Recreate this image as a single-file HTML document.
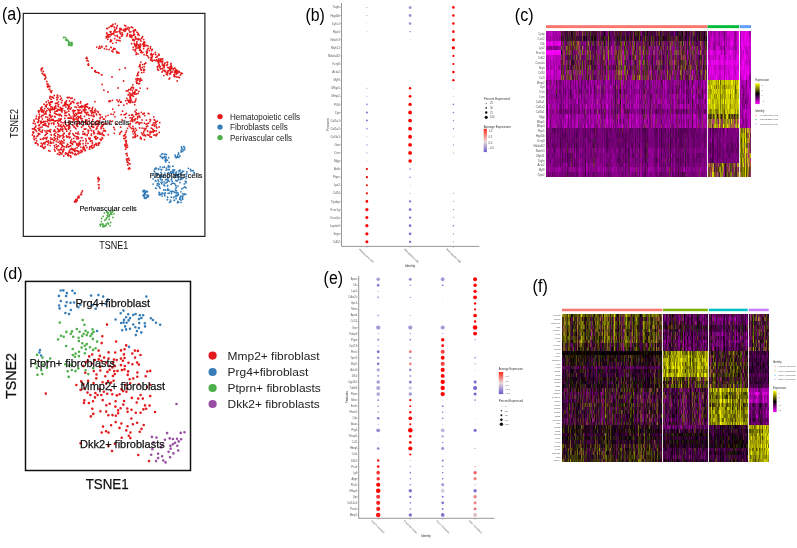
<!DOCTYPE html>
<html><head><meta charset="utf-8"><style>
html,body{margin:0;padding:0;background:#fff;}
svg{display:block;font-family:"Liberation Sans", sans-serif;will-change:transform;}
</style></head><body>
<svg width="797" height="548" viewBox="0 0 797 548">
<rect width="797" height="548" fill="#fff"/>
<text x="2" y="19.9" font-size="18" fill="#000" textLength="19.6" lengthAdjust="spacingAndGlyphs">(a)</text>
<path fill="none" stroke="#e41a1c" stroke-width="1.8" stroke-linecap="round" d="M55.5 103.5h0M71.2 117.1h0M35.9 126.1h0M34.4 121.4h0M63 146.3h0M40.7 108.1h0M78 153.9h0M74.2 119.1h0M95 112.3h0M54.4 145.6h0M45 130.8h0M78.8 117.5h0M72.1 98h0M81.9 121h0M54.8 131h0M65.1 112.9h0M90.3 138.2h0M49.6 130.3h0M70.4 149.3h0M85.5 112.2h0M62.5 141.9h0M42.8 124.9h0M34.5 136.2h0M88.1 130.2h0M96.3 113.8h0M83 131.6h0M74.5 122.8h0M66.6 136h0M36.1 138.3h0M92.3 112h0M60.1 136.3h0M33.3 123.2h0M36 142.6h0M41.2 109.6h0M60.5 149.1h0M37.6 122.4h0M72.2 149.8h0M52.2 120.2h0M58.1 149.9h0M44.6 108.7h0M48.8 124.6h0M75.1 110.6h0M58.9 129.8h0M102 137.6h0M69.7 133h0M98.1 143.3h0M96.2 144.4h0M60.6 119.2h0M39.3 134.1h0M47 104.3h0M56.7 97.3h0M39.1 117h0M77 103.4h0M50.2 116h0M58.5 101.8h0M66 124.6h0M56.9 110.7h0M70.6 103.3h0M70.6 155.8h0M95.4 138h0M50.9 117.2h0M43.9 142.8h0M71 143.2h0M56 108.1h0M94.6 144.9h0M92.1 140.8h0M48.4 126.7h0M57.9 95.8h0M50.8 137.8h0M102.3 122.3h0M102.2 117h0M47.9 108.3h0M46.1 106.9h0M77.7 150.9h0M93.7 124.3h0M79.9 144.5h0M37.9 135.7h0M98.8 143.4h0M87 124.2h0M44.8 143.9h0M56.2 144.6h0M103.4 119h0M61.3 153.8h0M85.2 104.7h0M98.5 145h0M42.4 146.2h0M104 135.5h0M57.5 128.7h0M103.3 135.1h0M70.5 153h0M63.7 149.1h0M92.7 107.3h0M50.2 112.5h0M49.4 131.1h0M50.8 120.5h0M57.7 123h0M74.7 151.2h0M62.7 152h0M68.7 127.6h0M64.1 105.6h0M44.3 123.9h0M85.2 129.2h0M55.7 126.8h0M72.6 143.6h0M39.4 129.4h0M50 111.5h0M88.7 126.1h0M73.1 142h0M99 122h0M76.9 126h0M69.4 137.8h0M65 127.7h0M66.9 153.5h0M83.3 149.4h0M72.9 153.6h0M40.6 121.9h0M37 136.3h0M43 139.3h0M80.4 103h0M61 124.8h0M43.5 121.3h0M69.7 115.4h0M46.1 114.1h0M72.5 121.8h0M77.7 126.4h0M39.3 110.8h0M51.6 102.2h0M62.8 151.6h0M92.1 110.3h0M73.8 138.3h0M82.5 120.9h0M78.5 144.7h0M65.1 115.4h0M72.5 152.6h0M51.4 102.2h0M70.5 109.1h0M54.7 113.3h0M87.7 112.3h0M68.6 105.2h0M57.2 95.1h0M85.8 128.8h0M45.6 124h0M92.1 121.3h0M68.2 146.7h0M60.6 126h0M56.9 146.6h0M83.8 134.2h0M61.5 116h0M36.8 140.8h0M50.5 104.3h0M95.9 136.4h0M52.4 109.3h0M53.3 123h0M43.2 122.2h0M103.5 128.6h0M54.5 116.5h0M66.7 125.8h0M46.5 125.9h0M38.2 119.2h0M54.1 108.7h0M74.9 127.4h0M87.1 135.6h0M84.5 149.6h0M60.4 114.6h0M85.1 134.7h0M97.5 133.6h0M85.8 145.3h0M41.9 127.1h0M68.9 146.8h0M91.1 146.2h0M74.8 150.4h0M82.1 137.8h0M41.4 116.8h0M72.9 133.7h0M77.9 137h0M90.5 141.3h0M68.8 127.8h0M86 109.9h0M85.5 107h0M68.1 118.2h0M67 137.2h0M88.3 133h0M42.5 110h0M86.5 113.2h0M81.3 137.7h0M81.5 112.4h0M69.8 123.4h0M66.1 101.5h0M64.8 111h0M47.2 130.7h0M42.1 127.1h0M92.2 126.2h0M97.1 138.5h0M48.7 150.7h0M64.9 113.1h0M42 115.7h0M55 147.1h0M100.1 139.1h0M98.2 112.3h0M59.1 118.8h0M105.4 131.2h0M58.3 121.1h0M51.9 97.1h0M50 110.8h0M69.4 106h0M59.2 154.4h0M96.9 145.3h0M78.2 151.7h0M101.1 128.7h0M85.7 122.5h0M87.2 134.7h0M52.8 97.1h0M66.5 115.7h0M53.6 140.7h0M80.1 113h0M72.8 118.9h0M44 104.2h0M68.3 107.9h0M64.9 102.8h0M56.9 99.8h0M49.3 110.3h0M73.7 150.1h0M87 120.1h0M62.2 127.1h0M59.5 115.4h0M68.8 133.8h0M51.6 109.7h0M61.1 122.2h0M34 138.8h0M97.8 123.9h0M60.5 152.6h0M92.6 148.1h0M70.2 137.1h0M101.2 139.6h0M79.4 142.3h0M65.4 128.9h0M79.3 113.2h0M41.1 109.9h0M78.6 138.2h0M70.4 130.8h0M60.3 108.1h0M53.9 123.1h0M102.5 134.7h0M96.9 124h0M48.9 109.6h0M102.6 138.5h0M54.3 95.4h0M68.4 136.6h0M62.6 110.3h0M80.9 152.5h0M56.6 120.6h0M82 106.5h0M90.5 140.7h0M68.9 107h0M92.2 108.6h0M48 142.1h0M68.2 105.8h0M48.1 120.4h0M42.4 118.9h0M36 118.9h0M100.4 114.8h0M80.7 117.9h0M59.2 115h0M52.3 116.2h0M58 145.9h0M92.3 121.3h0M35.2 123.9h0M59.1 152.1h0M45.9 117h0M62 145.3h0M56.7 111.2h0M102.4 133h0M51 139.3h0M55 111.4h0M99.3 134.1h0M48.9 124h0M60.2 109.9h0M63.4 125.2h0M90.9 140.7h0M92.4 142.8h0M76.5 114.7h0M55.2 116.9h0M46.2 141.6h0M49.9 98.1h0M34.1 128.9h0M51.2 99.3h0M38.7 125.5h0M84.1 122.2h0M48.9 120.3h0M77.4 136.6h0M86.9 147.5h0M80.7 101.7h0M93.7 112.6h0M73.5 117.6h0M86.1 106.6h0M49.9 109.5h0M74.3 114.6h0M69.1 108.6h0M91.3 135.3h0M66.7 145.8h0M103.5 130.9h0M100.3 117.5h0M95.6 122.4h0M50.8 143.2h0M75.7 133.2h0M47.7 117.3h0M42 106.9h0M50.4 131.9h0M79.8 106.9h0M81.7 105.7h0M54.7 106.9h0M90.4 128.6h0M60.8 128.8h0M43.7 137.9h0M61.9 111.9h0M54.7 129.8h0M58 120.3h0M58.5 106.5h0M85.4 106.9h0M62.9 145.8h0M61.6 149.8h0M65.7 104.3h0M32.7 128.9h0M78.9 151.5h0M38.2 133.3h0M59 125.9h0M42.4 111.9h0M70.1 152.5h0M39.6 125h0M46.2 102h0M67.3 97.4h0M100 118.5h0M98.4 133.2h0M89.7 108h0M61.5 147.5h0M47.7 119.3h0M69.9 118.2h0M40.7 109.6h0M85.2 150.7h0M34.6 129.5h0M75.9 128.8h0M77.9 113.4h0M62.6 130.8h0M63.1 135.6h0M64.6 121.7h0M33.3 133.1h0M67.8 108.9h0M88 143.3h0M65.5 105.3h0M66.6 100.8h0M41.1 121.2h0M38.4 121.9h0M85.8 143.1h0M69.4 97.4h0M68.8 117.9h0M85.7 145.5h0M67.9 154.5h0M36.4 116.2h0M87.5 104h0M97.9 111.4h0M68.7 152.1h0M47 110.6h0M69 114.2h0M81.8 150.6h0M44.1 143.6h0M40.1 127.5h0M78.6 116.7h0M96.1 129.1h0M74.5 149.8h0M78.1 118.9h0M90.5 110.7h0M104.8 130.5h0M58.2 142.3h0M64.3 105.2h0M92.2 110h0M74.9 135.9h0M77.1 121.3h0M69.5 150.6h0M41.4 108.4h0M39.5 116.6h0M48.2 130.9h0M75.1 106.9h0M77.7 124h0M49.6 103.4h0M38.7 134.3h0M96 143.4h0M61.3 110.7h0M32.4 134.8h0M73.2 116.1h0M79.3 122h0M100.9 140.4h0M50 151.1h0M34.9 127.6h0M61.6 109h0M35.9 143.2h0M32.5 128.8h0M46.3 132.4h0M69.1 134.5h0M54.5 113h0M89.5 139.2h0M86.7 123.4h0M86.4 122.6h0M48.3 100.7h0M56.4 141.4h0M83 147.4h0M84.2 110.8h0M72.5 121.6h0M89.9 127.1h0M51.2 134.6h0M50.8 108.9h0M86.7 114.7h0M96.6 114.8h0M78.2 137.8h0M66.3 147.1h0M83.2 148.2h0M63.9 139.8h0M73.7 113.4h0M47.3 133.3h0M57.1 103h0M82.8 134.1h0M83.1 140.6h0M36.5 131.3h0M58.5 145.7h0M94.2 145.3h0M78.5 146.1h0M78.3 112.2h0M87.6 107h0M55.2 120.8h0M52.5 139.2h0M58.8 114.3h0M102.8 125.8h0M94.5 133.1h0M33.9 120.1h0M63.9 142.9h0M57.2 138.5h0M71.3 107.7h0M67.9 144.4h0M45.2 125.3h0M57.3 146.6h0M52.6 107.6h0M83.3 125.5h0M39.7 134.2h0M37.6 143.8h0M83.1 143.7h0M78 116.5h0M61.3 118.9h0M46.8 110.6h0M98.2 125.7h0M59.6 149.9h0M48.9 123.1h0M70.9 141.7h0M87.2 134.8h0M57.4 114.6h0M43.1 147.3h0M80.5 140.9h0M44.1 121.7h0M88.8 130.6h0M40.9 123.2h0M45.8 113.1h0M83.6 147.3h0M49.9 114.6h0M70.2 104.2h0M55.8 106h0M39.1 118.3h0M85.8 121.5h0M46.1 134.3h0M60.3 96.1h0M61.1 144h0M82.8 125.6h0M78.3 123.3h0M42.1 132.2h0M61.5 140.8h0M98.7 121.2h0M74 141.3h0M62.7 108.4h0M85 149.6h0M88.8 138.2h0M94.6 137h0M79 122.7h0M54.7 133.7h0M38.8 120.5h0M89.4 139.1h0M78.1 109.8h0M62.9 122.8h0M77.5 119.9h0M45.1 135.4h0M89.1 118.6h0M67.8 155.6h0M34.4 128.3h0M43.5 143.4h0M101.1 126.8h0M39.1 130.3h0M71.6 139.3h0M69.5 134.4h0M92.9 127h0M61.9 153.9h0M47.1 137.3h0M60.6 142.2h0M57.9 97.6h0M51.9 119.3h0M62.7 138.1h0M57.6 110.8h0M48.2 140.9h0M101.1 127.3h0M47.8 144.7h0M60.6 107.4h0M41.2 143.1h0M91.4 134.1h0M66.3 129.5h0M57.7 134.4h0M92.1 145.6h0M66.2 112.6h0M72.1 101.9h0M93.2 116.4h0M94.5 110.9h0M59.4 110h0M63.1 105.7h0M52.4 109.5h0M53.9 124.3h0M63.3 134.3h0M80.3 116.9h0M98.5 143.6h0M42 146.5h0M80.1 109.8h0M48.9 143.1h0M57.2 103.6h0M98.4 144h0M76.6 143.4h0M81 150.5h0M89.8 147h0M46.2 137.8h0M70.8 140.9h0M64 149.8h0M72.6 110.7h0M48.9 102.8h0M68 97.7h0M66.1 103.1h0M67.9 125.5h0M71.5 148.5h0M66.2 129.6h0M80.8 147.1h0M59.3 120.5h0M78.7 134.2h0M33.7 132.5h0M69.3 124.6h0M84.7 133.5h0M56.6 148.5h0M58.7 124h0M70.4 142.7h0M47.2 121.5h0M62.8 129h0M92.7 112.5h0M92.8 119.5h0M68.8 111.2h0M69 155.6h0M80 144.1h0M56.1 114h0M53.7 131.1h0M78.5 143.6h0M34.6 139.7h0M97 128.5h0M99.7 132.5h0M80.2 143.9h0M98.8 132.7h0M77.2 133.6h0M83.1 131.7h0M81.9 107.4h0M80.9 122.9h0M80.1 117.3h0M92.4 143.7h0M73.1 110.3h0M53.9 120.7h0M55.1 121.2h0M79 153h0M35.6 129.9h0M91.5 130.4h0M99.5 122.2h0M75.3 153.3h0M104.1 124h0M62.1 100.4h0M79.2 107.4h0M84.8 109.3h0M85.8 105.8h0M35.3 142.9h0M84.3 148.1h0M78.1 138.8h0M65.6 152.9h0M32.7 135.1h0M54.6 140.1h0M43.9 148.4h0M67.5 97.8h0M58.8 130.3h0M64 136.8h0M42.3 144.4h0M58.4 134.8h0M78.1 120.4h0M60.1 143.7h0M73.5 112.5h0M83.6 146.3h0M56.1 132.3h0M76 113.5h0M63.3 150.1h0M59.4 137.3h0M76.1 150.6h0M91.3 111.9h0M62.8 131.1h0M73.9 111.3h0M94.5 145h0M82.2 151.7h0M57.2 99.4h0M72.5 144.4h0M46.4 141.4h0M76.4 136.8h0M66 107.1h0M50.4 141.5h0M90.1 123.1h0M38.1 145h0M88.7 108.7h0M74.4 150.7h0M97 127h0M66.8 131.2h0M45.6 106.2h0M45 138.3h0M58.4 129.7h0M61.3 126.7h0M39.4 134h0M75.7 115.8h0M95.6 124.7h0M73.5 110.5h0M89.2 120.9h0M50.4 96.4h0M46.5 105.4h0M72.8 149h0M65.5 153.9h0M75.8 119.1h0M50.6 129.7h0M81.1 118.8h0M64.7 104.1h0M50.5 116.2h0M89.7 138.8h0M81.6 112.9h0M75.3 141.9h0M39.4 114.5h0M50.6 101.8h0M67.2 104.7h0M49.2 103h0M84.6 106.3h0M41.9 122.3h0M93.8 133.7h0M65 115.5h0M92.4 124.2h0M78 103h0M84.3 129h0M51.3 120h0M43.1 111.1h0M93.6 115.1h0M44 125h0M55.1 151.1h0M81 107.3h0M66.9 112.1h0M50.7 106.7h0M38.8 112.3h0M85.3 112.6h0M91.2 115.5h0M93.1 127.3h0M45.3 121.5h0M73.8 102.7h0M44.9 142.7h0M84.2 106.4h0M76.6 125.3h0M51.8 107h0M76.9 138.7h0M91.6 130.8h0M85.7 119.8h0M91.5 115.2h0M98.9 124.1h0M96 110.8h0M45.3 146.6h0M58.7 104.3h0M59 131.6h0M64.5 126.6h0M40.5 139.2h0M55.3 138.9h0M59.8 141.5h0M102.1 125.3h0M69.5 127.5h0M50.1 145.6h0M83.3 106.3h0M32.9 131.9h0M74.2 127h0M95.9 139.3h0M68.1 125.6h0M52.3 101.7h0M61.6 102.7h0M75.3 148.4h0M42.5 130.2h0M86.8 104.4h0M60.3 120.6h0M93.7 127.2h0M60.8 153.5h0M89 115.4h0M49.4 115.2h0M63.8 156h0M91.8 147.6h0M35.6 126.7h0M50 120.7h0M78.4 117h0M70.8 98.4h0M63.6 125.9h0M100.8 134h0M79 110.8h0M81.7 111.3h0M71.7 152.4h0M77.5 109.8h0M70.1 121.4h0M54.2 134.9h0M40.5 131.6h0M102.3 126.5h0M51.4 123.5h0M71.1 103.4h0M53.3 119.7h0M52.9 109.4h0M38.1 128.5h0M93.7 132.5h0M73.7 135.1h0M46.5 138.9h0M65.7 128.6h0M76.9 123.6h0M54.5 109.3h0M48 126.4h0M59.9 131h0M95.3 109.1h0M72.7 125.1h0M53.4 142.8h0M96 121.8h0M36.2 118.5h0M64.1 140.5h0M43 115.3h0M57.6 136.7h0M77.1 147.7h0M92.3 126.7h0M86.2 141h0M87.7 124h0M89.6 138.8h0M88.2 131h0M68.4 154.8h0M73.9 120.4h0M89.5 149.2h0M76.5 118h0M65 122.9h0M85 112.5h0M60.5 129.1h0M60 114.4h0M89.8 147.7h0M68.5 122.1h0M45.2 113.2h0M42.3 130.4h0M74.6 99.6h0M99.6 114.5h0M93.9 147h0M63.1 151.5h0M73.3 125.4h0M99.6 142.9h0M69.8 126.7h0M82.2 118.6h0M58 131.6h0M57.5 153.9h0M81.6 127.2h0M38.9 117.7h0M61.2 129.5h0M74 149.6h0M102.9 124.8h0M64.1 133.5h0M70.8 145.6h0M44.2 114.1h0M69.5 101h0M97.7 137.6h0M97.2 120.6h0M43.2 112.3h0M69.4 125.9h0M45.5 105.5h0M78.2 132.1h0M62 143.8h0M54.3 137.7h0M93.8 131h0M81 106.4h0M68.4 129h0M51.3 134.9h0M70.9 157h0M74.1 120h0M70.2 146h0M76.9 145h0M88.5 114.4h0M84.5 116.4h0M44.1 110.8h0M74.6 116.1h0M64.8 118.4h0M74.7 154.6h0M64.1 133.2h0M50 96.8h0M54.9 150.8h0M91.9 113.2h0M76.1 154.7h0M68.2 154h0M49.6 118.6h0M84.7 108h0M54.4 149.3h0M67.4 144.1h0M49.6 105h0M58.1 105.8h0M73.1 101.3h0M71 118.4h0M61.4 98.1h0M40.7 146.2h0M57.6 109.5h0M45.7 111.9h0M80.7 115.6h0M43.1 138.6h0M38.4 111h0M64.4 146.9h0M57.7 139.7h0M59.5 154.6h0M68.9 108.4h0M65.1 102.3h0M83.8 110.5h0M98.1 131.1h0M58.8 109.6h0M76.5 107.4h0M69.5 128.3h0M51.6 142.8h0M60 135.6h0M73.6 113.6h0M60.4 99.4h0M44.7 147.8h0M55.3 135.9h0M39.7 129.5h0M58.3 125.6h0M53.5 98.2h0M54.6 108.3h0M40.9 139.3h0M52.5 119.5h0M98.8 143h0M41.4 111.5h0M33.8 137h0M80.6 116.2h0M62.1 135.7h0M83.3 109.7h0M94.2 116.3h0M78.1 105.5h0M85.8 139h0M42.5 68.2h0M43.3 71.5h0M44.2 75.3h0M41.8 68.4h0M47.9 83.9h0M49.7 89.2h0M48.7 85.8h0M44.8 79h0M45.5 76.2h0M49.1 89.3h0M44.8 74.6h0M49.8 89.6h0M42.1 68.5h0M41.4 70.7h0M42.1 73.3h0M49.5 86.4h0M48.1 85.5h0M47.8 87.3h0M44.7 74.5h0M51.4 91.6h0M50.6 91.5h0M47.7 87.1h0M47.2 83.9h0M41.1 69.1h0M45.1 78.7h0M51.8 90.8h0M49.8 86.7h0M47.3 86.2h0M43.4 74.4h0M51.3 92.4h0M46.8 81.5h0M41.9 68.9h0M45.7 78h0M44.9 75.3h0M117.6 36.7h0M109.1 27.3h0M114.1 31.8h0M121.8 29.7h0M110.2 41.5h0M107.3 34.4h0M110.8 39.9h0M114.7 38.7h0M107.8 36.7h0M115.7 32.1h0M118.7 40.3h0M106.8 28.4h0M111.3 26.5h0M108.3 37.4h0M112.9 24.5h0M110.6 32.3h0M111.3 25.7h0M106.2 37.8h0M122.6 34.4h0M106.7 32.8h0M112.6 26.2h0M121.5 36.2h0M116.2 42.6h0M116.6 27.5h0M120.1 28.5h0M108.1 36h0M107.8 39.3h0M119.9 38.3h0M110.7 26.1h0M119.8 29h0M111.4 34.1h0M111.5 40.3h0M115.1 35.8h0M119.7 37.5h0M113.7 33h0M107.6 28.6h0M115.3 23.8h0M117.3 25.6h0M112.8 43.3h0M112.7 26.2h0M120.1 40.8h0M119.1 31.4h0M109.9 36.6h0M114.1 31.3h0M110.9 31.7h0M116.9 40.2h0M110.1 31.7h0M115 29.7h0M110.6 32.1h0M122.3 35.6h0M117.1 35.4h0M110.1 34.6h0M122.1 32.6h0M116.5 28.6h0M111 41.5h0M117.1 31.8h0M106.3 36.5h0M111.5 34.8h0M112.3 33.7h0M115 30.7h0M121 34.1h0M114.4 27.5h0M113.7 34.2h0M108.8 34.6h0M106.8 33.3h0M110.9 47.3h0M106.4 46.1h0M106.8 49.3h0M109.2 49.4h0M114.6 48.9h0M119 53.1h0M98.8 48.3h0M106 46.4h0M118.5 52.3h0M115 49.1h0M115.1 48.8h0M102.2 46.8h0M96.8 47.1h0M101.6 46.5h0M113.1 49.6h0M116.8 51.9h0M116.6 51.5h0M117.1 53.1h0M100.4 48.1h0M104.5 48.7h0M111.9 50.9h0M99.5 46.5h0M113 51.8h0M113.9 48.3h0M111.2 47.5h0M151 57.4h0M127 35.7h0M160.6 60.2h0M134.6 34.7h0M169 70.4h0M131.2 27.2h0M127.4 34.5h0M133.4 35.2h0M137 41.6h0M144.5 43.9h0M171.4 72.1h0M158.5 65.8h0M179.1 71.4h0M143.8 43.3h0M147.6 55.8h0M170.9 64.2h0M131.6 37.3h0M160.1 61.6h0M150.4 48.5h0M170.8 69.4h0M170.8 72.5h0M127.2 28.8h0M133.2 39.5h0M158.9 54.2h0M133.7 32.9h0M147.3 51.7h0M143.7 46h0M121.1 28.8h0M144.8 42.2h0M144.1 54.7h0M125.8 26h0M160.8 60.8h0M138.3 39.7h0M137.3 39.1h0M148.7 57.7h0M181.8 73.6h0M151.9 57.7h0M169.5 73.7h0M156 60.7h0M142.5 44.2h0M164.5 70.2h0M174.4 76.6h0M136.7 42.9h0M163.5 65.2h0M158.5 59h0M153.6 54.1h0M126 28.4h0M135 45.2h0M149.4 50.6h0M139.1 35.3h0M144.1 43.8h0M119.8 31.5h0M147.2 49.9h0M155.7 54.6h0M135.5 30.4h0M141 41h0M162.4 65h0M176.4 73.7h0M173.9 75h0M128.1 27.5h0M150.6 59.6h0M138.1 46.9h0M142.9 52.3h0M125.9 30h0M174.7 71.5h0M142.5 36.7h0M133.9 31.8h0M162.7 61.1h0M145.4 45.3h0M152.7 60.3h0M160.4 58.9h0M160.6 69h0M159.1 55.2h0M165.3 71h0M143.9 43.2h0M133.7 35.2h0M170.7 72.9h0M176.2 71.9h0M137.5 44.6h0M158.7 60.2h0M160.4 61.1h0M125.5 29h0M123.6 30.6h0M140.2 44.1h0M157.5 56.1h0M150.5 46.7h0M174.2 75h0M181.3 73.5h0M154.4 60.1h0M143.9 42.2h0M134.2 30.4h0M167.6 62.5h0M168.8 67.9h0M151.7 55.1h0M152.3 56.5h0M157.1 56.8h0M165 63h0M160.2 66.3h0M167 64.9h0M163.1 70.7h0M148.2 48.5h0M148.5 57.4h0M132.6 27.7h0M147.3 52.7h0M166.6 65.3h0M180.4 75.1h0M166.9 62.1h0M124.7 25.3h0M125.2 29.9h0M155.3 52.5h0M176.4 74h0M133.5 30.4h0M161.1 68.8h0M135.3 29.7h0M167.5 64.4h0M178.3 77.1h0M158.6 59.1h0M167.8 67.4h0M135.9 44.9h0M127.5 33.7h0M125 31.4h0M141.3 51h0M124.9 30.5h0M141.4 51.8h0M175.1 76.5h0M137.8 34.5h0M138.7 38.6h0M138.5 34.5h0M164.1 67.2h0M134.3 43.4h0M135.3 36.8h0M129.7 36.5h0M173.1 69.8h0M162.6 68.5h0M140.2 39.7h0M146.4 55.2h0M131.1 35.2h0M155.9 57.3h0M151.4 58.9h0M132.9 39.2h0M139.2 48.3h0M173.4 68.8h0M167.4 74.9h0M143.7 39.6h0M126.7 36.1h0M119.8 32h0M130.1 35.1h0M129.4 28.1h0M162 59.1h0M136.2 46.1h0M159.9 67.5h0M181 73h0M135 39.6h0M162.7 58.9h0M151.8 50.5h0M147.9 46h0M120.1 33.1h0M135.9 44.3h0M129.6 31.9h0M130.9 31.8h0M132.2 36h0M129.9 35h0M152.2 49.3h0M140.7 45.5h0M175.1 72.9h0M132.7 40.1h0M170.4 74h0M141.5 38.4h0M142.3 37.4h0M124 29.4h0M143.6 48.7h0M144.2 42h0M159.2 64.3h0M152.2 55h0M157.6 67.4h0M170 73.4h0M144.6 46.3h0M141.7 52.7h0M143.4 46.3h0M146.4 45.3h0M182.3 73.6h0M152.4 61h0M136.7 38.7h0M143.7 44.6h0M137 32.2h0M167.8 72.2h0M176.9 70.3h0M161.4 61.6h0M157.4 61h0M135 44.6h0M119.9 30.2h0M170.4 70.7h0M151.1 60.4h0M136 38.2h0M164.4 64.1h0M162.3 63h0M150.7 54.7h0M160.3 60.9h0M156.6 59.9h0M135.4 37.5h0M134.1 40.7h0M146.7 53.2h0M151.3 53.4h0M138.3 33.5h0M174.6 74.8h0M151.1 53.9h0M170.2 66.5h0M130.9 36.9h0M146.4 51.9h0M166.1 72.1h0M174.7 68h0M140.2 49.7h0M171.3 65.8h0M133.3 31.2h0M128.9 30h0M139.8 48.8h0M138.6 47.7h0M136.3 53h0M138.5 46.5h0M136.7 44.6h0M135.1 46.1h0M133.2 49.6h0M131.6 43.7h0M138.9 45.1h0M134.6 44.6h0M138 53.9h0M133.2 47.3h0M139.7 50.3h0M135.9 46.5h0M138.8 45.4h0M135.5 50.7h0M139.9 46.3h0M135.2 49.7h0M135.1 51h0M139.3 46.7h0M136.8 48.4h0M140.9 52.4h0M136.1 47.9h0M140.2 47.2h0M136.2 54.4h0M167.9 70.8h0M169.8 78.1h0M174.1 76.3h0M174.4 72.2h0M176.8 76.9h0M159.2 64.9h0M158.7 61.9h0M176.3 72.4h0M175.2 70.6h0M167.3 72.8h0M165 71.4h0M163.4 65.8h0M164.5 65.6h0M179.2 72.2h0M169.8 69.2h0M157.4 66.7h0M179.4 77.6h0M161.5 61.1h0M170.5 68.2h0M168.5 70.8h0M171.8 68h0M157.4 66.9h0M170.4 69h0M171.3 67.1h0M163.9 75.6h0M177.7 73h0M157.6 69.5h0M177.6 71h0M174.2 74.8h0M164 64.6h0M158.7 62.1h0M177.2 80.9h0M167.2 74.5h0M163.9 65.1h0M171.7 67h0M171.1 63.4h0M166.3 74.1h0M162 72h0M158.5 70.2h0M175.7 69.5h0M163.9 67.7h0M176.3 70.9h0M169.1 79h0M172.1 71.9h0M158.4 63.1h0M135 92.3h0M140.4 68.1h0M140.1 64.5h0M141.8 80.2h0M136.6 89.8h0M137 75.6h0M133.5 88.7h0M133.7 92.8h0M132.7 95.6h0M130.7 89h0M136 79h0M139.9 81.4h0M138.9 78.8h0M128.4 100.4h0M130.4 98.4h0M130.6 96.8h0M133.5 87.7h0M137.8 75.5h0M133.4 96.4h0M135.8 89.8h0M142.3 67.4h0M128.1 94.8h0M140.1 66.6h0M137.3 82.8h0M129.7 97.1h0M130.9 95.5h0M136.5 81.9h0M130.8 93.8h0M129.3 92.8h0M134.3 93.5h0M139.5 83.6h0M130.6 102.4h0M138.6 83.8h0M139.7 80.4h0M133.4 93.5h0M129.1 95.1h0M127.6 100.2h0M136.3 81.2h0M140 66h0M137.2 78.7h0M140.7 79.8h0M137.8 73.4h0M132.8 92.5h0M140.9 62.1h0M140.6 78.3h0M140.7 69.6h0M141.4 70h0M140 64.6h0M142.7 64.6h0M132.9 84.8h0M133.6 92.9h0M137.9 74.9h0M132 87.3h0M129.7 93.3h0M136.6 90.2h0M145.8 63h0M136.8 83.3h0M143.9 72.1h0M141.8 72.7h0M132.1 94.4h0M143.9 69.1h0M130.7 98.7h0M132.2 87.2h0M144.6 64h0M138.6 72.1h0M144.6 70.1h0M144.3 66.7h0M143.8 69.7h0M138.6 78.9h0M143.6 70h0M138.9 91.4h0M140.1 88.1h0M129 101.1h0M128.7 89.6h0M132.3 90.3h0M132.9 102.3h0M136 98.8h0M131.3 100.1h0M131.5 87.6h0M135.4 101.1h0M130.4 96.7h0M138 93.5h0M134.7 94.2h0M130.4 89.8h0M130.7 101.2h0M134.9 91.3h0M126.4 90.9h0M136.2 94h0M135.6 100.5h0M126.9 98.3h0M125.7 100.8h0M127.9 90.9h0M128.6 102h0M134.8 102.1h0M131.3 95h0M88.2 65.1h0M88.7 65.3h0M88.5 63.9h0M88.2 61.1h0M86.2 58.2h0M86.9 60.7h0M87.2 58.7h0M86.7 57.4h0M88 64.3h0M95 71.3h0M101.5 74.9h0M92.2 67.9h0M95.6 72h0M95.2 70.7h0M98.6 72.6h0M96.9 72.3h0M101.9 74.7h0M94.8 71.2h0M91.7 68h0M99 73.3h0M119.5 69.6h0M125.2 68h0M123.6 81h0M102.2 84.4h0M103.9 90.2h0M94.9 101.7h0M117 100h0M147.4 88.5h0M139.2 66.4h0M137.5 80.3h0M112 77h0M108 92h0M118 88h0M143.7 133h0M159.2 132.4h0M139.4 115.8h0M133.1 128.5h0M148.2 113.3h0M141.7 132.9h0M150.5 119.9h0M154.7 120.2h0M147.1 123.8h0M156.2 130.9h0M141.3 139h0M152.8 131.3h0M137.7 116.5h0M148.1 135.1h0M155.8 121.7h0M132.9 126.4h0M153.8 116.8h0M138.9 113.5h0M138.4 122.7h0M134.6 120.7h0M139.2 124.3h0M131.8 119.3h0M141.8 122.8h0M135.1 137.4h0M143.8 135.4h0M150.3 133.8h0M139 116.3h0M154.5 125.2h0M147.6 130.8h0M154.3 119.7h0M140.7 137.7h0M146.5 120.1h0M150.1 119.3h0M156.9 127.9h0M140.4 138.3h0M137.3 118.8h0M130.4 127.4h0M154.4 131h0M142.4 134.6h0M131.9 120.6h0M150.2 131.4h0M155.1 123h0M140 123h0M156.2 121.8h0M134.5 136.4h0M146.6 126.6h0M151.4 137.2h0M132.7 121.5h0M130.3 123.6h0M145.6 135.9h0M151.4 128.2h0M142.1 128.1h0M137.6 135.7h0M155.6 135.5h0M133.3 130.8h0M154.4 126h0M154 135h0M150.7 136.6h0M132.6 131.7h0M152.6 129.1h0M137.6 113.9h0M149.1 135.1h0M137.6 118h0M135.8 114.6h0M156.1 122.1h0M157.4 121.1h0M132.9 119.7h0M130.1 124.5h0M147.4 134.6h0M131.9 118.3h0M150 121.5h0M139.6 127.9h0M135.6 134.2h0M135.3 135.5h0M156.3 127h0M129 126.1h0M142.8 113.8h0M150.1 132.3h0M148.5 123.2h0M145.9 128.5h0M135.9 136.3h0M144.7 115.7h0M143.9 131.1h0M152.8 124.7h0M140 117.3h0M142.1 119.9h0M134.8 132.6h0M146.1 124.3h0M134.9 131.7h0M134.9 119.4h0M147.6 131.6h0M153.3 132.1h0M130.2 117.8h0M153.3 129.6h0M137.2 122h0M133.7 129.7h0M140.4 137.2h0M156.2 124.7h0M131.6 115h0M133.4 133.8h0M144.5 139.7h0M144.7 135h0M132.5 115h0M147.7 126.2h0M135.3 119.1h0M153.6 122.8h0M156.4 135.6h0M135.5 128.4h0M141.3 112.3h0M157.1 134h0M144.2 113.2h0M159.1 127h0M130.5 121.1h0M149.9 136.8h0M145 129.9h0M135.2 118.8h0M159.7 122.7h0M131.6 128.6h0M132.4 117.6h0M144 128.4h0M150.3 131.8h0M143.4 113.9h0M144.5 123.2h0M151.6 132h0M136.4 130.2h0M152.2 125.2h0M133 137.5h0M149 113.8h0M136 123h0M155.6 135.1h0M126.4 113.3h0M109.1 101.7h0M136.3 114.4h0M109.1 100.9h0M115 116.8h0M114.4 112.1h0M135 111.5h0M134.7 104.7h0M112.4 100.3h0M130 101.9h0M136.2 112.8h0M113.4 114.5h0M112.7 109.2h0M111.1 114.2h0M133.8 116.5h0M108.1 115.3h0M124.1 114.8h0M122.6 111.2h0M125.2 114.4h0M110.3 101h0M123.8 105.2h0M119.5 100.1h0M129.6 100.4h0M132.1 114.6h0M121.3 102.2h0M126.9 103.7h0M120.4 102h0M136.3 109.8h0M118.2 101.7h0M129.2 115.3h0M132.6 101.8h0M118.7 105.4h0M130.1 102.7h0M125.6 117.6h0M130.3 100.1h0M105.8 116.5h0M120.6 127.2h0M116.5 124h0M113.8 127.4h0M119.6 134.2h0M121.6 131.5h0M125.9 132.4h0M121.2 114.7h0M120.3 132.7h0M114.3 133.3h0M108.3 134.7h0M114.6 129.5h0M110.1 120.6h0M112.4 121.1h0M106.3 123.7h0M127.5 128.4h0M126.4 130.8h0M124.1 135.9h0M122.1 120h0M110 123.1h0M104.5 119.1h0M125.3 134.3h0M125.5 146.4h0M127.2 162.1h0M128.4 162.7h0M123.8 138.6h0M125.8 145.8h0M126.4 147.6h0M129.9 168.7h0M126.9 153.4h0M126.1 153.8h0M125.6 149.2h0M126.6 159.1h0M125.5 137.7h0M124.8 145h0M124.8 135h0M126.7 160.1h0M125.4 140.8h0M127.5 158.9h0M127.5 161.1h0M126.4 143.3h0M123.6 135.8h0M126.1 141.9h0M128.5 168.8h0M127.2 155.5h0M127.1 155.8h0M127.4 145.1h0M125.9 136.8h0M127.5 147.2h0M124.8 138.6h0M128.4 169h0M125.1 144.4h0M126.4 140.7h0M126.4 145.3h0M128.2 158.9h0M129.4 160.2h0M129.3 167.6h0M130 163.9h0M129.4 163.8h0M127.7 164.9h0M128.6 158.2h0M125 134.9h0M99.1 187.5h0M98.5 184.7h0M99.1 184.8h0M99.2 178.9h0M98.8 188.4h0M98.5 184.7h0M99.3 179.8h0M98.1 177.5h0M97.9 178.8h0M98.3 181.4h0M76 202h0M76.5 199.9h0M78.9 195.8h0M77.2 200.5h0M76.9 199.4h0M81.6 192.5h0M75.7 200.5h0M77.9 198h0M80.7 194.5h0M82.4 190.8h0M81.5 194.6h0M75.8 199.7h0M78 197h0M79.2 197.4h0M74.5 201.8h0M78.6 196.5h0M76.4 200.3h0M74.6 201.4h0"/>
<path fill="none" stroke="#377eb8" stroke-width="1.8" stroke-linecap="round" d="M181.2 150.4h0M176.3 157.1h0M184.6 147.6h0M177.8 154.8h0M175.1 155.2h0M178.8 157.4h0M176.3 157.3h0M183.5 149.8h0M178.3 157.2h0M184.3 147.6h0M176.8 157.2h0M179.9 156h0M181.1 151.9h0M181.7 148h0M182.7 151.4h0M176.2 157.9h0M184.6 149.5h0M178.7 153.8h0M183.9 146.4h0M177.9 154.8h0M182.1 148.8h0M178.5 152.8h0M181.6 146.9h0M175.4 156.7h0M177.7 156.7h0M168.2 166.9h0M164.3 157.1h0M168.8 167h0M166.5 154.6h0M168.7 157.7h0M163.2 157.3h0M165.1 160.6h0M166 159.5h0M160.2 156.1h0M164.9 156.7h0M165.4 159.4h0M165.7 161.9h0M169.2 162.3h0M168.4 165.7h0M166.3 168.1h0M162.7 158.6h0M166.2 157.4h0M165.3 158.8h0M162.8 153.7h0M162.5 157.3h0M161.5 154.5h0M165.2 156.9h0M166.5 160.6h0M164.7 154.5h0M161.5 157.4h0M165.3 154.2h0M167.5 160.1h0M169 166.8h0M161.1 172.4h0M173.5 183.2h0M167.3 199.8h0M176.1 198.7h0M186.5 176.2h0M186 181.5h0M163.1 177h0M167.6 186.1h0M182.7 196.7h0M175.8 185.5h0M157 175.3h0M176 188.3h0M181 200.2h0M186.7 173.3h0M172.9 172.9h0M177.2 175.7h0M161.2 179.9h0M171.3 191.7h0M174.8 183.9h0M176.5 196.4h0M153.2 184.1h0M176.7 192.9h0M175.6 172.8h0M161.1 182.4h0M186.5 173.9h0M184.5 174.8h0M178.7 179.7h0M176.2 195.1h0M157.4 174.5h0M160.4 176.1h0M154.2 171.2h0M167.2 182h0M155.6 188.1h0M186 187.9h0M165.4 192.8h0M168.2 172.7h0M169.8 166.7h0M176.6 172.1h0M179.8 197.8h0M175.4 190.1h0M177.6 202.7h0M159.8 195.1h0M163.5 175.7h0M181.7 188.8h0M182.7 199.3h0M173.6 173.5h0M178.4 176.4h0M159 192.4h0M153 174.7h0M162.2 193h0M186.9 171.6h0M164.7 185.8h0M164.1 181.9h0M169.7 175.8h0M154.8 169.2h0M158.6 169.5h0M174.8 192.5h0M162.1 196.1h0M178.5 179h0M170.2 173.2h0M185.5 187.3h0M154.7 171.8h0M177.2 180.6h0M178.1 174.7h0M180.9 196.5h0M156.2 188.3h0M159.6 192.9h0M181.1 196.1h0M161 169.5h0M176.2 187.5h0M157.8 173.3h0M173.3 170.1h0M175.2 175.2h0M162 182.1h0M171.6 193.5h0M160.7 177.1h0M175.4 192.3h0M174.5 200.3h0M160.1 177.8h0M176.2 175.9h0M158.4 174.6h0M180 197.4h0M178 202.4h0M180.8 177.8h0M164 193.4h0M156 167.9h0M170.9 171.7h0M169.1 173.5h0M157.1 185.3h0M171.2 179.8h0M178 186.1h0M180.1 170h0M155.4 180.7h0M169.9 175.6h0M176.4 174.4h0M164.1 184.1h0M177.9 195.3h0M165.9 183h0M174.6 170h0M168.9 190.2h0M162.7 167.4h0M157.4 183.7h0M174.6 177.4h0M180 182.6h0M155.9 181h0M154.7 176.9h0M179.9 171.1h0M156.6 168.7h0M158.7 186.2h0M182.1 172.4h0M167.8 178.8h0M157.2 175.2h0M162 194.1h0M169.5 202.3h0M174.1 177h0M169.2 193.2h0M178.7 170.9h0M164.8 175.4h0M161.9 183.8h0M182.9 178.2h0M159 194.3h0M164.9 173.1h0M167.6 197.2h0M183.2 187.8h0M174.2 200.2h0M186.3 178.4h0M182.7 197.1h0M162.2 179.9h0M166.1 179.4h0M166.2 170.2h0M167.3 190.2h0M184 194.7h0M178.5 194.7h0M181.4 175.6h0M175.9 180.5h0M182.4 171.1h0M171.8 178.8h0M181.7 179.1h0M182.5 198.2h0M183.7 171.3h0M185.8 194.3h0M176.7 190.8h0M172.1 183.3h0M164.8 195.8h0M180.4 199.1h0M160.4 178.9h0M161.7 169.8h0M164.4 167h0M180.9 174.6h0M155.4 168.6h0M178.9 173.5h0M169.1 181.3h0M181.1 202.3h0M163.8 190h0M184.3 183.9h0M184.5 193.9h0M173 170h0M173.5 197.5h0M171.1 184.4h0M167.5 199.5h0M176.3 173.9h0M165.6 179.8h0M168.1 193.3h0M168 169.5h0M171.3 197.2h0M180.6 179.6h0M160.7 194.3h0M181 174.3h0M168.1 180.5h0M177.8 201.3h0M160 177.5h0M164.4 193.8h0M159.5 186.8h0M170.5 191.4h0M180.8 173h0M184.8 187h0M179.6 199h0M160.2 166.9h0M170.5 200.1h0M170.8 201.4h0M172.6 171.5h0M175.1 196.5h0M167.8 188.9h0M162 176.5h0M167.7 185.5h0M169.3 169.5h0M153.1 178.9h0M178.1 194.4h0M161.2 175.7h0M171 172.7h0M174.1 200.4h0M160 188.2h0M178.2 194.5h0M177.9 193h0M186 182.8h0M155.9 168.6h0M180.9 191.8h0M157.9 183.5h0M164.7 195.1h0M161.5 173.6h0M158.6 181.6h0M174.6 177.5h0M158.6 174.3h0M155.9 173.3h0M164 185.2h0M159.3 184.2h0M170 201.9h0M169.4 173.5h0M173.7 171.5h0M158.8 168.8h0M177.5 202.7h0M167.1 179.5h0M167.8 179.4h0M177.1 180.9h0M173 166.2h0M182.7 193.7h0M165.3 189.9h0M185.2 181.3h0M168.1 177.3h0M172.4 191.2h0M178.7 202.1h0M158 179.9h0M182.8 196.1h0M173.6 191.7h0M172.2 181.3h0M143.3 190.5h0M148.3 196.7h0M145.4 194h0M144.5 197.6h0M144.4 194.3h0M148.5 195.3h0M145.3 192.5h0M144.7 195h0M147.5 191.8h0M144.6 193h0M144.5 197.7h0M145.8 192h0M144.3 196.9h0M143.1 195.7h0M143 191.6h0M147.1 196h0M145.9 197.8h0M145 191.2h0M147.2 197.2h0M144.7 190.3h0M148.1 196.3h0M146.2 198.3h0M147 195.2h0M143.3 195h0M144.5 198.3h0M145 193h0M143.8 191.6h0M146.9 191.1h0M143.3 190.9h0M144.5 196.1h0M188.4 168.3h0M193.3 170.6h0M190.7 170.7h0M192.1 170.8h0M194.1 172.6h0M190.5 169.5h0M194.2 173.3h0M194.3 172.7h0"/>
<path fill="none" stroke="#4daf4a" stroke-width="1.8" stroke-linecap="round" d="M65.3 37.4h0M66 39.6h0M63.6 37.5h0M68.7 41.7h0M63.6 37.5h0M66.2 39.7h0M67.1 40.7h0M65.8 40.1h0M69.1 43.3h0M68 40.4h0M66.6 38.9h0M69 42.8h0M71.9 45.3h0M69.6 45h0M69.3 44.4h0M68.8 45.4h0M70.4 43.1h0M68.7 45h0M70.9 45.6h0M70.9 43.7h0M71.9 42.4h0M69.4 42.5h0M72.4 43.8h0M71.6 43h0M71.7 44.6h0M68.5 44h0M110.8 213.6h0M109.7 214.7h0M104.9 225.6h0M105.8 219.7h0M106.3 224.7h0M105.4 226.2h0M106.6 212h0M111.3 212.5h0M110.1 210.9h0M111.1 212.2h0M109.4 216.4h0M102.8 223.9h0M100.1 224.5h0M113.7 210.6h0M106.5 218h0M110.7 222.4h0M104.4 225.9h0M112.4 212h0M101.7 218.5h0M104.3 212.8h0M111.9 214.3h0M114 213.8h0M109.3 219.1h0M113 217.5h0M100.3 225.5h0M111.2 213.9h0M106.4 224h0M101.3 221.6h0M108 216.9h0M106.5 218.4h0M103.1 216.3h0M108 223h0M108.6 212.8h0M107.9 215.3h0M109.2 219.6h0M104.7 226.1h0M109.3 219.2h0M104.7 220.3h0M103.7 226.5h0M102.7 226.5h0M107.9 213.5h0M107.2 212h0M110.2 225.8h0M105.6 225.3h0M108.6 224h0M101.6 224.1h0M100.3 225.8h0M103.1 225h0M107.3 215.5h0M110.4 211.1h0"/>
<rect x="23.3" y="13.4" width="181.6" height="223" fill="none" stroke="#222" stroke-width="1.2"/>
<text x="64.4" y="124.6" font-size="7.5" fill="#111" textLength="65" lengthAdjust="spacingAndGlyphs" stroke="#111" stroke-width="0.15">Hematopoietic cells</text>
<text x="149.8" y="177.8" font-size="7.5" fill="#111" textLength="52.7" lengthAdjust="spacingAndGlyphs" stroke="#111" stroke-width="0.15">Fibroblasts cells</text>
<text x="79.4" y="210.7" font-size="7.5" fill="#111" textLength="57.4" lengthAdjust="spacingAndGlyphs" stroke="#111" stroke-width="0.15">Perivascular cells</text>
<text transform="translate(18.2 123.6) rotate(-90)" font-size="10.5" fill="#111" text-anchor="middle" textLength="29" lengthAdjust="spacingAndGlyphs">TSNE2</text>
<text x="113.8" y="248.6" font-size="10.3" fill="#111" text-anchor="middle" textLength="29" lengthAdjust="spacingAndGlyphs">TSNE1</text>
<circle cx="220" cy="116.6" r="2.7" fill="#e41a1c"/>
<text x="230" y="119.6" font-size="8.8" fill="#222" textLength="70" lengthAdjust="spacingAndGlyphs">Hematopoietic cells</text>
<circle cx="220" cy="127.1" r="2.7" fill="#377eb8"/>
<text x="230" y="130.1" font-size="8.8" fill="#222" textLength="57.7" lengthAdjust="spacingAndGlyphs">Fibroblasts cells</text>
<circle cx="220" cy="137.6" r="2.7" fill="#4daf4a"/>
<text x="230" y="140.6" font-size="8.8" fill="#222" textLength="62" lengthAdjust="spacingAndGlyphs">Perivascular cells</text>
<text x="3" y="279.2" font-size="17.2" fill="#000" textLength="19.6" lengthAdjust="spacingAndGlyphs">(d)</text>
<path fill="none" stroke="#e41a1c" stroke-width="2.6" stroke-linecap="round" d="M124.8 366h0M116.8 395.4h0M106.3 383.6h0M90.4 395h0M122.9 360.7h0M115.6 401.3h0M92.3 408.7h0M132.3 353.5h0M99.9 355.9h0M112.4 367.5h0M102.6 382.3h0M106.3 405.2h0M124.6 358h0M98.6 350.6h0M104.1 357.6h0M123.3 404.6h0M138.8 364.6h0M88.9 403h0M108.4 415.2h0M107.4 371.9h0M90.8 416.4h0M113.6 380.8h0M109.7 403.8h0M130.2 383.3h0M96.3 378.4h0M133.3 378.5h0M121.4 389.2h0M111 390.2h0M99.7 389h0M106.2 411.6h0M137.9 350.9h0M119.6 394.2h0M93.8 371h0M124.1 401h0M97.6 395h0M88.1 380.9h0M103.9 391.8h0M121.9 370.1h0M128.1 371.4h0M115.4 406.6h0M93 401.2h0M106.2 362.6h0M108.6 358.6h0M114.2 371h0M137.3 376.8h0M109.6 366h0M137.4 372.5h0M120.6 408.3h0M132.4 364.2h0M101.4 360.7h0M135.8 412.8h0M108.6 352.4h0M123.9 354.4h0M135.1 357.6h0M102.7 400.1h0M93.6 383.1h0M87.8 360.6h0M91.7 363.6h0M113.9 359.6h0M129.7 379.2h0M100.1 366.9h0M118.1 410.4h0M92.2 354.5h0M123.1 391.1h0M124.5 369.4h0M112.8 363.1h0M109.7 369.7h0M117.5 370.9h0M101.3 395h0M115.2 352.5h0M84.3 388.6h0M115.8 415.8h0M105.3 376.2h0M124.6 349.3h0M140.6 395h0M89.2 356.4h0M112.5 415.1h0M83.5 384.4h0M127.6 411.7h0M131.4 418.5h0M127.7 374.9h0M138.8 384.3h0M100.3 370.5h0M139.7 431.7h0M143.4 409.4h0M121 350.4h0M102.3 336.2h0M101.7 432.5h0M107 324.6h0M94.9 360h0M140.6 412.7h0M119.5 427.9h0M87.5 392.6h0M96.5 374.5h0M121.4 423.5h0M120.9 365.1h0M150.2 370.9h0M83.3 366h0M127.3 408.5h0M111.1 382.6h0M83.9 402.9h0M140.5 355h0M130.4 438.1h0M114.9 366.1h0M111.1 425.3h0M126.2 345.4h0M81.2 381.4h0M76.4 385h0M108.4 446.1h0M108.5 432.6h0M138.2 398.6h0M114.8 374h0M127.3 388.2h0M142.8 398.6h0M84.4 400.3h0M146.2 408.8h0M95 397.4h0M136.7 402.5h0M150.2 396.1h0M112.3 394.2h0M125.5 384.7h0M126.4 391.8h0M127.5 426.2h0M93.3 413.9h0M103 426.6h0M114.9 443.8h0M107.2 393.7h0M101.7 343.1h0M85.8 362.2h0M131.8 397.9h0M116.1 341.5h0M141.5 428.9h0M137.1 422.7h0M126.3 430.4h0M100.4 411.2h0M130.4 432.5h0M120.9 358.6h0M95.4 393h0M131.5 409.8h0M137.1 362.5h0M128.8 435.7h0M108.1 381h0M132.9 424.2h0M118.1 413.2h0M85.3 372.7h0M98.7 359.4h0M134.9 350.6h0M145 405.4h0M115.7 422.1h0M106 431.3h0M147.3 371.5h0M128.5 362.7h0M116.7 360.1h0M150 384.7h0M149.6 405.6h0M145.7 376.3h0M112.9 376h0M121.7 437.8h0M80.6 389.9h0M45.8 393.6h0M155 412h0M143.7 425h0M138.3 455h0M149 461h0M147 387h0M80.5 443.3h0M112 451h0"/>
<path fill="none" stroke="#377eb8" stroke-width="2.6" stroke-linecap="round" d="M59.6 308.4h0M63.4 290.4h0M65.6 305.9h0M80.3 304.7h0M72.4 290.8h0M74.1 302.5h0M65.4 313h0M60.7 290.5h0M70.8 310h0M60.8 301.1h0M70.5 302.8h0M66.7 302.3h0M66.9 293.1h0M74.8 293.3h0M66.1 296.1h0M58.9 295.9h0M59.1 305.5h0M69 314.1h0M78.4 307.2h0M96.9 304.7h0M95.7 308.7h0M98.4 295.1h0M92.6 305.2h0M105.7 303.9h0M103.2 296.6h0M91.1 295.6h0M107.9 299.5h0M145 326.4h0M121.1 323h0M130 318.1h0M126.6 322.8h0M133.2 315h0M123.6 322.6h0M135.6 314h0M138.9 328h0M139.2 323h0M124 319.9h0M137 331.1h0M130 328.7h0M126.1 317.3h0M126.1 329.4h0M122.2 330.2h0M135.3 327.3h0M123.5 310.6h0M144.8 323.2h0M135.8 335.1h0M139.9 315.2h0M141.3 332.4h0M128.6 320.4h0M120.7 313.3h0M141.4 318h0M128.2 314.2h0M139 319.1h0M115.6 319.5h0M143.2 315.3h0M133.2 324.5h0M125.1 326.4h0M156 322.7h0M150.9 318.2h0M153 320h0M160.2 324.8h0M41.1 355.5h0M39.4 352.5h0M40 350h0M146.3 296.6h0M129 346.9h0M97 331h0"/>
<path fill="none" stroke="#4daf4a" stroke-width="2.6" stroke-linecap="round" d="M78.9 341.1h0M82.2 336.1h0M86.8 344.1h0M93.6 331.9h0M82.3 343.3h0M78.9 356.1h0M75 356.7h0M78.6 337.7h0M84.8 345.7h0M76.8 329h0M92.9 338.9h0M72.7 349h0M79.6 331.7h0M85.9 349.3h0M75.6 353.6h0M79 351.7h0M70.7 333.7h0M93.1 349.9h0M86.7 335.1h0M85.5 330.8h0M81.6 347.6h0M73.2 336.8h0M84.8 353.3h0M83.7 333.8h0M84.4 324.8h0M82.7 320.1h0M92.5 329.3h0M75.5 371.1h0M58.1 339.5h0M59.8 322.6h0M63.7 336.7h0M68.7 376.9h0M90.4 336h0M87.8 332.6h0M90 347.2h0M68.8 365.7h0M91.9 333.9h0M66.4 331.9h0M97.1 341.6h0M88.3 374.1h0M72 331.4h0M71.6 364.9h0M95.6 348.2h0M78.3 368.4h0M65.3 364.2h0M71.8 370h0M61 335.7h0M72.8 355h0M66.1 346h0M67.7 371.2h0M93.2 368.3h0M85.5 370.2h0M41.3 370.2h0M50.2 358.5h0M35.4 363.9h0M42.5 357.6h0M37.5 374.8h0M36.9 367.9h0M43 364.6h0M42.4 374.1h0M37.1 354.9h0M47 367.7h0M47.2 361.4h0"/>
<path fill="none" stroke="#984ea3" stroke-width="2.6" stroke-linecap="round" d="M170.4 445.9h0M162.3 445h0M156 461.1h0M170.7 448.8h0M164.9 439.8h0M161 447.3h0M165.6 462.4h0M169.7 438.4h0M151.9 436.9h0M162.1 456.3h0M181.1 439.3h0M177.3 445.7h0M173.4 453.4h0M163.3 460.5h0M178.7 441.4h0M152.3 449.2h0M172.9 439h0M151.2 454.8h0M156.5 437.6h0M175 442.8h0M178.2 450.5h0M172.9 444.2h0M168.6 451.8h0M153.5 442.4h0M158.1 458.1h0M158.1 453.8h0M170.1 457.3h0M184.5 432.3h0M180.7 432.9h0M167.1 433.1h0M177 438.8h0M176.5 404h0"/>
<rect x="25.5" y="281.4" width="165" height="189.1" fill="none" stroke="#111" stroke-width="1.5"/>
<text x="75.5" y="307.3" font-size="11" fill="#111" textLength="74.5" lengthAdjust="spacingAndGlyphs" stroke="#111" stroke-width="0.25">Prg4+fibroblast</text>
<text x="29.6" y="366.8" font-size="11" fill="#111" textLength="85.5" lengthAdjust="spacingAndGlyphs" stroke="#111" stroke-width="0.25">Ptprn+ fibroblasts</text>
<text x="80.5" y="390.2" font-size="11" fill="#111" textLength="84.5" lengthAdjust="spacingAndGlyphs" stroke="#111" stroke-width="0.25">Mmp2+ fibroblast</text>
<text x="80.1" y="447.6" font-size="11" fill="#111" textLength="84.6" lengthAdjust="spacingAndGlyphs" stroke="#111" stroke-width="0.25">Dkk2+ fibroblasts</text>
<text transform="translate(16.1 376) rotate(-90)" font-size="14.5" fill="#111" text-anchor="middle" textLength="46" lengthAdjust="spacingAndGlyphs" stroke="#111" stroke-width="0.25">TSNE2</text>
<text x="107.2" y="488.7" font-size="14.5" fill="#111" text-anchor="middle" textLength="43" lengthAdjust="spacingAndGlyphs" stroke="#111" stroke-width="0.25">TSNE1</text>
<circle cx="212.6" cy="355.6" r="4.1" fill="#e41a1c"/>
<text x="227.6" y="359.7" font-size="11.5" fill="#222" textLength="92" lengthAdjust="spacingAndGlyphs">Mmp2+ fibroblast</text>
<circle cx="212.6" cy="372" r="4.1" fill="#377eb8"/>
<text x="227.6" y="376.1" font-size="11.5" fill="#222" textLength="80.6" lengthAdjust="spacingAndGlyphs">Prg4+fibroblast</text>
<circle cx="212.6" cy="388" r="4.1" fill="#4daf4a"/>
<text x="227.6" y="392.1" font-size="11.5" fill="#222" textLength="93.2" lengthAdjust="spacingAndGlyphs">Ptprn+ fibroblasts</text>
<circle cx="212.6" cy="404" r="4.1" fill="#984ea3"/>
<text x="227.6" y="408.1" font-size="11.5" fill="#222" textLength="92.2" lengthAdjust="spacingAndGlyphs">Dkk2+ fibroblasts</text>
<text x="305.4" y="20.6" font-size="18" fill="#000" textLength="19.4" lengthAdjust="spacingAndGlyphs">(b)</text>
<path d="M341.5 3V246.4H479.4" fill="none" stroke="#8c8c8c" stroke-width="0.9"/>
<path d="M341.5 7.4h-1.3M341.5 15.49h-1.3M341.5 23.57h-1.3M341.5 31.66h-1.3M341.5 39.74h-1.3M341.5 47.83h-1.3M341.5 55.91h-1.3M341.5 64h-1.3M341.5 72.08h-1.3M341.5 80.17h-1.3M341.5 88.25h-1.3M341.5 96.34h-1.3M341.5 104.42h-1.3M341.5 112.51h-1.3M341.5 120.59h-1.3M341.5 128.68h-1.3M341.5 136.76h-1.3M341.5 144.85h-1.3M341.5 152.93h-1.3M341.5 161.02h-1.3M341.5 169.1h-1.3M341.5 177.19h-1.3M341.5 185.27h-1.3M341.5 193.36h-1.3M341.5 201.44h-1.3M341.5 209.53h-1.3M341.5 217.61h-1.3M341.5 225.7h-1.3M341.5 233.78h-1.3M341.5 241.87h-1.3M366.9 246.4v1.3M410.1 246.4v1.3M453.4 246.4v1.3" stroke="#8c8c8c" stroke-width="0.6"/>
<text x="339.9" y="8.48" font-size="3" fill="#5a5a5a" text-anchor="end">Tagln</text>
<text x="339.9" y="16.57" font-size="3" fill="#5a5a5a" text-anchor="end">Higd1b</text>
<text x="339.9" y="24.65" font-size="3" fill="#5a5a5a" text-anchor="end">Ly6c1</text>
<text x="339.9" y="32.73" font-size="3" fill="#5a5a5a" text-anchor="end">Rgs5</text>
<text x="339.9" y="40.82" font-size="3" fill="#5a5a5a" text-anchor="end">Notch3</text>
<text x="339.9" y="48.91" font-size="3" fill="#5a5a5a" text-anchor="end">Myh11</text>
<text x="339.9" y="56.99" font-size="3" fill="#5a5a5a" text-anchor="end">Ndufa4l2</text>
<text x="339.9" y="65.08" font-size="3" fill="#5a5a5a" text-anchor="end">Kcnj8</text>
<text x="339.9" y="73.16" font-size="3" fill="#5a5a5a" text-anchor="end">Acta2</text>
<text x="339.9" y="81.25" font-size="3" fill="#5a5a5a" text-anchor="end">Myl9</text>
<text x="339.9" y="89.33" font-size="3" fill="#5a5a5a" text-anchor="end">Mfap5</text>
<text x="339.9" y="97.42" font-size="3" fill="#5a5a5a" text-anchor="end">Mmp2</text>
<text x="339.9" y="105.5" font-size="3" fill="#5a5a5a" text-anchor="end">Pi16</text>
<text x="339.9" y="113.59" font-size="3" fill="#5a5a5a" text-anchor="end">Dpt</text>
<text x="339.9" y="121.67" font-size="3" fill="#5a5a5a" text-anchor="end">Col1a1</text>
<text x="339.9" y="129.76" font-size="3" fill="#5a5a5a" text-anchor="end">Col1a2</text>
<text x="339.9" y="137.84" font-size="3" fill="#5a5a5a" text-anchor="end">Col3a1</text>
<text x="339.9" y="145.93" font-size="3" fill="#5a5a5a" text-anchor="end">Gsn</text>
<text x="339.9" y="154.01" font-size="3" fill="#5a5a5a" text-anchor="end">Dcn</text>
<text x="339.9" y="162.1" font-size="3" fill="#5a5a5a" text-anchor="end">Mgp</text>
<text x="339.9" y="170.18" font-size="3" fill="#5a5a5a" text-anchor="end">Actb</text>
<text x="339.9" y="178.27" font-size="3" fill="#5a5a5a" text-anchor="end">Ptprc</text>
<text x="339.9" y="186.35" font-size="3" fill="#5a5a5a" text-anchor="end">Lyz2</text>
<text x="339.9" y="194.44" font-size="3" fill="#5a5a5a" text-anchor="end">Cd74</text>
<text x="339.9" y="202.52" font-size="3" fill="#5a5a5a" text-anchor="end">Tyrobp</text>
<text x="339.9" y="210.61" font-size="3" fill="#5a5a5a" text-anchor="end">Fcer1g</text>
<text x="339.9" y="218.69" font-size="3" fill="#5a5a5a" text-anchor="end">Coro1a</text>
<text x="339.9" y="226.78" font-size="3" fill="#5a5a5a" text-anchor="end">Laptm5</text>
<text x="339.9" y="234.86" font-size="3" fill="#5a5a5a" text-anchor="end">Srgn</text>
<text x="339.9" y="242.95" font-size="3" fill="#5a5a5a" text-anchor="end">Cd52</text>
<circle cx="366.9" cy="7.4" r="0.5" fill="#8d81d3"/>
<circle cx="410.1" cy="7.4" r="1.5" fill="#a49bd6"/>
<circle cx="453.4" cy="7.4" r="1.3" fill="#ff0000"/>
<circle cx="366.9" cy="15.49" r="0.5" fill="#8d81d3"/>
<circle cx="410.1" cy="15.49" r="1.4" fill="#988ed5"/>
<circle cx="453.4" cy="15.49" r="1.3" fill="#ff0000"/>
<circle cx="366.9" cy="23.57" r="0.4" fill="#b0a8d8"/>
<circle cx="410.1" cy="23.57" r="1.4" fill="#a49bd6"/>
<circle cx="453.4" cy="23.57" r="1.3" fill="#ff0000"/>
<circle cx="366.9" cy="31.66" r="0.4" fill="#8d81d3"/>
<circle cx="410.1" cy="31.66" r="0.7" fill="#8174d1"/>
<circle cx="453.4" cy="31.66" r="1.3" fill="#ff0000"/>
<circle cx="366.9" cy="39.74" r="0.35" fill="#c7c2dc"/>
<circle cx="410.1" cy="39.74" r="0.4" fill="#bbb5da"/>
<circle cx="453.4" cy="39.74" r="1.5" fill="#ff0000"/>
<circle cx="366.9" cy="47.83" r="0.35" fill="#c7c2dc"/>
<circle cx="410.1" cy="47.83" r="0.4" fill="#c7c2dc"/>
<circle cx="453.4" cy="47.83" r="1.7" fill="#ff0000"/>
<circle cx="366.9" cy="55.91" r="0.35" fill="#d2cfde"/>
<circle cx="410.1" cy="55.91" r="0.35" fill="#d2cfde"/>
<circle cx="453.4" cy="55.91" r="1.1" fill="#ff0000"/>
<circle cx="366.9" cy="64" r="0.35" fill="#d2cfde"/>
<circle cx="410.1" cy="64" r="0.35" fill="#d2cfde"/>
<circle cx="453.4" cy="64" r="1.1" fill="#ff0000"/>
<circle cx="366.9" cy="72.08" r="0.35" fill="#d2cfde"/>
<circle cx="410.1" cy="72.08" r="0.35" fill="#d2cfde"/>
<circle cx="453.4" cy="72.08" r="1.3" fill="#ff0000"/>
<circle cx="366.9" cy="80.17" r="0.35" fill="#d2cfde"/>
<circle cx="410.1" cy="80.17" r="0.35" fill="#d2cfde"/>
<circle cx="453.4" cy="80.17" r="1.2" fill="#ff0000"/>
<circle cx="366.9" cy="88.25" r="0.5" fill="#8d81d3"/>
<circle cx="410.1" cy="88.25" r="1.2" fill="#ff0000"/>
<circle cx="453.4" cy="88.25" r="0.4" fill="#8d81d3"/>
<circle cx="366.9" cy="96.34" r="0.5" fill="#8d81d3"/>
<circle cx="410.1" cy="96.34" r="1.4" fill="#ff0000"/>
<circle cx="453.4" cy="96.34" r="0.4" fill="#8d81d3"/>
<circle cx="366.9" cy="104.42" r="0.8" fill="#8174d1"/>
<circle cx="410.1" cy="104.42" r="1.7" fill="#ff0000"/>
<circle cx="453.4" cy="104.42" r="0.8" fill="#8174d1"/>
<circle cx="366.9" cy="112.51" r="1.1" fill="#8174d1"/>
<circle cx="410.1" cy="112.51" r="1.9" fill="#ff0000"/>
<circle cx="453.4" cy="112.51" r="0.8" fill="#8174d1"/>
<circle cx="366.9" cy="120.59" r="1" fill="#8174d1"/>
<circle cx="410.1" cy="120.59" r="1.9" fill="#ff0000"/>
<circle cx="453.4" cy="120.59" r="0.7" fill="#8174d1"/>
<circle cx="366.9" cy="128.68" r="0.8" fill="#8174d1"/>
<circle cx="410.1" cy="128.68" r="1.9" fill="#ff0000"/>
<circle cx="453.4" cy="128.68" r="0.6" fill="#8174d1"/>
<circle cx="366.9" cy="136.76" r="0.5" fill="#a49bd6"/>
<circle cx="410.1" cy="136.76" r="1.9" fill="#ff0000"/>
<circle cx="453.4" cy="136.76" r="0.4" fill="#988ed5"/>
<circle cx="366.9" cy="144.85" r="0.7" fill="#8174d1"/>
<circle cx="410.1" cy="144.85" r="1.9" fill="#ff0000"/>
<circle cx="453.4" cy="144.85" r="0.6" fill="#8174d1"/>
<circle cx="366.9" cy="152.93" r="0.6" fill="#988ed5"/>
<circle cx="410.1" cy="152.93" r="1.9" fill="#ff0000"/>
<circle cx="453.4" cy="152.93" r="0.5" fill="#8d81d3"/>
<circle cx="366.9" cy="161.02" r="0.5" fill="#bbb5da"/>
<circle cx="410.1" cy="161.02" r="1.8" fill="#ff0000"/>
<circle cx="453.4" cy="161.02" r="0.35" fill="#b0a8d8"/>
<circle cx="366.9" cy="169.1" r="1.1" fill="#ff0000"/>
<circle cx="410.1" cy="169.1" r="0.8" fill="#8174d1"/>
<circle cx="453.4" cy="169.1" r="0.35" fill="#bbb5da"/>
<circle cx="366.9" cy="177.19" r="1.1" fill="#ff0000"/>
<circle cx="410.1" cy="177.19" r="0.7" fill="#8174d1"/>
<circle cx="453.4" cy="177.19" r="0.35" fill="#bbb5da"/>
<circle cx="366.9" cy="185.27" r="1" fill="#ff0000"/>
<circle cx="410.1" cy="185.27" r="0.5" fill="#b0a8d8"/>
<circle cx="453.4" cy="185.27" r="0.35" fill="#bbb5da"/>
<circle cx="366.9" cy="193.36" r="1.1" fill="#ff0000"/>
<circle cx="410.1" cy="193.36" r="0.5" fill="#988ed5"/>
<circle cx="453.4" cy="193.36" r="0.5" fill="#8174d1"/>
<circle cx="366.9" cy="201.44" r="1.4" fill="#ff0000"/>
<circle cx="410.1" cy="201.44" r="1.1" fill="#8174d1"/>
<circle cx="453.4" cy="201.44" r="0.5" fill="#8174d1"/>
<circle cx="366.9" cy="209.53" r="1.6" fill="#ff0000"/>
<circle cx="410.1" cy="209.53" r="1.4" fill="#8174d1"/>
<circle cx="453.4" cy="209.53" r="0.6" fill="#8174d1"/>
<circle cx="366.9" cy="217.61" r="1.5" fill="#ff0000"/>
<circle cx="410.1" cy="217.61" r="1.2" fill="#8174d1"/>
<circle cx="453.4" cy="217.61" r="0.5" fill="#8174d1"/>
<circle cx="366.9" cy="225.7" r="1.6" fill="#ff0000"/>
<circle cx="410.1" cy="225.7" r="1.4" fill="#8174d1"/>
<circle cx="453.4" cy="225.7" r="0.8" fill="#8174d1"/>
<circle cx="366.9" cy="233.78" r="1.6" fill="#ff0000"/>
<circle cx="410.1" cy="233.78" r="1.4" fill="#8174d1"/>
<circle cx="453.4" cy="233.78" r="0.6" fill="#8174d1"/>
<circle cx="366.9" cy="241.87" r="1.5" fill="#ff0000"/>
<circle cx="410.1" cy="241.87" r="1.2" fill="#8174d1"/>
<circle cx="453.4" cy="241.87" r="0.5" fill="#8174d1"/>
<text transform="translate(328.9 124.4) rotate(-90)" font-size="3.2" fill="#333" text-anchor="middle">Features</text>
<text transform="translate(358.7 249.7) rotate(43)" font-size="2.6" fill="#555" textLength="19.5" lengthAdjust="spacingAndGlyphs">Hematopoietic cells</text>
<text transform="translate(403.8 249.7) rotate(43)" font-size="2.6" fill="#555" textLength="19.5" lengthAdjust="spacingAndGlyphs">Fibroblasts cells</text>
<text transform="translate(446 249.7) rotate(43)" font-size="2.6" fill="#555" textLength="19.5" lengthAdjust="spacingAndGlyphs">Perivascular cells</text>
<text x="410" y="266.6" font-size="3.2" fill="#333" text-anchor="middle">Identity</text>
<text x="483.7" y="99.8" font-size="3.3" fill="#333" textLength="26" lengthAdjust="spacingAndGlyphs">Percent Expressed</text>
<circle cx="486.2" cy="103.2" r="0.5" fill="#111"/>
<text x="490" y="104.2" font-size="2.8" fill="#555">25</text>
<circle cx="486.2" cy="107.9" r="0.8" fill="#111"/>
<text x="490" y="108.9" font-size="2.8" fill="#555">50</text>
<circle cx="486.2" cy="112.5" r="1.2" fill="#111"/>
<text x="490" y="113.5" font-size="2.8" fill="#555">75</text>
<circle cx="486.2" cy="117.3" r="1.6" fill="#111"/>
<text x="490" y="118.3" font-size="2.8" fill="#555">100</text>
<text x="483.7" y="127.6" font-size="3.3" fill="#333" textLength="27" lengthAdjust="spacingAndGlyphs">Average Expression</text>
<defs><linearGradient id="gb" x1="0" y1="0" x2="0" y2="1"><stop offset="0" stop-color="#ff2a12"/><stop offset="0.55" stop-color="#e8d8da"/><stop offset="1" stop-color="#6a5acd"/></linearGradient></defs>
<rect x="483.7" y="128.8" width="3.2" height="23.3" fill="url(#gb)"/>
<text x="488.5" y="132.3" font-size="2.8" fill="#555">1.0</text>
<text x="488.5" y="138" font-size="2.8" fill="#555">0.5</text>
<text x="488.5" y="143.8" font-size="2.8" fill="#555">0.0</text>
<text x="488.5" y="149.4" font-size="2.8" fill="#555">−0.5</text>
<text x="323.6" y="284.3" font-size="18" fill="#000" textLength="19.4" lengthAdjust="spacingAndGlyphs">(e)</text>
<path d="M358.7 276V518.3H494.6" fill="none" stroke="#8c8c8c" stroke-width="0.9"/>
<path d="M358.7 279.2h-1.3M358.7 285.25h-1.3M358.7 291.29h-1.3M358.7 297.33h-1.3M358.7 303.38h-1.3M358.7 309.43h-1.3M358.7 315.47h-1.3M358.7 321.51h-1.3M358.7 327.56h-1.3M358.7 333.61h-1.3M358.7 339.65h-1.3M358.7 345.69h-1.3M358.7 351.74h-1.3M358.7 357.78h-1.3M358.7 363.83h-1.3M358.7 369.88h-1.3M358.7 375.92h-1.3M358.7 381.96h-1.3M358.7 388.01h-1.3M358.7 394.06h-1.3M358.7 400.1h-1.3M358.7 406.14h-1.3M358.7 412.19h-1.3M358.7 418.24h-1.3M358.7 424.28h-1.3M358.7 430.32h-1.3M358.7 436.37h-1.3M358.7 442.41h-1.3M358.7 448.46h-1.3M358.7 454.5h-1.3M358.7 460.55h-1.3M358.7 466.6h-1.3M358.7 472.64h-1.3M358.7 478.68h-1.3M358.7 484.73h-1.3M358.7 490.77h-1.3M358.7 496.82h-1.3M358.7 502.87h-1.3M358.7 508.91h-1.3M358.7 514.95h-1.3M378.2 518.3v1.3M410.3 518.3v1.3M442.7 518.3v1.3M475.1 518.3v1.3" stroke="#8c8c8c" stroke-width="0.6"/>
<text x="357.1" y="280.17" font-size="2.7" fill="#5a5a5a" text-anchor="end">Apoe</text>
<text x="357.1" y="286.22" font-size="2.7" fill="#5a5a5a" text-anchor="end">Clu</text>
<text x="357.1" y="292.26" font-size="2.7" fill="#5a5a5a" text-anchor="end">Lyz1</text>
<text x="357.1" y="298.31" font-size="2.7" fill="#5a5a5a" text-anchor="end">Cdkn2c</text>
<text x="357.1" y="304.35" font-size="2.7" fill="#5a5a5a" text-anchor="end">Gpc3</text>
<text x="357.1" y="310.4" font-size="2.7" fill="#5a5a5a" text-anchor="end">Mest</text>
<text x="357.1" y="316.44" font-size="2.7" fill="#5a5a5a" text-anchor="end">Apod</text>
<text x="357.1" y="322.49" font-size="2.7" fill="#5a5a5a" text-anchor="end">Ccl11</text>
<text x="357.1" y="328.53" font-size="2.7" fill="#5a5a5a" text-anchor="end">Gsn</text>
<text x="357.1" y="334.58" font-size="2.7" fill="#5a5a5a" text-anchor="end">Fabp4</text>
<text x="357.1" y="340.62" font-size="2.7" fill="#5a5a5a" text-anchor="end">Ptgis</text>
<text x="357.1" y="346.67" font-size="2.7" fill="#5a5a5a" text-anchor="end">Cxcl13</text>
<text x="357.1" y="352.71" font-size="2.7" fill="#5a5a5a" text-anchor="end">Fbn1</text>
<text x="357.1" y="358.76" font-size="2.7" fill="#5a5a5a" text-anchor="end">Tpm2</text>
<text x="357.1" y="364.8" font-size="2.7" fill="#5a5a5a" text-anchor="end">Sfrp2</text>
<text x="357.1" y="370.85" font-size="2.7" fill="#5a5a5a" text-anchor="end">Ackr3</text>
<text x="357.1" y="376.89" font-size="2.7" fill="#5a5a5a" text-anchor="end">Dlk1</text>
<text x="357.1" y="382.94" font-size="2.7" fill="#5a5a5a" text-anchor="end">Cyp1b1</text>
<text x="357.1" y="388.98" font-size="2.7" fill="#5a5a5a" text-anchor="end">Tubb3</text>
<text x="357.1" y="395.03" font-size="2.7" fill="#5a5a5a" text-anchor="end">Ptprn</text>
<text x="357.1" y="401.07" font-size="2.7" fill="#5a5a5a" text-anchor="end">Sbsn</text>
<text x="357.1" y="407.12" font-size="2.7" fill="#5a5a5a" text-anchor="end">Enah</text>
<text x="357.1" y="413.16" font-size="2.7" fill="#5a5a5a" text-anchor="end">Fbxo2</text>
<text x="357.1" y="419.21" font-size="2.7" fill="#5a5a5a" text-anchor="end">Cilp</text>
<text x="357.1" y="425.25" font-size="2.7" fill="#5a5a5a" text-anchor="end">Acan</text>
<text x="357.1" y="431.3" font-size="2.7" fill="#5a5a5a" text-anchor="end">Prg4</text>
<text x="357.1" y="437.34" font-size="2.7" fill="#5a5a5a" text-anchor="end">Tnfaip6</text>
<text x="357.1" y="443.39" font-size="2.7" fill="#5a5a5a" text-anchor="end">Ccl2</text>
<text x="357.1" y="449.43" font-size="2.7" fill="#5a5a5a" text-anchor="end">Hbegf</text>
<text x="357.1" y="455.48" font-size="2.7" fill="#5a5a5a" text-anchor="end">Ctsk</text>
<text x="357.1" y="461.52" font-size="2.7" fill="#5a5a5a" text-anchor="end">Dkk2</text>
<text x="357.1" y="467.57" font-size="2.7" fill="#5a5a5a" text-anchor="end">Pcsk</text>
<text x="357.1" y="473.61" font-size="2.7" fill="#5a5a5a" text-anchor="end">Igfl</text>
<text x="357.1" y="479.66" font-size="2.7" fill="#5a5a5a" text-anchor="end">Apgr</text>
<text x="357.1" y="485.7" font-size="2.7" fill="#5a5a5a" text-anchor="end">Pla2r</text>
<text x="357.1" y="491.75" font-size="2.7" fill="#5a5a5a" text-anchor="end">Mfap4</text>
<text x="357.1" y="497.79" font-size="2.7" fill="#5a5a5a" text-anchor="end">Dpt</text>
<text x="357.1" y="503.84" font-size="2.7" fill="#5a5a5a" text-anchor="end">Col14a1</text>
<text x="357.1" y="509.88" font-size="2.7" fill="#5a5a5a" text-anchor="end">Postn</text>
<text x="357.1" y="515.93" font-size="2.7" fill="#5a5a5a" text-anchor="end">Mmp2</text>
<circle cx="378.2" cy="279.2" r="1.73" fill="#a49bd6"/>
<circle cx="410.3" cy="279.2" r="1.51" fill="#988ed5"/>
<circle cx="442.7" cy="279.2" r="1.94" fill="#a49bd6"/>
<circle cx="475.1" cy="279.2" r="1.94" fill="#ff0000"/>
<circle cx="378.2" cy="285.25" r="1.4" fill="#8d81d3"/>
<circle cx="410.3" cy="285.25" r="0.65" fill="#8174d1"/>
<circle cx="442.7" cy="285.25" r="0.86" fill="#8174d1"/>
<circle cx="475.1" cy="285.25" r="1.73" fill="#ff0000"/>
<circle cx="378.2" cy="291.29" r="0.65" fill="#bbb5da"/>
<circle cx="410.3" cy="291.29" r="0.43" fill="#c7c2dc"/>
<circle cx="442.7" cy="291.29" r="0.43" fill="#c7c2dc"/>
<circle cx="475.1" cy="291.29" r="1.62" fill="#ff0000"/>
<circle cx="378.2" cy="297.33" r="0.97" fill="#b0a8d8"/>
<circle cx="410.3" cy="297.33" r="0.65" fill="#8174d1"/>
<circle cx="442.7" cy="297.33" r="0.43" fill="#c7c2dc"/>
<circle cx="475.1" cy="297.33" r="1.84" fill="#ff0000"/>
<circle cx="378.2" cy="303.38" r="0.43" fill="#d2cfde"/>
<circle cx="410.3" cy="303.38" r="0.35" fill="#d2cfde"/>
<circle cx="442.7" cy="303.38" r="0.35" fill="#d2cfde"/>
<circle cx="475.1" cy="303.38" r="1.19" fill="#ff0000"/>
<circle cx="378.2" cy="309.43" r="0.35" fill="#d2cfde"/>
<circle cx="410.3" cy="309.43" r="0.35" fill="#d2cfde"/>
<circle cx="442.7" cy="309.43" r="0.35" fill="#d2cfde"/>
<circle cx="475.1" cy="309.43" r="1.08" fill="#ff0000"/>
<circle cx="378.2" cy="315.47" r="0.76" fill="#8d81d3"/>
<circle cx="410.3" cy="315.47" r="0.54" fill="#988ed5"/>
<circle cx="442.7" cy="315.47" r="0.35" fill="#d2cfde"/>
<circle cx="475.1" cy="315.47" r="1.84" fill="#ff0000"/>
<circle cx="378.2" cy="321.51" r="0.35" fill="#d2cfde"/>
<circle cx="410.3" cy="321.51" r="0.35" fill="#d2cfde"/>
<circle cx="442.7" cy="321.51" r="0.35" fill="#d2cfde"/>
<circle cx="475.1" cy="321.51" r="1.19" fill="#ff0000"/>
<circle cx="378.2" cy="327.56" r="2.16" fill="#a49bd6"/>
<circle cx="410.3" cy="327.56" r="2.16" fill="#a49bd6"/>
<circle cx="442.7" cy="327.56" r="2.05" fill="#a49bd6"/>
<circle cx="475.1" cy="327.56" r="2.27" fill="#ff0000"/>
<circle cx="378.2" cy="333.61" r="0.54" fill="#a49bd6"/>
<circle cx="410.3" cy="333.61" r="0.65" fill="#8d81d3"/>
<circle cx="442.7" cy="333.61" r="0.54" fill="#988ed5"/>
<circle cx="475.1" cy="333.61" r="1.94" fill="#ff0000"/>
<circle cx="378.2" cy="339.65" r="1.08" fill="#a49bd6"/>
<circle cx="410.3" cy="339.65" r="0.86" fill="#8d81d3"/>
<circle cx="442.7" cy="339.65" r="1.73" fill="#ff0000"/>
<circle cx="475.1" cy="339.65" r="0.65" fill="#8d81d3"/>
<circle cx="378.2" cy="345.69" r="0.54" fill="#8174d1"/>
<circle cx="410.3" cy="345.69" r="0.43" fill="#eb8486"/>
<circle cx="442.7" cy="345.69" r="1.4" fill="#ff0000"/>
<circle cx="475.1" cy="345.69" r="0.35" fill="#d2cfde"/>
<circle cx="378.2" cy="351.74" r="1.4" fill="#8174d1"/>
<circle cx="410.3" cy="351.74" r="1.4" fill="#ed797b"/>
<circle cx="442.7" cy="351.74" r="2.05" fill="#f54243"/>
<circle cx="475.1" cy="351.74" r="0.35" fill="#d2cfde"/>
<circle cx="378.2" cy="357.78" r="1.4" fill="#a49bd6"/>
<circle cx="410.3" cy="357.78" r="1.08" fill="#988ed5"/>
<circle cx="442.7" cy="357.78" r="1.94" fill="#ff0000"/>
<circle cx="475.1" cy="357.78" r="0.76" fill="#8174d1"/>
<circle cx="378.2" cy="363.83" r="1.3" fill="#8174d1"/>
<circle cx="410.3" cy="363.83" r="1.4" fill="#eb8486"/>
<circle cx="442.7" cy="363.83" r="2.05" fill="#f54243"/>
<circle cx="475.1" cy="363.83" r="0.76" fill="#bbb5da"/>
<circle cx="378.2" cy="369.88" r="1.62" fill="#b0a8d8"/>
<circle cx="410.3" cy="369.88" r="1.3" fill="#988ed5"/>
<circle cx="442.7" cy="369.88" r="2.05" fill="#ff0000"/>
<circle cx="475.1" cy="369.88" r="0.54" fill="#d2cfde"/>
<circle cx="378.2" cy="375.92" r="0.86" fill="#8d81d3"/>
<circle cx="410.3" cy="375.92" r="0.97" fill="#a49bd6"/>
<circle cx="442.7" cy="375.92" r="1.94" fill="#ff0000"/>
<circle cx="475.1" cy="375.92" r="0.35" fill="#d2cfde"/>
<circle cx="378.2" cy="381.96" r="1.73" fill="#a49bd6"/>
<circle cx="410.3" cy="381.96" r="1.51" fill="#8d81d3"/>
<circle cx="442.7" cy="381.96" r="2.16" fill="#ff0000"/>
<circle cx="475.1" cy="381.96" r="1.62" fill="#8174d1"/>
<circle cx="378.2" cy="388.01" r="2.05" fill="#b0a8d8"/>
<circle cx="410.3" cy="388.01" r="1.84" fill="#d2cfde"/>
<circle cx="442.7" cy="388.01" r="2.16" fill="#ff0000"/>
<circle cx="475.1" cy="388.01" r="2.05" fill="#7667cf"/>
<circle cx="378.2" cy="394.06" r="1.84" fill="#b0a8d8"/>
<circle cx="410.3" cy="394.06" r="1.73" fill="#a49bd6"/>
<circle cx="442.7" cy="394.06" r="2.16" fill="#ff0000"/>
<circle cx="475.1" cy="394.06" r="1.51" fill="#7667cf"/>
<circle cx="378.2" cy="400.1" r="0.97" fill="#8174d1"/>
<circle cx="410.3" cy="400.1" r="1.19" fill="#ff0000"/>
<circle cx="442.7" cy="400.1" r="0.43" fill="#988ed5"/>
<circle cx="475.1" cy="400.1" r="0.86" fill="#8d81d3"/>
<circle cx="378.2" cy="406.14" r="0.86" fill="#b0a8d8"/>
<circle cx="410.3" cy="406.14" r="0.97" fill="#ff0000"/>
<circle cx="442.7" cy="406.14" r="0.86" fill="#8174d1"/>
<circle cx="475.1" cy="406.14" r="0.35" fill="#d2cfde"/>
<circle cx="378.2" cy="412.19" r="0.86" fill="#bbb5da"/>
<circle cx="410.3" cy="412.19" r="1.19" fill="#ff0000"/>
<circle cx="442.7" cy="412.19" r="0.76" fill="#8174d1"/>
<circle cx="475.1" cy="412.19" r="0.35" fill="#d2cfde"/>
<circle cx="378.2" cy="418.24" r="1.3" fill="#8d81d3"/>
<circle cx="410.3" cy="418.24" r="1.84" fill="#ff0000"/>
<circle cx="442.7" cy="418.24" r="0.86" fill="#8d81d3"/>
<circle cx="475.1" cy="418.24" r="0.43" fill="#bbb5da"/>
<circle cx="378.2" cy="424.28" r="0.54" fill="#988ed5"/>
<circle cx="410.3" cy="424.28" r="1.08" fill="#ff0000"/>
<circle cx="442.7" cy="424.28" r="0.43" fill="#988ed5"/>
<circle cx="475.1" cy="424.28" r="0.35" fill="#d2cfde"/>
<circle cx="378.2" cy="430.32" r="1.94" fill="#988ed5"/>
<circle cx="410.3" cy="430.32" r="2.27" fill="#ff0000"/>
<circle cx="442.7" cy="430.32" r="1.84" fill="#bbb5da"/>
<circle cx="475.1" cy="430.32" r="1.62" fill="#8174d1"/>
<circle cx="378.2" cy="436.37" r="0.43" fill="#b0a8d8"/>
<circle cx="410.3" cy="436.37" r="1.3" fill="#ff0000"/>
<circle cx="442.7" cy="436.37" r="1.19" fill="#b0a8d8"/>
<circle cx="475.1" cy="436.37" r="0.35" fill="#d2cfde"/>
<circle cx="378.2" cy="442.41" r="0.43" fill="#a49bd6"/>
<circle cx="410.3" cy="442.41" r="1.4" fill="#ff0000"/>
<circle cx="442.7" cy="442.41" r="0.65" fill="#8174d1"/>
<circle cx="475.1" cy="442.41" r="0.35" fill="#d2cfde"/>
<circle cx="378.2" cy="448.46" r="1.3" fill="#8d81d3"/>
<circle cx="410.3" cy="448.46" r="2.05" fill="#ff0000"/>
<circle cx="442.7" cy="448.46" r="1.62" fill="#a49bd6"/>
<circle cx="475.1" cy="448.46" r="0.54" fill="#8d81d3"/>
<circle cx="378.2" cy="454.5" r="0.35" fill="#d2cfde"/>
<circle cx="410.3" cy="454.5" r="1.08" fill="#ff0000"/>
<circle cx="442.7" cy="454.5" r="0.35" fill="#bbb5da"/>
<circle cx="475.1" cy="454.5" r="0.35" fill="#d2cfde"/>
<circle cx="378.2" cy="460.55" r="1.19" fill="#fc1616"/>
<circle cx="410.3" cy="460.55" r="0.54" fill="#e89a9d"/>
<circle cx="442.7" cy="460.55" r="1.08" fill="#8d81d3"/>
<circle cx="475.1" cy="460.55" r="0.35" fill="#d2cfde"/>
<circle cx="378.2" cy="466.6" r="1.3" fill="#fd0b0b"/>
<circle cx="410.3" cy="466.6" r="0.54" fill="#8174d1"/>
<circle cx="442.7" cy="466.6" r="0.76" fill="#8174d1"/>
<circle cx="475.1" cy="466.6" r="0.65" fill="#ee6e70"/>
<circle cx="378.2" cy="472.64" r="1.84" fill="#f73738"/>
<circle cx="410.3" cy="472.64" r="0.86" fill="#8d81d3"/>
<circle cx="442.7" cy="472.64" r="0.76" fill="#7667cf"/>
<circle cx="475.1" cy="472.64" r="1.73" fill="#f06365"/>
<circle cx="378.2" cy="478.68" r="1.73" fill="#f82c2d"/>
<circle cx="410.3" cy="478.68" r="0.76" fill="#8174d1"/>
<circle cx="442.7" cy="478.68" r="0.76" fill="#7667cf"/>
<circle cx="475.1" cy="478.68" r="1.62" fill="#eb8486"/>
<circle cx="378.2" cy="484.73" r="2.05" fill="#ff0000"/>
<circle cx="410.3" cy="484.73" r="0.76" fill="#8d81d3"/>
<circle cx="442.7" cy="484.73" r="1.4" fill="#988ed5"/>
<circle cx="475.1" cy="484.73" r="0.54" fill="#988ed5"/>
<circle cx="378.2" cy="490.77" r="2.27" fill="#ff0000"/>
<circle cx="410.3" cy="490.77" r="1.73" fill="#8174d1"/>
<circle cx="442.7" cy="490.77" r="1.94" fill="#d2cfde"/>
<circle cx="475.1" cy="490.77" r="1.73" fill="#8174d1"/>
<circle cx="378.2" cy="496.82" r="2.05" fill="#f73738"/>
<circle cx="410.3" cy="496.82" r="1.19" fill="#8174d1"/>
<circle cx="442.7" cy="496.82" r="0.97" fill="#8174d1"/>
<circle cx="475.1" cy="496.82" r="1.73" fill="#eb8486"/>
<circle cx="378.2" cy="502.87" r="2.05" fill="#fa2122"/>
<circle cx="410.3" cy="502.87" r="0.76" fill="#8174d1"/>
<circle cx="442.7" cy="502.87" r="1.4" fill="#8174d1"/>
<circle cx="475.1" cy="502.87" r="1.51" fill="#eb8486"/>
<circle cx="378.2" cy="508.91" r="2.05" fill="#fa2122"/>
<circle cx="410.3" cy="508.91" r="0.76" fill="#8174d1"/>
<circle cx="442.7" cy="508.91" r="0.86" fill="#7667cf"/>
<circle cx="475.1" cy="508.91" r="1.4" fill="#ee6e70"/>
<circle cx="378.2" cy="514.95" r="2.27" fill="#fc1616"/>
<circle cx="410.3" cy="514.95" r="1.73" fill="#8174d1"/>
<circle cx="442.7" cy="514.95" r="1.84" fill="#8174d1"/>
<circle cx="475.1" cy="514.95" r="1.84" fill="#e3bbbe"/>
<text transform="translate(347.5 397) rotate(-90)" font-size="3" fill="#333" text-anchor="middle">Features</text>
<text transform="translate(371 521) rotate(45)" font-size="2.4" fill="#555" textLength="18" lengthAdjust="spacingAndGlyphs">Mmp2+ fibroblast</text>
<text transform="translate(403.5 521) rotate(45)" font-size="2.4" fill="#555" textLength="18" lengthAdjust="spacingAndGlyphs">Prg4+fibroblast</text>
<text transform="translate(436 521) rotate(45)" font-size="2.4" fill="#555" textLength="18" lengthAdjust="spacingAndGlyphs">Ptprn+ fibroblasts</text>
<text transform="translate(468.5 521) rotate(45)" font-size="2.4" fill="#555" textLength="18" lengthAdjust="spacingAndGlyphs">Dkk2+ fibroblasts</text>
<text x="426" y="537" font-size="3" fill="#333" text-anchor="middle">Identity</text>
<text x="498.8" y="370.2" font-size="3" fill="#333" textLength="24" lengthAdjust="spacingAndGlyphs">Average Expression</text>
<defs><linearGradient id="ge" x1="0" y1="0" x2="0" y2="1"><stop offset="0" stop-color="#ff2a12"/><stop offset="0.5" stop-color="#e8d8da"/><stop offset="1" stop-color="#6a5acd"/></linearGradient></defs>
<rect x="498.8" y="372" width="4.4" height="22.1" fill="url(#ge)"/>
<text x="505.2" y="376.9" font-size="2.5" fill="#555">1.0</text>
<text x="505.2" y="381.5" font-size="2.5" fill="#555">0.5</text>
<text x="505.2" y="386" font-size="2.5" fill="#555">0.0</text>
<text x="505.2" y="389.9" font-size="2.5" fill="#555">−0.5</text>
<text x="505.2" y="394.3" font-size="2.5" fill="#555">−1.0</text>
<text x="498.8" y="402.4" font-size="3" fill="#333" textLength="24" lengthAdjust="spacingAndGlyphs">Percent Expressed</text>
<circle cx="501.4" cy="406.3" r="0.3" fill="#111"/>
<text x="505" y="407.2" font-size="2.5" fill="#555">0</text>
<circle cx="501.4" cy="410.7" r="0.7" fill="#111"/>
<text x="505" y="411.6" font-size="2.5" fill="#555">25</text>
<circle cx="501.4" cy="415.3" r="1.0" fill="#111"/>
<text x="505" y="416.2" font-size="2.5" fill="#555">50</text>
<circle cx="501.4" cy="419.8" r="1.3" fill="#111"/>
<text x="505" y="420.7" font-size="2.5" fill="#555">75</text>
<circle cx="501.4" cy="424.2" r="1.7" fill="#111"/>
<text x="505" y="425.1" font-size="2.5" fill="#555">100</text>
<text x="514.8" y="20.6" font-size="18" fill="#000" textLength="18.8" lengthAdjust="spacingAndGlyphs">(c)</text>
<rect x="546" y="25.2" width="161.5" height="2.9" fill="#f8766d"/>
<rect x="707.6" y="25.2" width="31.6" height="2.9" fill="#00ba38"/>
<rect x="739.8" y="25.2" width="11.2" height="2.9" fill="#619cff"/>
<g stroke-width="1" fill="none"><path stroke="#c000c0" d="M546.5 31v5M546.5 55v5M547.5 55v5M548.5 60v5M548.5 70v19M548.5 99v5M548.5 114v5M549.5 31v5M549.5 60v5M549.5 119v5M550.5 31v5M550.5 55v5M550.5 70v5M551.5 31v10M551.5 60v5M551.5 75v5M552.5 31v5M552.5 60v10M552.5 80v5M553.5 41v5M553.5 70v5M554.5 41v5M554.5 55v5M554.5 85v4M554.5 124v4M555.5 55v10M555.5 70v10M557.5 31v5M557.5 55v15M557.5 75v5M558.5 70v10M558.5 104v5M559.5 55v10M559.5 75v5M564.5 124v4M566.5 80v5M566.5 104v5M566.5 119v9M567.5 114v5M569.5 114v5M572.5 119v5M576.5 119v9M577.5 114v14M579.5 167v5M580.5 94v5M580.5 104v5M583.5 124v4M586.5 163v4M589.5 89v5M589.5 114v10M591.5 80v5M591.5 104v5M592.5 89v15M592.5 124v4M596.5 114v5M598.5 85v4M598.5 114v10M599.5 114v5M599.5 124v4M603.5 167v5M605.5 124v4M606.5 80v5M606.5 94v5M606.5 104v5M606.5 114v10M607.5 94v5M607.5 114v5M610.5 85v4M610.5 119v5M612.5 75v5M612.5 124v4M614.5 80v5M618.5 85v4M618.5 99v5M618.5 114v5M621.5 80v9M621.5 104v10M622.5 109v5M622.5 124v4M623.5 50v5M623.5 60v5M630.5 89v5M630.5 104v5M630.5 114v10M632.5 114v5M632.5 124v4M634.5 104v5M636.5 94v5M636.5 114v5M637.5 119v5M638.5 94v5M638.5 104v5M638.5 124v4M644.5 119v5M645.5 94v5M648.5 114v10M650.5 70v5M653.5 119v5M654.5 99v5M654.5 114v10M658.5 99v5M663.5 80v5M665.5 80v9M665.5 124v4M666.5 99v5M669.5 119v5M671.5 114v5M674.5 94v15M674.5 114v5M680.5 89v5M680.5 104v5M682.5 104v5M682.5 114v5M684.5 167v5M685.5 85v4M685.5 94v15M685.5 119v5M687.5 50v5M691.5 89v5M691.5 104v5M692.5 46v4M692.5 70v5M693.5 85v4M693.5 94v5M693.5 114v5M694.5 85v4M694.5 94v5M694.5 114v5M694.5 124v4M695.5 104v5M695.5 114v14M697.5 119v5M704.5 85v4M704.5 114v5M708.5 50v5M708.5 65v5M708.5 75v5M709.5 31v5M709.5 41v5M709.5 50v10M710.5 36v5M710.5 55v10M710.5 75v5M711.5 36v5M711.5 46v4M712.5 41v5M713.5 36v5M713.5 75v5M714.5 50v5M714.5 65v5M715.5 50v5M715.5 65v10M716.5 31v10M717.5 31v15M718.5 46v4M718.5 75v5M719.5 46v4M719.5 70v10M720.5 31v15M720.5 65v15M721.5 36v5M721.5 65v5M722.5 36v5M724.5 60v5M725.5 41v9M725.5 55v5M725.5 65v5M726.5 46v14M726.5 75v5M727.5 36v5M727.5 46v4M728.5 36v14M728.5 70v5M729.5 31v5M729.5 41v5M729.5 55v5M729.5 75v5M730.5 55v5M731.5 31v5M732.5 46v4M733.5 36v10M733.5 55v5M733.5 75v5M734.5 55v5M736.5 41v5M736.5 50v5M740.5 50v10M740.5 70v5M740.5 80v9M741.5 50v10M741.5 75v5M741.5 89v10M741.5 104v5M741.5 119v5M743.5 50v5M744.5 80v5M744.5 114v5M745.5 46v4M745.5 104v5M746.5 46v9M746.5 60v5M746.5 75v5M747.5 60v5M747.5 80v5M747.5 89v5M747.5 109v10M748.5 55v5M748.5 89v5M748.5 99v5M748.5 109v19M749.5 36v19M749.5 65v10M749.5 89v5M749.5 109v19M750.5 36v5M750.5 46v24"/><path stroke="#a800a8" d="M546.5 36v5M546.5 46v4M546.5 60v10M546.5 114v5M547.5 31v10M547.5 60v10M547.5 75v5M547.5 85v4M548.5 31v10M548.5 55v5M548.5 65v5M548.5 89v10M549.5 36v5M549.5 85v9M549.5 104v5M549.5 114v5M549.5 124v4M549.5 163v9M550.5 60v10M550.5 75v5M550.5 99v5M551.5 65v5M551.5 85v4M551.5 119v5M552.5 36v5M552.5 46v4M552.5 89v5M552.5 104v5M552.5 114v14M553.5 36v5M553.5 55v15M553.5 75v10M553.5 99v10M553.5 114v14M554.5 31v5M554.5 60v20M554.5 89v5M554.5 99v15M554.5 119v5M555.5 31v10M555.5 80v9M555.5 104v24M556.5 36v5M556.5 55v15M556.5 75v5M556.5 167v5M557.5 114v5M558.5 31v10M558.5 55v15M558.5 85v9M558.5 114v10M558.5 167v5M559.5 31v5M559.5 46v4M559.5 167v5M560.5 31v5M560.5 55v15M560.5 75v5M562.5 80v5M562.5 89v5M562.5 104v5M562.5 119v9M564.5 80v5M564.5 99v10M564.5 119v5M565.5 70v5M565.5 114v5M565.5 124v4M566.5 85v4M566.5 94v10M566.5 163v4M567.5 89v20M567.5 119v5M569.5 70v5M569.5 80v9M569.5 99v10M569.5 119v9M570.5 148v5M570.5 167v5M571.5 85v4M572.5 80v5M572.5 89v5M572.5 104v5M572.5 124v4M573.5 119v9M573.5 167v5M574.5 80v5M574.5 89v10M575.5 94v5M575.5 124v4M575.5 153v5M576.5 80v5M576.5 99v5M576.5 114v5M577.5 80v9M577.5 94v5M579.5 114v5M579.5 153v5M579.5 163v4M579.5 172v5M580.5 80v5M580.5 109v10M581.5 119v5M582.5 85v4M582.5 99v5M583.5 94v5M583.5 104v5M583.5 114v5M585.5 50v5M585.5 65v10M586.5 80v9M586.5 94v5M586.5 119v5M586.5 167v10M587.5 114v5M587.5 124v4M587.5 167v5M588.5 85v4M589.5 80v9M589.5 99v15M589.5 124v4M590.5 99v5M591.5 94v5M591.5 114v5M591.5 124v4M592.5 85v4M592.5 104v20M593.5 119v9M594.5 104v5M594.5 114v5M595.5 80v5M596.5 80v5M596.5 99v5M596.5 119v5M597.5 94v5M597.5 104v5M598.5 80v5M598.5 94v5M598.5 104v5M598.5 124v4M598.5 158v5M598.5 167v5M599.5 85v4M599.5 99v10M599.5 167v5M602.5 99v10M603.5 104v5M603.5 119v5M603.5 148v5M603.5 158v5M603.5 172v5M605.5 99v5M605.5 167v5M606.5 46v34M606.5 85v9M606.5 99v5M606.5 124v4M607.5 80v5M607.5 89v5M607.5 99v5M607.5 109v5M607.5 124v4M609.5 75v5M609.5 99v5M609.5 119v9M610.5 89v30M610.5 124v4M611.5 85v4M611.5 94v5M611.5 119v5M612.5 46v19M612.5 70v5M612.5 80v9M612.5 94v5M612.5 119v5M612.5 167v5M613.5 167v5M614.5 124v4M616.5 80v5M616.5 167v5M618.5 94v5M618.5 124v4M619.5 124v4M621.5 94v5M621.5 114v14M622.5 70v5M622.5 80v14M622.5 104v5M622.5 114v10M623.5 55v5M623.5 70v10M623.5 99v5M623.5 114v5M624.5 163v4M625.5 85v4M625.5 94v5M625.5 104v5M625.5 124v4M627.5 89v10M627.5 104v5M627.5 119v9M628.5 104v5M629.5 114v14M630.5 80v9M630.5 94v10M630.5 167v5M631.5 60v5M631.5 75v5M631.5 167v5M632.5 80v9M632.5 119v5M633.5 104v5M633.5 114v5M633.5 167v5M634.5 85v4M634.5 99v5M634.5 124v4M635.5 104v5M635.5 124v4M636.5 46v4M636.5 80v9M636.5 104v10M636.5 124v4M637.5 80v9M637.5 94v5M637.5 104v5M637.5 114v5M637.5 124v4M638.5 80v5M638.5 89v5M638.5 99v5M638.5 109v15M638.5 148v5M638.5 167v10M640.5 89v10M640.5 114v14M640.5 172v5M641.5 60v5M641.5 167v10M642.5 55v5M643.5 99v5M645.5 104v10M647.5 80v9M647.5 124v4M648.5 55v5M648.5 85v4M648.5 99v5M648.5 124v4M648.5 167v5M649.5 148v5M649.5 167v5M650.5 167v5M651.5 89v5M652.5 80v9M652.5 104v5M652.5 114v5M652.5 153v5M652.5 167v5M653.5 114v5M653.5 124v4M654.5 80v9M654.5 94v5M654.5 124v4M656.5 75v10M656.5 124v4M657.5 94v5M657.5 119v5M658.5 85v4M658.5 114v5M658.5 148v10M658.5 163v9M659.5 80v5M659.5 99v5M659.5 124v4M663.5 85v14M663.5 104v5M663.5 119v5M664.5 99v5M664.5 114v5M665.5 89v20M666.5 80v14M666.5 104v5M666.5 119v9M667.5 85v4M667.5 104v5M667.5 167v5M668.5 124v4M669.5 94v5M669.5 104v5M671.5 99v5M671.5 119v5M671.5 153v5M673.5 94v5M674.5 80v14M674.5 109v5M674.5 119v9M674.5 148v5M674.5 167v5M675.5 104v5M675.5 114v5M675.5 124v4M677.5 70v5M678.5 114v5M679.5 114v5M679.5 124v4M680.5 80v9M680.5 99v5M680.5 119v9M681.5 104v5M682.5 94v5M682.5 119v9M684.5 94v5M684.5 104v5M684.5 114v5M685.5 89v5M685.5 114v5M686.5 167v5M687.5 104v5M687.5 114v5M687.5 124v4M688.5 114v5M689.5 85v4M689.5 104v5M689.5 114v14M690.5 75v10M690.5 119v9M691.5 94v10M691.5 114v14M693.5 119v9M694.5 70v5M694.5 80v5M694.5 89v5M694.5 99v5M694.5 119v5M695.5 80v5M695.5 89v5M697.5 80v5M697.5 94v10M697.5 114v5M697.5 124v4M698.5 50v5M699.5 119v5M700.5 124v4M700.5 167v5M701.5 85v4M703.5 80v9M703.5 99v5M703.5 114v10M704.5 80v5M704.5 104v5M704.5 119v9M705.5 114v5M705.5 124v4M706.5 50v5M706.5 60v5M706.5 94v10M706.5 124v4M706.5 167v5M708.5 36v14M708.5 55v5M708.5 70v5M710.5 31v5M710.5 41v5M711.5 138v5M713.5 41v5M713.5 55v5M714.5 31v10M715.5 31v15M715.5 55v5M716.5 41v5M718.5 31v15M719.5 36v5M719.5 55v5M719.5 65v5M721.5 31v5M721.5 41v14M722.5 31v5M722.5 46v4M723.5 31v10M723.5 46v4M724.5 55v5M724.5 75v5M725.5 31v10M725.5 50v5M725.5 128v5M726.5 31v10M729.5 36v5M729.5 46v4M733.5 46v9M734.5 36v14M734.5 65v5M735.5 50v10M735.5 70v5M736.5 31v10M740.5 31v5M740.5 41v9M740.5 60v5M740.5 75v5M740.5 99v5M740.5 119v5M741.5 80v5M741.5 99v5M741.5 109v10M741.5 124v4M742.5 80v5M742.5 89v5M743.5 80v5M743.5 109v10M744.5 85v4M744.5 94v5M744.5 119v9M745.5 80v14M745.5 109v10M745.5 124v4M746.5 109v5M747.5 50v5M747.5 85v4M747.5 94v5M747.5 104v5M747.5 124v4M748.5 80v5M748.5 104v5M749.5 31v5M749.5 60v5M749.5 80v9M749.5 99v10M750.5 31v5M750.5 70v5M750.5 89v20M750.5 114v5"/><path stroke="#f000f0" d="M546.5 41v5M546.5 50v5M547.5 50v5M548.5 41v5M548.5 104v5M548.5 124v4M550.5 50v5M551.5 41v5M551.5 50v5M552.5 41v5M553.5 50v5M554.5 50v5M555.5 41v5M555.5 50v5M556.5 50v5M557.5 50v5M558.5 41v5M559.5 41v5M559.5 50v5M560.5 41v5M708.5 60v5M710.5 50v5M710.5 70v5M711.5 50v5M711.5 60v5M712.5 60v15M714.5 60v5M714.5 75v5M716.5 60v5M716.5 75v5M717.5 60v5M718.5 50v5M718.5 70v5M721.5 60v5M721.5 70v5M722.5 55v10M723.5 70v5M726.5 60v5M727.5 55v10M727.5 75v5M729.5 60v5M730.5 50v5M731.5 41v5M731.5 50v5M731.5 60v5M731.5 70v5M732.5 41v5M732.5 55v25M736.5 60v5M737.5 46v4M737.5 55v10M737.5 70v10M738.5 31v10M738.5 55v5M738.5 70v10M741.5 36v10M742.5 41v9M742.5 60v15M743.5 46v4M743.5 60v10M744.5 36v5M744.5 50v10M744.5 75v5M745.5 31v15M745.5 55v5M745.5 70v10M746.5 31v5M746.5 65v5M747.5 41v5M747.5 70v5M748.5 36v10M748.5 65v10"/><path stroke="#d800d8" d="M546.5 70v10M547.5 41v5M547.5 70v5M548.5 109v5M548.5 119v5M549.5 41v5M549.5 55v5M549.5 65v15M550.5 41v5M551.5 55v5M551.5 70v5M552.5 55v5M552.5 70v10M555.5 65v5M556.5 41v5M557.5 41v5M557.5 70v5M559.5 70v5M560.5 70v5M566.5 114v5M577.5 99v5M586.5 104v5M586.5 124v4M607.5 104v5M607.5 119v5M618.5 119v5M621.5 99v5M630.5 124v4M636.5 99v5M636.5 119v5M638.5 85v4M685.5 124v4M704.5 94v5M709.5 60v20M710.5 46v4M710.5 65v5M711.5 41v5M711.5 55v5M711.5 65v15M712.5 31v10M712.5 46v14M712.5 75v5M713.5 50v5M713.5 60v15M714.5 55v5M714.5 70v5M715.5 60v5M715.5 75v5M716.5 46v14M716.5 65v10M717.5 46v14M717.5 65v15M718.5 55v15M719.5 50v5M719.5 60v5M720.5 50v15M721.5 55v5M721.5 75v5M722.5 41v5M722.5 50v5M722.5 65v15M723.5 41v5M723.5 50v20M723.5 75v5M725.5 60v5M725.5 70v5M726.5 65v10M727.5 31v5M727.5 41v5M727.5 50v5M727.5 65v10M728.5 31v5M728.5 50v20M728.5 75v5M729.5 50v5M729.5 65v10M730.5 31v19M730.5 60v20M731.5 36v5M731.5 46v4M731.5 55v5M731.5 65v5M731.5 75v5M732.5 31v10M732.5 50v5M733.5 31v5M733.5 60v15M734.5 50v5M734.5 60v5M734.5 70v10M735.5 60v10M735.5 75v5M736.5 55v5M736.5 65v15M737.5 31v15M737.5 50v5M737.5 65v5M738.5 41v14M738.5 60v10M740.5 65v5M741.5 31v5M741.5 46v4M741.5 60v15M742.5 31v10M742.5 50v10M742.5 75v5M743.5 31v15M743.5 55v5M743.5 70v10M744.5 31v5M744.5 41v9M744.5 60v15M744.5 109v5M745.5 50v5M745.5 60v10M746.5 36v10M746.5 55v5M746.5 70v5M747.5 31v10M747.5 46v4M747.5 55v5M747.5 65v5M747.5 75v5M748.5 31v5M748.5 46v9M748.5 60v5M748.5 75v5M748.5 85v4M749.5 55v5M749.5 94v5M750.5 41v5"/><path stroke="#600060" d="M546.5 80v5M546.5 133v5M547.5 104v10M547.5 138v5M548.5 153v5M548.5 163v4M548.5 172v5M550.5 119v5M550.5 133v10M550.5 158v5M552.5 128v5M552.5 143v5M552.5 172v5M553.5 128v5M553.5 143v5M554.5 133v15M554.5 153v10M555.5 128v5M556.5 80v5M556.5 143v5M557.5 128v15M558.5 128v5M559.5 89v5M560.5 80v5M560.5 89v5M560.5 104v10M560.5 128v10M560.5 148v19M561.5 99v5M561.5 109v5M561.5 124v9M561.5 138v10M562.5 31v5M562.5 128v5M562.5 138v25M563.5 89v5M563.5 104v10M563.5 133v5M563.5 158v5M564.5 133v15M565.5 55v5M565.5 89v5M565.5 109v5M565.5 128v5M565.5 138v5M565.5 153v10M565.5 172v5M566.5 55v5M567.5 55v5M567.5 133v5M567.5 167v5M568.5 143v5M568.5 153v14M569.5 128v20M569.5 153v14M569.5 172v5M570.5 55v5M570.5 65v5M570.5 80v9M570.5 94v5M570.5 109v5M570.5 153v5M571.5 89v5M571.5 104v10M571.5 133v5M571.5 143v5M571.5 172v5M572.5 138v5M572.5 153v14M573.5 138v5M573.5 172v5M574.5 109v5M574.5 128v5M574.5 138v5M574.5 148v5M574.5 158v5M576.5 128v5M576.5 138v5M576.5 148v19M576.5 172v5M577.5 128v10M577.5 143v10M577.5 172v5M578.5 99v5M578.5 128v30M578.5 163v4M579.5 89v5M579.5 109v5M580.5 31v5M580.5 138v10M580.5 153v5M581.5 31v5M581.5 60v5M581.5 80v19M582.5 55v5M583.5 55v15M583.5 128v20M584.5 46v4M584.5 55v5M584.5 109v5M584.5 133v5M585.5 85v4M585.5 133v15M585.5 153v5M586.5 70v5M587.5 133v5M588.5 80v5M588.5 128v15M588.5 158v5M588.5 172v5M589.5 36v5M589.5 138v5M590.5 46v4M590.5 109v5M590.5 128v15M591.5 50v5M591.5 65v5M591.5 148v10M592.5 55v5M592.5 128v5M592.5 143v5M593.5 46v4M593.5 128v5M593.5 172v5M594.5 41v9M594.5 89v5M594.5 172v5M595.5 55v5M595.5 75v5M595.5 138v5M595.5 153v5M596.5 128v20M597.5 36v5M597.5 128v10M597.5 143v5M599.5 36v5M599.5 109v5M601.5 31v5M601.5 89v10M601.5 104v10M602.5 50v10M602.5 65v10M602.5 85v4M602.5 128v5M602.5 138v10M603.5 89v5M603.5 109v5M604.5 128v20M604.5 172v5M606.5 36v5M606.5 128v10M606.5 143v10M606.5 163v4M606.5 172v5M607.5 128v5M607.5 138v5M607.5 148v5M607.5 163v4M608.5 138v10M608.5 172v5M609.5 46v4M609.5 55v5M609.5 65v5M609.5 128v5M609.5 138v5M609.5 158v5M609.5 172v5M610.5 31v5M610.5 128v5M611.5 36v10M611.5 75v10M611.5 109v5M611.5 133v10M611.5 163v4M612.5 143v5M613.5 31v10M613.5 138v5M614.5 36v5M614.5 148v5M615.5 104v5M615.5 114v5M615.5 128v5M616.5 133v5M617.5 60v5M617.5 119v5M617.5 128v20M617.5 158v5M618.5 31v5M618.5 41v5M618.5 128v10M618.5 143v5M618.5 153v5M619.5 89v5M619.5 104v5M619.5 133v5M619.5 143v20M620.5 128v10M620.5 143v10M620.5 158v5M621.5 128v5M621.5 138v5M621.5 163v4M622.5 75v5M622.5 143v5M622.5 163v4M622.5 172v5M623.5 31v5M623.5 119v5M623.5 128v20M623.5 153v10M624.5 89v10M624.5 104v10M624.5 138v5M625.5 109v5M625.5 128v5M625.5 153v24M626.5 89v5M626.5 133v10M626.5 158v5M627.5 109v5M627.5 133v5M628.5 70v5M628.5 138v5M628.5 167v5M629.5 31v5M629.5 50v5M629.5 128v39M630.5 60v5M630.5 70v5M630.5 128v10M631.5 85v4M631.5 128v5M631.5 138v10M632.5 128v10M632.5 143v15M633.5 138v10M633.5 153v5M633.5 163v4M635.5 128v10M635.5 143v5M635.5 153v14M635.5 172v5M637.5 109v5M637.5 128v10M637.5 143v10M638.5 50v5M639.5 89v5M639.5 109v5M639.5 133v10M639.5 148v19M639.5 172v5M642.5 133v15M642.5 158v5M642.5 172v5M643.5 80v5M643.5 119v5M643.5 128v15M643.5 148v5M643.5 158v5M644.5 133v25M644.5 172v5M645.5 163v9M646.5 128v5M646.5 138v5M646.5 148v5M646.5 158v5M647.5 128v5M648.5 31v5M649.5 80v9M649.5 109v10M651.5 94v5M651.5 133v5M652.5 70v5M652.5 109v5M653.5 46v4M653.5 70v5M654.5 128v10M654.5 153v5M655.5 55v15M655.5 75v5M655.5 109v5M655.5 128v25M655.5 158v9M656.5 89v5M656.5 133v25M656.5 163v4M656.5 172v5M657.5 36v5M657.5 128v20M658.5 109v5M659.5 128v20M659.5 158v9M659.5 172v5M660.5 128v5M660.5 138v5M660.5 172v5M661.5 31v5M661.5 119v5M661.5 148v5M661.5 158v19M662.5 65v5M662.5 85v4M662.5 109v5M662.5 133v5M662.5 143v5M663.5 128v20M663.5 153v5M663.5 163v4M663.5 172v5M664.5 50v5M664.5 60v5M664.5 75v5M664.5 128v5M664.5 143v10M665.5 128v20M665.5 153v5M665.5 172v5M666.5 41v5M666.5 50v15M666.5 70v5M666.5 133v5M666.5 148v5M667.5 109v5M667.5 143v5M667.5 158v5M668.5 46v4M668.5 70v10M668.5 89v5M668.5 128v20M668.5 153v5M668.5 163v4M668.5 172v5M669.5 133v5M670.5 163v4M671.5 138v5M672.5 89v5M672.5 109v5M672.5 128v20M672.5 153v10M672.5 167v10M673.5 55v5M673.5 128v10M673.5 172v5M675.5 128v10M675.5 143v20M675.5 167v10M676.5 85v4M676.5 128v39M676.5 172v5M677.5 133v5M677.5 158v5M678.5 89v5M678.5 99v5M678.5 109v5M678.5 143v5M678.5 153v5M678.5 163v4M679.5 55v5M679.5 85v4M679.5 128v20M680.5 133v5M680.5 143v15M680.5 163v4M680.5 172v5M681.5 85v4M681.5 109v5M681.5 128v5M681.5 138v5M681.5 163v4M681.5 172v5M682.5 128v20M682.5 153v10M683.5 46v4M683.5 80v9M683.5 99v5M683.5 133v15M683.5 153v10M683.5 172v5M684.5 41v5M684.5 128v5M684.5 172v5M685.5 70v5M685.5 167v5M686.5 80v5M686.5 89v15M686.5 128v10M686.5 143v5M687.5 31v10M687.5 65v5M687.5 75v5M687.5 89v5M687.5 128v10M687.5 153v10M688.5 94v5M688.5 128v20M688.5 153v14M691.5 55v5M691.5 133v5M691.5 143v5M692.5 94v5M692.5 109v5M692.5 124v4M692.5 133v5M693.5 128v20M693.5 153v10M693.5 172v5M694.5 41v5M694.5 128v20M694.5 158v9M695.5 31v5M695.5 70v5M695.5 128v5M696.5 89v5M696.5 133v5M696.5 153v10M697.5 138v10M698.5 46v4M698.5 55v10M698.5 80v5M698.5 133v5M698.5 153v5M699.5 41v9M699.5 60v10M699.5 75v5M699.5 94v5M699.5 109v5M699.5 128v20M699.5 153v10M700.5 153v5M702.5 50v5M702.5 138v5M703.5 41v14M703.5 60v5M703.5 70v5M703.5 133v5M703.5 153v5M704.5 46v4M704.5 70v5M704.5 109v5M704.5 128v20M705.5 99v5M705.5 109v5M705.5 133v5M706.5 65v5M706.5 75v5M708.5 143v10M709.5 148v5M710.5 133v5M710.5 153v5M711.5 158v5M712.5 128v10M712.5 148v5M713.5 133v5M713.5 153v5M714.5 167v5M715.5 128v5M715.5 148v10M716.5 128v5M717.5 128v35M718.5 153v5M719.5 133v25M720.5 128v10M720.5 143v15M722.5 128v5M722.5 153v5M723.5 128v5M723.5 148v15M724.5 31v5M724.5 46v4M724.5 167v5M726.5 148v5M726.5 158v5M727.5 128v5M727.5 143v10M728.5 143v10M730.5 148v5M731.5 138v15M732.5 148v5M733.5 148v5M735.5 143v5M736.5 148v5M737.5 138v15M737.5 158v5M738.5 143v15M743.5 94v5M746.5 124v4"/><path stroke="#780078" d="M546.5 85v29M546.5 124v9M546.5 138v10M546.5 172v5M547.5 80v5M547.5 128v10M547.5 143v5M547.5 153v10M548.5 133v5M549.5 128v10M549.5 143v20M549.5 172v5M550.5 124v9M550.5 143v10M550.5 163v4M550.5 172v5M551.5 46v4M551.5 128v10M551.5 143v5M551.5 153v5M552.5 109v5M552.5 133v10M552.5 153v5M553.5 133v10M553.5 148v10M553.5 163v4M553.5 172v5M554.5 46v4M554.5 80v5M554.5 163v14M555.5 133v20M555.5 158v9M555.5 172v5M556.5 46v4M556.5 85v4M556.5 128v10M556.5 158v9M557.5 89v5M557.5 143v5M557.5 153v14M557.5 172v5M558.5 94v5M558.5 133v15M558.5 158v9M559.5 80v9M559.5 104v15M559.5 128v20M559.5 158v5M559.5 172v5M560.5 85v4M560.5 94v5M560.5 119v5M560.5 172v5M561.5 80v5M561.5 94v5M561.5 104v5M561.5 133v5M561.5 148v5M561.5 158v9M561.5 172v5M562.5 163v14M563.5 80v9M563.5 94v5M563.5 114v5M563.5 128v5M563.5 138v10M563.5 153v5M563.5 172v5M564.5 41v5M564.5 70v5M564.5 128v5M564.5 153v10M564.5 167v10M565.5 41v5M565.5 50v5M565.5 60v10M565.5 75v10M565.5 94v5M565.5 143v10M565.5 163v9M566.5 109v5M566.5 128v25M566.5 172v5M567.5 85v4M567.5 109v5M567.5 163v4M568.5 89v54M568.5 148v5M568.5 167v10M569.5 148v5M570.5 104v5M570.5 128v5M570.5 138v10M570.5 158v5M570.5 172v5M571.5 80v5M571.5 99v5M571.5 114v10M571.5 128v5M571.5 138v5M572.5 128v10M572.5 143v5M572.5 172v5M573.5 50v5M573.5 80v5M573.5 104v5M573.5 128v10M573.5 143v5M573.5 153v5M574.5 104v5M574.5 153v5M574.5 172v5M575.5 50v5M575.5 80v9M575.5 99v5M575.5 109v10M575.5 128v20M575.5 158v9M575.5 172v5M576.5 167v5M577.5 60v5M577.5 104v5M577.5 138v5M577.5 153v19M578.5 85v4M578.5 104v5M578.5 158v5M578.5 172v5M579.5 85v4M579.5 104v5M579.5 128v5M580.5 89v5M580.5 128v10M580.5 163v4M581.5 41v5M581.5 55v5M581.5 65v5M581.5 124v24M581.5 153v5M581.5 163v4M581.5 172v5M582.5 80v5M582.5 94v5M582.5 104v10M582.5 128v39M582.5 172v5M583.5 50v5M583.5 70v5M583.5 109v5M583.5 148v29M584.5 41v5M584.5 80v9M584.5 94v10M584.5 114v5M584.5 124v9M584.5 138v29M584.5 172v5M585.5 31v5M585.5 75v10M585.5 99v5M586.5 89v5M586.5 128v10M587.5 80v5M587.5 89v5M587.5 109v5M587.5 119v5M587.5 128v5M587.5 138v25M588.5 89v5M588.5 109v5M588.5 124v4M588.5 143v15M588.5 163v9M589.5 128v10M589.5 143v5M589.5 153v14M589.5 172v5M590.5 80v14M590.5 143v20M590.5 172v5M591.5 41v9M591.5 55v5M591.5 70v10M591.5 89v5M591.5 128v5M591.5 138v10M591.5 158v5M591.5 167v5M592.5 133v10M592.5 158v5M592.5 172v5M593.5 133v5M594.5 50v5M594.5 80v5M594.5 94v5M594.5 153v5M595.5 60v5M595.5 70v5M595.5 89v15M595.5 109v5M595.5 133v5M595.5 143v5M595.5 167v5M596.5 60v5M596.5 70v5M596.5 89v5M596.5 109v5M596.5 124v4M596.5 148v19M596.5 172v5M597.5 31v5M597.5 46v4M597.5 65v5M597.5 138v5M597.5 148v10M597.5 172v5M598.5 133v25M599.5 128v20M599.5 158v5M599.5 172v5M600.5 55v5M600.5 128v20M600.5 153v10M600.5 172v5M601.5 85v4M601.5 114v5M601.5 124v39M602.5 41v5M602.5 75v5M602.5 89v10M602.5 109v15M602.5 133v5M602.5 148v19M602.5 172v5M603.5 80v9M603.5 94v5M603.5 128v10M604.5 70v5M604.5 153v19M605.5 94v5M605.5 109v10M605.5 128v25M606.5 31v5M606.5 153v10M607.5 31v5M607.5 153v10M607.5 167v10M608.5 89v5M608.5 109v10M608.5 128v10M608.5 148v5M608.5 158v5M609.5 50v5M609.5 133v5M609.5 143v15M609.5 163v4M610.5 41v9M610.5 55v5M610.5 65v5M610.5 75v5M610.5 133v30M610.5 167v10M611.5 31v5M611.5 60v5M611.5 70v5M611.5 99v10M611.5 128v5M611.5 143v15M611.5 172v5M612.5 36v5M612.5 65v5M612.5 89v5M612.5 109v5M612.5 128v15M613.5 41v5M613.5 50v5M613.5 75v10M613.5 128v10M613.5 143v5M614.5 65v5M614.5 85v9M614.5 104v10M614.5 119v5M614.5 128v20M614.5 158v5M614.5 172v5M615.5 119v9M615.5 133v25M616.5 46v4M616.5 128v5M616.5 138v10M616.5 153v14M617.5 46v4M617.5 153v5M617.5 163v9M618.5 109v5M618.5 138v5M618.5 148v5M618.5 167v10M619.5 85v4M619.5 94v5M619.5 109v5M619.5 119v5M619.5 172v5M620.5 138v5M620.5 153v5M620.5 163v9M621.5 133v5M621.5 143v20M621.5 172v5M622.5 46v4M622.5 138v5M622.5 153v5M623.5 65v5M623.5 104v5M623.5 148v5M623.5 163v14M624.5 80v5M624.5 124v14M624.5 143v20M625.5 89v5M626.5 70v5M626.5 85v4M626.5 124v9M626.5 143v15M626.5 163v4M627.5 85v4M627.5 99v5M627.5 114v5M627.5 128v5M627.5 138v25M627.5 172v5M628.5 50v5M628.5 60v10M628.5 80v5M628.5 89v5M628.5 128v10M628.5 143v5M629.5 75v5M629.5 94v5M629.5 104v10M629.5 167v10M630.5 50v5M630.5 75v5M630.5 138v10M630.5 153v5M631.5 65v10M631.5 89v10M631.5 104v10M631.5 124v4M631.5 133v5M631.5 163v4M632.5 104v5M632.5 138v5M632.5 158v5M632.5 172v5M633.5 85v4M633.5 109v5M633.5 128v10M633.5 158v5M633.5 172v5M634.5 89v5M634.5 128v10M634.5 148v10M634.5 172v5M635.5 80v5M635.5 148v5M636.5 41v5M636.5 60v20M636.5 128v20M637.5 138v5M637.5 158v19M638.5 41v5M638.5 128v20M638.5 153v5M639.5 85v4M639.5 94v5M639.5 104v5M639.5 167v5M640.5 85v4M640.5 99v5M640.5 128v15M641.5 41v9M641.5 65v10M641.5 80v24M641.5 109v5M641.5 124v24M642.5 80v14M642.5 99v5M642.5 124v4M642.5 148v10M642.5 163v9M643.5 109v5M643.5 143v5M643.5 153v5M643.5 163v4M643.5 172v5M644.5 80v9M644.5 158v14M646.5 80v5M646.5 133v5M647.5 89v5M647.5 99v5M647.5 119v5M647.5 167v10M648.5 89v5M648.5 128v20M648.5 153v5M649.5 55v5M649.5 89v15M649.5 119v14M649.5 138v10M650.5 50v15M650.5 89v5M650.5 99v5M650.5 109v5M650.5 119v9M650.5 133v15M650.5 172v5M651.5 46v4M651.5 128v5M651.5 138v10M651.5 172v5M652.5 128v5M652.5 138v10M653.5 65v5M653.5 75v14M653.5 104v5M653.5 128v20M653.5 158v5M654.5 138v10M654.5 158v9M654.5 172v5M655.5 46v9M655.5 99v5M655.5 153v5M655.5 167v10M656.5 70v5M656.5 167v5M657.5 41v5M657.5 85v4M657.5 109v5M657.5 153v10M657.5 172v5M658.5 104v5M659.5 89v5M659.5 104v15M659.5 148v10M660.5 75v24M660.5 104v10M660.5 133v5M660.5 143v24M662.5 55v5M662.5 80v5M662.5 89v5M662.5 124v9M662.5 138v5M662.5 163v4M662.5 172v5M663.5 70v5M663.5 109v5M663.5 148v5M663.5 158v5M663.5 167v5M664.5 41v5M664.5 55v5M664.5 65v5M664.5 89v10M664.5 109v5M664.5 133v10M664.5 153v24M665.5 148v5M666.5 46v4M666.5 65v5M666.5 75v5M666.5 114v5M666.5 128v5M666.5 138v10M666.5 153v5M666.5 172v5M667.5 80v5M667.5 89v10M667.5 128v15M667.5 148v10M667.5 163v4M668.5 50v10M668.5 85v4M668.5 94v5M668.5 148v5M668.5 158v5M669.5 80v14M669.5 99v5M669.5 109v5M669.5 163v4M670.5 119v5M670.5 172v5M671.5 75v5M671.5 85v4M671.5 109v5M671.5 124v14M671.5 143v10M672.5 55v5M672.5 80v9M672.5 99v10M672.5 124v4M672.5 148v5M672.5 163v4M673.5 41v5M673.5 75v5M673.5 85v9M673.5 124v4M673.5 138v29M674.5 46v4M674.5 128v20M674.5 153v5M675.5 109v5M675.5 163v4M676.5 46v4M676.5 167v5M677.5 46v4M677.5 55v5M677.5 75v5M677.5 128v5M677.5 138v20M677.5 163v14M678.5 138v5M679.5 70v5M679.5 80v5M679.5 99v5M679.5 109v5M679.5 119v5M679.5 148v29M680.5 109v5M680.5 167v5M681.5 80v5M681.5 89v5M681.5 99v5M681.5 114v10M681.5 148v15M681.5 167v5M682.5 148v5M682.5 163v9M683.5 89v10M683.5 104v5M683.5 114v10M683.5 148v5M683.5 163v4M684.5 46v4M684.5 89v5M684.5 109v5M684.5 133v15M686.5 85v4M686.5 104v5M686.5 124v4M686.5 138v5M686.5 148v15M686.5 172v5M687.5 60v5M687.5 80v9M687.5 94v5M687.5 109v5M687.5 138v15M687.5 163v9M688.5 89v5M688.5 148v5M688.5 172v5M689.5 89v5M689.5 109v5M689.5 128v39M689.5 172v5M690.5 89v10M690.5 104v5M690.5 128v15M690.5 158v9M690.5 172v5M691.5 70v5M691.5 85v4M691.5 138v5M691.5 148v29M692.5 85v4M692.5 128v5M692.5 138v39M693.5 148v5M693.5 163v4M694.5 148v10M694.5 172v5M695.5 46v4M695.5 65v5M695.5 109v5M695.5 133v15M695.5 158v5M695.5 167v10M696.5 55v5M696.5 94v5M696.5 104v10M696.5 128v5M696.5 138v15M696.5 163v4M696.5 172v5M697.5 104v5M697.5 128v10M697.5 148v15M698.5 41v5M698.5 70v10M698.5 128v5M698.5 138v10M698.5 158v9M698.5 172v5M699.5 50v5M699.5 85v4M699.5 114v5M699.5 124v4M699.5 148v5M700.5 80v5M700.5 94v30M700.5 128v25M700.5 158v9M701.5 89v10M701.5 109v5M701.5 128v20M701.5 153v10M701.5 172v5M702.5 133v5M702.5 148v15M702.5 172v5M703.5 55v5M703.5 109v5M703.5 128v5M703.5 138v15M703.5 163v4M703.5 172v5M704.5 148v29M705.5 89v10M705.5 128v5M705.5 138v10M705.5 153v10M706.5 109v5M706.5 128v20M706.5 163v4M706.5 172v5M708.5 128v15M708.5 153v10M709.5 128v20M709.5 153v10M710.5 138v5M711.5 143v10M713.5 46v4M714.5 128v10M714.5 148v10M715.5 133v5M715.5 143v5M715.5 158v5M716.5 133v20M716.5 158v5M718.5 128v5M718.5 138v15M718.5 158v5M719.5 128v5M719.5 158v5M720.5 138v5M720.5 158v5M721.5 143v10M721.5 158v5M722.5 133v20M722.5 158v5M723.5 133v15M724.5 36v5M724.5 50v5M724.5 128v15M724.5 148v15M725.5 158v5M726.5 133v15M726.5 153v5M727.5 133v10M727.5 153v10M728.5 128v15M728.5 153v10M729.5 128v25M729.5 158v5M730.5 128v20M730.5 153v10M731.5 128v10M731.5 153v10M732.5 128v15M732.5 153v10M732.5 167v5M733.5 128v20M733.5 153v10M734.5 128v5M734.5 143v10M734.5 158v5M735.5 128v15M735.5 148v15M736.5 133v10M736.5 153v5M736.5 163v4M737.5 128v10M737.5 153v5M738.5 128v15M738.5 158v5M740.5 94v5M742.5 85v4M742.5 99v10M742.5 114v5M743.5 89v5M743.5 119v5M744.5 104v5M745.5 99v5M746.5 80v5M746.5 99v5M747.5 99v5"/><path stroke="#900090" d="M546.5 119v5M546.5 148v24M547.5 46v4M547.5 94v5M547.5 119v5M547.5 148v5M547.5 163v14M548.5 46v4M548.5 158v5M549.5 46v4M549.5 80v5M549.5 94v10M549.5 109v5M549.5 138v5M550.5 36v5M550.5 46v4M550.5 89v10M550.5 109v5M550.5 153v5M550.5 167v5M551.5 80v5M551.5 89v30M551.5 124v4M551.5 138v5M551.5 148v5M551.5 158v19M552.5 85v4M552.5 94v10M552.5 148v5M552.5 158v14M553.5 31v5M553.5 46v4M553.5 85v14M553.5 109v5M553.5 158v5M553.5 167v5M554.5 36v5M554.5 94v5M554.5 114v5M555.5 46v4M555.5 89v15M555.5 153v5M555.5 167v5M556.5 31v5M556.5 70v5M556.5 99v10M556.5 114v10M556.5 138v5M556.5 148v10M556.5 172v5M557.5 36v5M557.5 46v4M557.5 80v9M557.5 94v20M557.5 119v9M557.5 148v5M557.5 167v5M558.5 46v4M558.5 80v5M558.5 99v5M558.5 109v5M558.5 124v4M558.5 148v10M558.5 172v5M559.5 36v5M559.5 65v5M559.5 94v10M559.5 119v9M559.5 148v10M559.5 163v4M560.5 36v5M560.5 46v4M560.5 99v5M560.5 114v5M560.5 124v4M560.5 167v5M561.5 85v9M561.5 114v10M561.5 153v5M561.5 167v5M562.5 41v5M562.5 85v4M562.5 94v10M562.5 109v10M563.5 99v5M563.5 119v9M563.5 148v5M563.5 163v9M564.5 65v5M564.5 85v14M564.5 109v10M564.5 148v5M564.5 163v4M565.5 46v4M565.5 85v4M565.5 99v10M565.5 119v5M566.5 89v5M566.5 153v10M566.5 167v5M567.5 80v5M567.5 124v4M568.5 80v9M569.5 89v10M569.5 109v5M569.5 167v5M570.5 99v5M570.5 114v14M570.5 133v5M570.5 163v4M571.5 124v4M572.5 85v4M572.5 94v10M572.5 109v10M572.5 148v5M572.5 167v5M573.5 85v19M573.5 109v10M573.5 148v5M573.5 158v9M574.5 70v5M574.5 85v4M574.5 99v5M574.5 114v14M574.5 167v5M575.5 89v5M575.5 104v5M575.5 119v5M575.5 148v5M575.5 167v5M576.5 85v14M576.5 104v10M577.5 89v5M577.5 109v5M578.5 75v5M578.5 114v5M578.5 167v5M579.5 80v5M579.5 94v10M579.5 119v9M579.5 133v20M579.5 158v5M580.5 75v5M580.5 85v4M580.5 99v5M580.5 119v9M580.5 148v5M580.5 158v5M580.5 167v10M581.5 50v5M581.5 70v10M581.5 99v20M581.5 148v5M581.5 158v5M581.5 167v5M582.5 89v5M582.5 114v14M582.5 167v5M583.5 41v9M583.5 75v19M583.5 99v5M583.5 119v5M584.5 89v5M584.5 104v5M584.5 119v5M584.5 167v5M585.5 41v9M585.5 55v10M585.5 119v9M586.5 99v5M586.5 109v10M586.5 138v25M587.5 85v4M587.5 94v15M587.5 163v4M587.5 172v5M588.5 94v15M588.5 114v10M589.5 55v5M589.5 65v5M589.5 75v5M589.5 94v5M589.5 148v5M589.5 167v5M590.5 94v5M590.5 104v5M590.5 114v14M590.5 163v9M591.5 85v4M591.5 99v5M591.5 109v5M591.5 119v5M591.5 133v5M591.5 163v4M591.5 172v5M592.5 80v5M592.5 148v10M592.5 163v9M593.5 80v39M593.5 167v5M594.5 70v5M594.5 99v5M594.5 119v9M594.5 167v5M595.5 85v4M595.5 104v5M595.5 114v14M595.5 148v5M595.5 163v4M596.5 85v4M596.5 94v5M596.5 104v5M596.5 167v5M597.5 158v14M598.5 46v14M598.5 65v5M598.5 89v5M598.5 99v5M598.5 109v5M598.5 128v5M598.5 163v4M598.5 172v5M599.5 65v5M599.5 80v5M599.5 89v10M599.5 119v5M599.5 148v10M599.5 163v4M600.5 109v5M600.5 148v5M600.5 163v9M601.5 65v5M601.5 80v5M601.5 99v5M601.5 119v5M601.5 163v14M602.5 80v5M602.5 124v4M602.5 167v5M603.5 99v5M603.5 114v5M603.5 124v4M603.5 138v10M603.5 153v5M603.5 163v4M604.5 94v10M604.5 148v5M605.5 80v14M605.5 104v5M605.5 119v5M605.5 153v14M605.5 172v5M606.5 41v5M606.5 109v5M606.5 167v5M607.5 55v5M607.5 85v4M608.5 80v9M608.5 94v15M608.5 119v9M608.5 153v5M609.5 60v5M609.5 70v5M609.5 80v19M609.5 104v15M609.5 167v5M610.5 50v5M610.5 60v5M610.5 70v5M610.5 80v5M610.5 163v4M611.5 89v5M611.5 114v5M611.5 124v4M611.5 158v5M611.5 167v5M612.5 41v5M612.5 99v10M612.5 114v5M612.5 148v19M612.5 172v5M613.5 46v4M613.5 55v10M613.5 70v5M613.5 89v5M613.5 148v19M613.5 172v5M614.5 94v10M614.5 114v5M614.5 153v5M614.5 163v9M615.5 158v19M616.5 124v4M616.5 148v5M616.5 172v5M617.5 124v4M617.5 148v5M617.5 172v5M618.5 80v5M618.5 89v5M618.5 104v5M618.5 163v4M619.5 80v5M619.5 99v5M619.5 114v5M619.5 167v5M620.5 124v4M620.5 172v5M621.5 89v5M621.5 167v5M622.5 94v10M623.5 41v9M624.5 85v4M624.5 99v5M624.5 114v10M624.5 167v10M625.5 80v5M625.5 99v5M625.5 114v10M626.5 55v5M626.5 114v10M626.5 167v10M627.5 80v5M627.5 163v9M628.5 46v4M628.5 55v5M628.5 75v5M628.5 85v4M628.5 94v5M629.5 80v14M629.5 99v5M630.5 109v5M630.5 148v5M630.5 158v9M630.5 172v5M631.5 46v14M631.5 80v5M631.5 99v5M631.5 114v10M631.5 148v15M631.5 172v5M632.5 89v15M632.5 109v5M632.5 163v9M633.5 41v5M633.5 80v5M633.5 89v15M633.5 119v9M633.5 148v5M634.5 70v5M634.5 80v5M634.5 94v5M634.5 109v15M634.5 138v10M634.5 158v14M635.5 85v19M635.5 109v15M635.5 167v5M636.5 50v10M636.5 89v5M636.5 153v5M636.5 163v4M637.5 89v5M637.5 99v5M637.5 153v5M638.5 158v9M639.5 80v5M639.5 99v5M639.5 114v14M640.5 80v5M640.5 104v10M640.5 143v5M640.5 158v5M641.5 31v5M641.5 50v10M641.5 75v5M641.5 104v5M641.5 114v10M641.5 148v19M642.5 65v5M642.5 94v5M642.5 104v5M642.5 114v10M643.5 167v5M646.5 50v5M646.5 85v4M646.5 119v5M646.5 163v4M646.5 172v5M647.5 94v5M647.5 104v15M648.5 60v5M648.5 70v5M648.5 80v5M648.5 94v5M648.5 104v10M648.5 148v5M648.5 158v9M648.5 172v5M649.5 46v4M649.5 104v5M649.5 133v5M649.5 153v14M649.5 172v5M650.5 80v5M650.5 128v5M650.5 148v19M651.5 50v5M651.5 65v5M651.5 148v24M652.5 89v15M652.5 119v9M652.5 133v5M652.5 148v5M652.5 158v9M652.5 172v5M653.5 60v5M653.5 89v15M653.5 109v5M653.5 148v10M653.5 163v14M654.5 60v5M654.5 89v5M654.5 104v10M654.5 148v5M654.5 167v5M655.5 70v5M655.5 85v4M655.5 94v5M655.5 114v5M656.5 50v10M656.5 104v5M657.5 80v5M657.5 89v5M657.5 99v10M657.5 114v5M657.5 124v4M657.5 148v5M657.5 163v9M658.5 46v4M658.5 80v5M658.5 89v10M658.5 119v29M658.5 158v5M658.5 172v5M659.5 85v4M659.5 94v5M659.5 119v5M659.5 167v5M660.5 99v5M660.5 114v14M660.5 167v5M661.5 75v5M661.5 89v5M662.5 94v15M662.5 114v10M662.5 148v15M662.5 167v5M663.5 99v5M663.5 114v5M663.5 124v4M664.5 70v5M664.5 80v9M664.5 104v5M664.5 119v9M665.5 109v15M666.5 94v5M666.5 109v5M666.5 158v14M667.5 99v5M667.5 114v14M667.5 172v5M668.5 80v5M668.5 99v25M668.5 167v5M669.5 114v5M669.5 124v9M669.5 138v5M669.5 153v5M670.5 85v4M671.5 80v5M671.5 89v10M671.5 104v5M671.5 158v19M672.5 46v9M672.5 75v5M672.5 94v5M672.5 114v10M673.5 46v9M673.5 60v15M673.5 80v5M673.5 99v25M673.5 167v5M674.5 31v5M674.5 158v9M674.5 172v5M675.5 80v24M675.5 119v5M676.5 75v5M676.5 99v5M676.5 124v4M677.5 80v5M677.5 119v5M678.5 75v5M678.5 94v5M678.5 104v5M679.5 89v10M679.5 104v5M680.5 94v5M680.5 114v5M681.5 94v5M681.5 124v4M682.5 80v14M682.5 99v5M682.5 109v5M683.5 124v4M683.5 167v5M684.5 75v14M684.5 99v5M684.5 119v9M684.5 153v10M685.5 80v5M685.5 109v5M686.5 114v10M686.5 163v4M687.5 41v5M687.5 55v5M687.5 99v5M687.5 119v5M687.5 172v5M688.5 167v5M689.5 80v5M689.5 94v10M689.5 167v5M690.5 41v5M690.5 85v4M690.5 99v5M690.5 109v10M690.5 143v15M690.5 167v5M691.5 80v5M691.5 109v5M693.5 80v5M693.5 89v5M693.5 99v15M693.5 167v5M694.5 75v5M694.5 104v10M694.5 167v5M695.5 85v4M695.5 94v10M695.5 148v10M695.5 163v4M696.5 80v9M696.5 99v5M696.5 114v14M696.5 167v5M697.5 85v9M697.5 109v5M697.5 163v14M698.5 148v5M698.5 167v5M699.5 80v5M699.5 89v5M699.5 99v10M700.5 85v9M700.5 172v5M701.5 80v5M701.5 99v10M701.5 114v14M701.5 148v5M701.5 163v9M702.5 80v5M702.5 99v5M702.5 109v5M702.5 128v5M702.5 143v5M702.5 163v9M703.5 89v10M703.5 104v5M703.5 124v4M703.5 158v5M703.5 167v5M704.5 89v5M704.5 99v5M705.5 80v9M705.5 104v5M705.5 119v5M705.5 148v5M705.5 163v14M706.5 55v5M706.5 80v14M706.5 104v5M706.5 114v10M706.5 148v15M708.5 31v5M709.5 36v5M709.5 46v4M711.5 31v5M711.5 128v10M711.5 153v5M713.5 31v5M714.5 41v9M714.5 138v10M714.5 158v5M715.5 46v4M715.5 138v5M716.5 153v5M718.5 133v5M719.5 31v5M719.5 41v5M720.5 46v4M721.5 128v15M721.5 153v5M724.5 41v5M724.5 65v10M724.5 143v5M725.5 133v25M726.5 41v5M726.5 128v5M734.5 31v5M734.5 133v10M734.5 153v5M735.5 31v19M736.5 46v4M736.5 128v5M736.5 143v5M736.5 158v5M740.5 36v5M740.5 89v5M740.5 104v15M740.5 124v4M741.5 85v4M742.5 94v5M742.5 109v5M742.5 119v9M743.5 85v4M743.5 99v10M743.5 124v4M744.5 89v5M744.5 99v5M745.5 94v5M745.5 119v5M746.5 85v14M746.5 104v5M746.5 114v10M747.5 119v5M748.5 94v5M749.5 75v5M750.5 75v14M750.5 109v5M750.5 119v9"/><path stroke="#601848" d="M547.5 89v5M547.5 114v5M548.5 138v5M562.5 55v15M563.5 31v5M564.5 36v5M564.5 46v4M567.5 65v5M567.5 128v5M567.5 143v5M571.5 148v15M572.5 41v5M572.5 65v5M574.5 50v5M574.5 60v5M575.5 75v5M577.5 31v5M578.5 80v5M580.5 46v4M582.5 41v5M583.5 31v5M584.5 70v5M586.5 60v5M587.5 36v5M588.5 31v5M592.5 50v5M592.5 60v5M593.5 148v15M594.5 60v5M594.5 138v10M594.5 158v5M598.5 31v5M600.5 60v5M601.5 60v5M603.5 65v5M604.5 46v4M604.5 114v5M605.5 50v10M607.5 41v5M608.5 163v4M611.5 65v5M613.5 94v5M613.5 114v5M617.5 80v14M617.5 104v5M618.5 46v4M619.5 128v5M619.5 138v5M624.5 75v5M626.5 109v5M627.5 65v5M628.5 109v5M628.5 158v9M629.5 60v5M634.5 60v5M638.5 46v4M638.5 55v5M639.5 41v5M640.5 31v5M640.5 41v5M642.5 70v5M643.5 89v5M643.5 114v5M644.5 50v5M644.5 65v5M645.5 41v5M646.5 60v15M646.5 143v5M646.5 153v5M647.5 41v5M647.5 55v5M647.5 143v15M648.5 41v5M650.5 85v4M651.5 55v5M657.5 75v5M658.5 50v10M659.5 55v5M660.5 65v5M661.5 41v5M662.5 31v5M662.5 46v4M662.5 60v5M662.5 75v5M663.5 75v5M665.5 41v5M665.5 65v5M665.5 167v5M669.5 31v5M669.5 50v10M669.5 65v5M670.5 65v5M670.5 167v5M671.5 36v5M676.5 41v5M677.5 41v5M677.5 60v10M678.5 55v5M678.5 70v5M680.5 55v5M682.5 65v5M683.5 36v5M685.5 133v15M685.5 172v5M688.5 50v5M688.5 119v5M689.5 50v5M691.5 41v5M691.5 50v5M692.5 114v5M693.5 65v5M693.5 75v5M694.5 50v5M695.5 41v5M697.5 55v5M698.5 109v5M699.5 163v4M700.5 65v5M700.5 75v5M701.5 60v10M705.5 31v5M726.5 167v5M750.5 133v5M750.5 148v5"/><path stroke="#781860" d="M547.5 99v5M548.5 128v5M548.5 148v5M548.5 167v5M550.5 80v5M550.5 114v5M562.5 50v5M563.5 46v4M564.5 75v5M567.5 50v5M567.5 60v5M569.5 60v5M571.5 167v5M576.5 41v5M577.5 50v5M578.5 89v10M578.5 119v5M579.5 60v5M585.5 89v5M586.5 50v5M589.5 41v5M589.5 50v5M589.5 70v5M594.5 148v5M594.5 163v4M595.5 158v5M595.5 172v5M597.5 41v5M597.5 50v5M597.5 70v5M597.5 114v5M597.5 124v4M599.5 60v5M599.5 75v5M600.5 50v5M601.5 70v10M603.5 75v5M607.5 70v10M611.5 55v5M614.5 46v4M615.5 60v5M615.5 70v5M616.5 75v5M616.5 89v20M617.5 99v5M620.5 114v5M622.5 60v5M622.5 158v5M623.5 85v9M626.5 46v4M626.5 80v5M628.5 119v5M628.5 172v5M629.5 41v5M633.5 65v5M636.5 148v5M636.5 172v5M637.5 55v5M638.5 65v5M642.5 50v5M643.5 94v5M644.5 70v5M644.5 99v5M644.5 124v4M646.5 167v5M648.5 46v9M650.5 75v5M650.5 114v5M651.5 99v5M653.5 55v5M655.5 80v5M655.5 89v5M655.5 119v9M656.5 46v4M656.5 114v5M661.5 85v4M661.5 104v5M661.5 114v5M662.5 70v5M663.5 50v5M665.5 46v4M665.5 55v5M665.5 70v5M665.5 158v5M667.5 41v5M669.5 143v10M670.5 70v5M670.5 80v5M670.5 89v15M670.5 114v5M671.5 46v4M675.5 70v5M676.5 94v5M676.5 104v5M676.5 114v10M677.5 85v9M677.5 114v5M677.5 124v4M678.5 85v4M683.5 70v5M684.5 31v5M684.5 163v4M685.5 50v5M687.5 46v4M687.5 70v5M690.5 31v10M690.5 60v5M692.5 60v5M694.5 60v5M699.5 167v5M702.5 41v5M702.5 75v5M702.5 104v5M706.5 70v5M718.5 119v5M719.5 163v4M750.5 138v5"/><path stroke="#901878" d="M547.5 124v4M550.5 85v4M550.5 104v5M579.5 41v5M579.5 75v5M585.5 94v5M585.5 104v5M588.5 70v5M597.5 119v5M598.5 60v5M599.5 50v5M600.5 80v5M600.5 104v5M600.5 114v5M600.5 124v4M604.5 119v5M613.5 104v5M613.5 119v5M614.5 75v5M616.5 119v5M622.5 41v5M622.5 55v5M623.5 109v5M623.5 124v4M626.5 41v5M626.5 99v5M628.5 99v5M640.5 65v5M640.5 163v9M643.5 104v5M643.5 124v4M645.5 114v5M645.5 124v4M646.5 89v5M646.5 104v5M650.5 46v4M651.5 104v5M651.5 114v10M656.5 85v4M657.5 55v5M665.5 75v5M670.5 41v5M676.5 80v5M677.5 104v5M678.5 80v5M678.5 119v9M685.5 41v5M695.5 50v10M695.5 75v5M732.5 172v5"/><path stroke="#ff00ff" d="M548.5 50v5M549.5 50v5M552.5 50v5M558.5 50v5M560.5 50v5M725.5 75v5"/><path stroke="#600048" d="M548.5 143v5M567.5 138v5M578.5 109v5M594.5 133v5M647.5 138v5M661.5 80v5M676.5 89v5M676.5 109v5M678.5 148v5M678.5 167v5M698.5 94v5M698.5 104v5M702.5 89v5"/><path stroke="#480048" d="M554.5 128v5M554.5 148v5M556.5 94v5M560.5 138v10M562.5 36v5M562.5 133v5M565.5 31v5M565.5 133v5M566.5 41v5M567.5 31v5M567.5 153v10M569.5 31v5M570.5 89v5M571.5 94v5M572.5 55v5M572.5 75v5M574.5 36v5M574.5 133v5M574.5 143v5M574.5 163v4M576.5 36v5M576.5 133v5M576.5 143v5M579.5 31v10M580.5 36v5M581.5 46v4M585.5 36v5M585.5 128v5M585.5 148v5M585.5 158v14M588.5 60v5M589.5 31v5M592.5 31v5M592.5 46v4M592.5 65v5M593.5 143v5M594.5 55v5M594.5 65v5M594.5 75v5M594.5 85v4M594.5 109v5M594.5 128v5M595.5 41v5M595.5 50v5M595.5 65v5M601.5 36v5M602.5 31v5M602.5 46v4M603.5 31v5M605.5 31v5M606.5 138v5M607.5 36v5M607.5 60v5M607.5 133v5M607.5 143v5M610.5 36v5M612.5 31v5M613.5 65v5M615.5 80v24M615.5 109v5M616.5 31v5M617.5 41v5M617.5 50v5M618.5 158v5M619.5 163v4M622.5 31v5M622.5 133v5M623.5 36v5M625.5 133v20M626.5 31v10M626.5 65v5M627.5 31v5M627.5 75v5M628.5 31v5M628.5 41v5M628.5 148v5M629.5 70v5M631.5 31v5M631.5 41v5M635.5 60v5M635.5 138v5M636.5 36v5M639.5 128v5M639.5 143v5M641.5 36v5M642.5 31v10M642.5 128v5M644.5 89v5M644.5 128v5M645.5 55v5M645.5 128v20M645.5 153v10M645.5 172v5M646.5 41v9M647.5 133v5M647.5 163v4M648.5 36v5M649.5 65v5M650.5 31v10M650.5 104v5M652.5 50v10M653.5 31v5M654.5 31v5M655.5 31v5M655.5 41v5M656.5 65v5M656.5 109v5M656.5 128v5M656.5 158v5M657.5 31v5M658.5 70v5M659.5 46v4M661.5 128v20M661.5 153v5M662.5 50v5M663.5 60v5M664.5 31v5M664.5 46v4M666.5 31v5M668.5 41v5M668.5 60v10M670.5 31v5M670.5 128v5M670.5 138v5M670.5 148v15M671.5 31v5M672.5 31v5M673.5 31v10M675.5 31v5M675.5 138v5M678.5 31v5M678.5 133v5M679.5 60v10M680.5 128v5M680.5 138v5M680.5 158v5M681.5 133v5M681.5 143v5M682.5 70v10M682.5 172v5M683.5 109v5M683.5 128v5M685.5 128v5M685.5 163v4M686.5 55v5M686.5 109v5M688.5 36v5M688.5 46v4M688.5 80v5M688.5 99v5M689.5 31v5M691.5 31v5M691.5 128v5M694.5 36v5M695.5 36v5M696.5 41v5M697.5 41v5M698.5 31v10M698.5 65v5M702.5 31v5M703.5 31v5M703.5 75v5M710.5 128v5M710.5 143v10M710.5 158v5M712.5 138v10M712.5 153v10M713.5 138v15M713.5 158v5M725.5 167v5M729.5 153v5M732.5 143v5"/><path stroke="#603030" d="M556.5 89v5M563.5 65v10M567.5 41v5M568.5 31v5M568.5 75v5M570.5 31v5M571.5 50v5M574.5 41v5M575.5 46v4M575.5 60v5M577.5 55v5M578.5 70v5M580.5 41v5M582.5 75v5M584.5 50v5M584.5 65v5M586.5 55v5M587.5 60v10M592.5 70v5M593.5 70v5M596.5 41v5M596.5 55v5M596.5 65v5M604.5 60v5M604.5 75v5M605.5 41v9M615.5 41v5M619.5 50v10M620.5 46v4M620.5 75v5M620.5 94v5M625.5 31v5M632.5 55v5M632.5 65v5M635.5 50v5M637.5 46v4M643.5 36v5M644.5 41v5M644.5 114v5M647.5 70v5M653.5 36v10M659.5 70v5M660.5 46v4M660.5 60v5M669.5 41v9M669.5 70v5M669.5 172v5M672.5 65v5M675.5 36v5M676.5 60v5M676.5 70v5M680.5 75v5M682.5 46v4M682.5 55v5M688.5 65v5M689.5 65v5M692.5 41v5M692.5 55v5M692.5 65v5M696.5 46v4M696.5 60v5M696.5 70v5M697.5 70v5M704.5 50v5M705.5 46v14M712.5 124v4M726.5 172v5M729.5 172v5M732.5 163v4M738.5 167v5M749.5 167v10"/><path stroke="#781848" d="M556.5 109v5M576.5 60v5M578.5 65v5M589.5 60v5M595.5 128v5M598.5 36v5M600.5 75v5M603.5 60v5M613.5 109v5M614.5 70v5M617.5 70v10M622.5 128v5M628.5 114v5M630.5 41v5M638.5 60v5M638.5 70v5M645.5 99v5M646.5 55v5M650.5 41v5M652.5 41v5M654.5 55v5M654.5 70v10M658.5 75v5M660.5 70v5M661.5 94v5M661.5 109v5M685.5 75v5M691.5 46v4M696.5 75v5M705.5 65v5M717.5 163v4"/><path stroke="#903078" d="M556.5 124v4M600.5 85v9M600.5 119v5M614.5 41v5M632.5 60v5M649.5 50v5M651.5 109v5M654.5 46v4M657.5 70v5M684.5 70v5M690.5 50v5"/><path stroke="#483018" d="M561.5 31v5M561.5 65v5M567.5 148v5M569.5 55v5M573.5 31v5M575.5 31v15M577.5 75v5M580.5 65v5M584.5 31v5M587.5 31v5M588.5 46v4M590.5 36v5M590.5 60v5M593.5 36v5M600.5 36v5M604.5 36v5M604.5 65v5M617.5 31v5M620.5 36v10M620.5 104v5M629.5 36v5M632.5 36v5M635.5 65v10M642.5 60v5M647.5 46v4M659.5 36v5M663.5 31v5M669.5 36v5M671.5 70v5M676.5 65v5M679.5 50v5M681.5 60v5M682.5 60v5M683.5 50v5M689.5 36v5M697.5 60v5M700.5 31v5M704.5 65v5M706.5 31v5M706.5 46v4M713.5 114v5M716.5 167v5"/><path stroke="#301818" d="M561.5 36v5M566.5 31v5M568.5 65v5M571.5 36v5M571.5 60v5M578.5 36v5M588.5 75v5M593.5 31v5M620.5 31v5M620.5 89v5M625.5 41v5M630.5 31v5M635.5 41v5M643.5 31v5M649.5 31v10M652.5 31v10M652.5 60v5M660.5 36v5M668.5 31v5M670.5 36v5M675.5 65v5M681.5 36v5M682.5 36v5M685.5 31v5M686.5 65v5M686.5 75v5M688.5 31v5M688.5 41v5M692.5 99v5M697.5 31v5M717.5 114v5M721.5 114v5"/><path stroke="#601830" d="M561.5 41v5M572.5 46v4M573.5 46v4M577.5 65v5M596.5 46v4M600.5 70v5M620.5 109v5M630.5 46v4M637.5 70v5M672.5 36v5M675.5 55v5M691.5 60v5M698.5 85v4M736.5 167v5"/><path stroke="#786030" d="M561.5 46v4M580.5 50v5M624.5 55v5M634.5 41v5M676.5 50v5M681.5 65v5M689.5 60v5M710.5 119v5M729.5 163v4M737.5 124v4M747.5 143v5M749.5 163v4"/><path stroke="#181818" d="M561.5 50v5"/><path stroke="#784830" d="M561.5 55v5M567.5 46v4M567.5 75v5M568.5 70v5M569.5 46v9M577.5 46v4M578.5 60v5M579.5 65v5M582.5 36v5M587.5 75v5M593.5 55v5M603.5 50v5M604.5 50v5M608.5 70v5M615.5 46v4M616.5 70v5M618.5 50v5M618.5 65v5M618.5 75v5M619.5 65v5M619.5 75v5M620.5 50v10M621.5 46v9M625.5 70v5M627.5 50v5M632.5 75v5M633.5 70v5M639.5 50v5M640.5 75v5M659.5 60v5M661.5 60v5M667.5 46v4M671.5 55v5M672.5 41v5M675.5 50v5M680.5 41v5M681.5 41v5M681.5 50v5M685.5 46v4M690.5 46v4M697.5 46v4M715.5 172v5M718.5 172v5M735.5 163v4M744.5 128v5M746.5 128v5M749.5 143v5M750.5 167v5"/><path stroke="#481818" d="M561.5 60v5M596.5 31v5M619.5 31v5M633.5 55v5M635.5 75v5M644.5 109v5M682.5 50v5M701.5 31v5"/><path stroke="#303000" d="M561.5 70v5M590.5 41v5M618.5 36v5M625.5 60v5M637.5 31v5M645.5 46v4M679.5 31v5M697.5 36v5M700.5 36v5M710.5 114v5M729.5 114v5"/><path stroke="#906018" d="M561.5 75v5M573.5 41v5M577.5 41v5M590.5 75v5M637.5 75v5M685.5 65v5M689.5 41v5M711.5 163v4"/><path stroke="#603048" d="M562.5 46v4M568.5 41v5M584.5 75v5M599.5 46v4M599.5 70v5M601.5 50v5M604.5 89v5M607.5 65v5M633.5 60v5M644.5 55v5M669.5 158v5M670.5 55v5M674.5 75v5M675.5 41v5M678.5 41v9M683.5 60v5M684.5 60v10M688.5 70v5M689.5 46v4M692.5 31v10M692.5 89v5M697.5 50v5M698.5 114v5"/><path stroke="#783048" d="M562.5 70v10M569.5 41v5M569.5 65v5M570.5 41v5M571.5 70v5M571.5 163v4M574.5 46v4M574.5 55v5M574.5 65v5M576.5 70v5M578.5 31v5M579.5 55v5M580.5 60v5M590.5 70v5M592.5 41v5M592.5 75v5M593.5 163v4M596.5 50v5M597.5 55v10M597.5 75v5M597.5 89v5M600.5 31v5M601.5 41v9M603.5 70v5M604.5 109v5M605.5 75v5M614.5 31v5M617.5 55v5M617.5 114v5M619.5 46v4M620.5 65v5M624.5 60v5M627.5 55v5M629.5 65v5M633.5 31v5M633.5 50v5M634.5 55v5M637.5 41v5M637.5 60v5M638.5 75v5M640.5 55v5M644.5 75v5M646.5 75v5M649.5 60v5M649.5 70v5M652.5 46v4M656.5 31v5M656.5 41v5M656.5 94v5M656.5 119v5M657.5 65v5M658.5 65v5M659.5 50v5M659.5 75v5M661.5 55v5M662.5 41v5M663.5 41v5M665.5 50v5M665.5 60v5M670.5 109v5M674.5 41v5M674.5 70v5M681.5 46v4M683.5 31v5M684.5 50v10M686.5 60v5M686.5 70v5M688.5 55v5M688.5 109v5M691.5 65v5M693.5 55v5M694.5 55v5M696.5 50v5M698.5 89v5M699.5 172v5M700.5 70v5M701.5 75v5M704.5 75v5M717.5 167v5M726.5 163v4M733.5 167v5M750.5 143v5"/><path stroke="#481830" d="M563.5 36v5M564.5 31v5M567.5 172v5M568.5 55v5M569.5 36v5M570.5 36v5M572.5 50v5M572.5 70v5M573.5 75v5M574.5 31v5M575.5 55v5M577.5 36v5M586.5 41v9M586.5 65v5M586.5 75v5M588.5 36v5M593.5 50v5M593.5 65v5M593.5 75v5M594.5 31v5M596.5 36v5M600.5 41v5M600.5 65v5M601.5 55v5M602.5 60v5M605.5 36v5M605.5 65v10M615.5 31v10M616.5 36v10M616.5 55v10M617.5 65v5M619.5 41v5M621.5 36v5M624.5 31v5M624.5 46v4M627.5 41v9M632.5 31v5M634.5 50v5M636.5 31v5M646.5 31v5M647.5 36v5M652.5 75v5M654.5 36v5M658.5 41v5M660.5 55v5M667.5 31v10M674.5 36v5M678.5 36v5M678.5 128v5M679.5 41v9M679.5 75v5M680.5 31v5M680.5 60v5M685.5 153v5M686.5 41v14M688.5 75v5M689.5 55v5M692.5 80v5M692.5 104v5M692.5 119v5M697.5 75v5M701.5 55v5M702.5 36v5M704.5 55v5M705.5 36v5M706.5 41v5M734.5 114v5M735.5 167v5"/><path stroke="#604818" d="M563.5 41v5M566.5 65v10M568.5 50v5M569.5 75v5M587.5 46v4M587.5 55v5M587.5 70v5M588.5 50v5M599.5 55v5M603.5 41v5M608.5 31v5M615.5 75v5M620.5 80v5M625.5 75v5M639.5 70v5M645.5 75v5M647.5 60v5M651.5 36v10M659.5 31v5M669.5 60v5M669.5 75v5M676.5 36v5M683.5 65v5M693.5 41v14M705.5 60v5M708.5 114v5M709.5 114v5M711.5 114v5M721.5 163v4M730.5 163v4M731.5 114v5M734.5 172v5M746.5 158v5"/><path stroke="#a83060" d="M563.5 50v5M564.5 55v5M644.5 46v4M648.5 75v5M667.5 65v5M683.5 55v5"/><path stroke="#903060" d="M563.5 55v5M564.5 50v5M564.5 60v5M566.5 60v5M566.5 75v5M567.5 70v5M570.5 50v5M570.5 60v5M573.5 70v5M575.5 70v5M576.5 75v5M579.5 70v5M585.5 109v5M598.5 70v5M604.5 85v4M605.5 60v5M607.5 46v9M614.5 50v10M620.5 60v5M620.5 70v5M623.5 80v5M636.5 167v5M637.5 65v5M642.5 75v5M645.5 80v5M648.5 65v5M654.5 50v5M661.5 50v5M661.5 124v4M663.5 46v4M667.5 60v5M670.5 50v5M670.5 60v5M672.5 60v5M677.5 94v5M678.5 50v5M680.5 46v9M683.5 75v5M691.5 75v5M694.5 46v4M695.5 60v5M701.5 41v14M702.5 55v15M702.5 119v9M709.5 167v5M711.5 172v5M716.5 172v5M721.5 119v9M722.5 119v5M727.5 163v4M728.5 167v5"/><path stroke="#904830" d="M563.5 60v5M578.5 50v5M633.5 75v5M640.5 50v5M685.5 55v5M722.5 124v4M737.5 119v5"/><path stroke="#906030" d="M563.5 75v5M576.5 55v5M580.5 55v5M582.5 31v5M587.5 50v5M603.5 55v5M618.5 60v5M619.5 60v5M621.5 75v5M632.5 50v5M633.5 46v4M634.5 75v5M639.5 46v4M667.5 75v5M681.5 55v5M689.5 75v5M700.5 41v5M705.5 75v5M708.5 124v4M709.5 119v5M718.5 163v4M730.5 124v4M732.5 119v5M734.5 163v4M740.5 167v5M747.5 133v5M748.5 172v5M749.5 148v5M750.5 163v4"/><path stroke="#300030" d="M565.5 36v5M567.5 36v5M571.5 65v5M572.5 31v10M572.5 60v5M573.5 60v5M581.5 36v5M583.5 36v5M585.5 172v5M591.5 36v5M591.5 60v5M595.5 31v5M595.5 46v4M602.5 36v5M609.5 31v15M619.5 36v5M622.5 36v5M624.5 36v5M627.5 36v5M628.5 36v5M630.5 55v5M630.5 65v5M631.5 36v5M634.5 31v10M637.5 36v5M638.5 31v10M640.5 36v5M642.5 109v5M644.5 31v10M645.5 148v5M655.5 36v5M660.5 41v5M663.5 55v5M663.5 65v5M664.5 36v5M665.5 36v5M666.5 36v5M670.5 143v5M677.5 31v5M680.5 36v5M685.5 36v5M686.5 36v5M688.5 60v5M691.5 36v5M696.5 31v10M699.5 55v5M699.5 70v5M703.5 65v5M713.5 128v5M725.5 163v4"/><path stroke="#483030" d="M566.5 36v5M575.5 65v5M642.5 46v4M643.5 75v5M645.5 31v5M654.5 65v5M661.5 36v5M661.5 65v5M694.5 31v5M704.5 60v5M730.5 167v5M735.5 172v5"/><path stroke="#787800" d="M566.5 46v4M582.5 50v5M590.5 55v5M590.5 65v5M608.5 36v5M608.5 75v5M624.5 41v5M624.5 65v10M625.5 65v5M639.5 60v5M643.5 60v5M710.5 109v5M714.5 114v5M716.5 109v5M716.5 119v5M717.5 109v5M720.5 94v15M720.5 124v4M724.5 99v5M724.5 119v9M727.5 172v5M730.5 94v5M730.5 114v5M730.5 172v5M736.5 114v5M740.5 153v5M741.5 153v5M741.5 172v5M742.5 128v5M742.5 148v5M742.5 167v10M743.5 153v5M744.5 172v5M746.5 138v5M747.5 167v5"/><path stroke="#606000" d="M566.5 50v5M571.5 41v5M582.5 60v5M588.5 65v5M608.5 46v4M608.5 65v5M621.5 41v5M625.5 46v4M639.5 36v5M639.5 65v5M643.5 46v4M645.5 36v5M667.5 55v5M708.5 172v5M714.5 172v5M720.5 80v5M720.5 114v5M720.5 163v4M724.5 85v4M724.5 109v5M725.5 114v5M731.5 167v5M735.5 85v9M735.5 114v5M741.5 128v5M741.5 143v10M741.5 163v9M744.5 138v5M744.5 167v5M746.5 143v5M746.5 163v9"/><path stroke="#303018" d="M568.5 36v5M568.5 60v5M586.5 31v5M593.5 60v5M647.5 65v5M667.5 50v5M700.5 55v5"/><path stroke="#483000" d="M568.5 46v4M573.5 36v5M643.5 70v5M697.5 65v5M718.5 167v5"/><path stroke="#780060" d="M570.5 46v4M597.5 80v5M600.5 99v5M604.5 104v5M613.5 124v4M614.5 60v5M642.5 41v5M677.5 36v5M688.5 124v4"/><path stroke="#783060" d="M570.5 70v5M577.5 70v5M587.5 41v5M600.5 46v4M603.5 46v4M604.5 124v4M622.5 65v5M623.5 94v5M626.5 50v5M628.5 124v4M632.5 70v5M634.5 46v4M657.5 50v5M677.5 50v5M690.5 55v5M702.5 70v5M702.5 114v5"/><path stroke="#a83078" d="M570.5 75v5M579.5 46v4M597.5 85v4M598.5 41v5M611.5 46v9M622.5 50v5M640.5 60v5M640.5 70v5M653.5 50v5M657.5 46v4M658.5 60v5M670.5 124v4M672.5 70v5M674.5 65v5M678.5 65v5M723.5 172v5M734.5 119v9M748.5 153v5M750.5 172v5"/><path stroke="#180018" d="M571.5 31v5M584.5 36v5M586.5 36v5M594.5 36v5M595.5 36v5M604.5 31v5M604.5 41v5M617.5 36v5M647.5 31v5M649.5 41v5M660.5 31v5M686.5 31v5M699.5 31v5M704.5 31v10M706.5 36v5"/><path stroke="#484800" d="M571.5 46v4M571.5 55v5M590.5 31v5M621.5 65v5M624.5 50v5M625.5 36v5M625.5 50v5M635.5 31v5M639.5 31v5M645.5 50v5M645.5 70v5M647.5 50v5M705.5 41v5M724.5 114v5M724.5 163v4M731.5 163v4M737.5 114v5M741.5 138v5M741.5 158v5M746.5 133v5M746.5 172v5"/><path stroke="#786018" d="M571.5 75v5M576.5 46v4M580.5 70v5M582.5 65v5M590.5 50v5M604.5 55v5M618.5 55v5M632.5 41v5M659.5 41v5M681.5 70v10M685.5 60v5M701.5 70v5M716.5 85v4M733.5 114v5M735.5 119v5M746.5 153v5"/><path stroke="#601860" d="M573.5 55v5M578.5 55v5M578.5 124v4M585.5 114v5M596.5 75v5M604.5 80v5M608.5 167v5M613.5 85v4M636.5 158v5M643.5 85v4M644.5 104v5M645.5 85v4M646.5 94v5M646.5 109v5M647.5 158v5M649.5 75v5M654.5 41v5M660.5 50v5M670.5 104v5M677.5 109v5M684.5 148v5M689.5 70v5M694.5 65v5M702.5 85v4"/><path stroke="#603018" d="M573.5 65v5M599.5 41v5M615.5 55v5M620.5 85v4M621.5 31v5M634.5 65v5M658.5 31v5M671.5 50v5M680.5 65v5M700.5 46v4M728.5 172v5"/><path stroke="#a81878" d="M574.5 75v5M646.5 124v4M651.5 124v4M661.5 99v5M688.5 104v5"/><path stroke="#901860" d="M576.5 31v5M576.5 50v5M616.5 114v5M626.5 94v5M633.5 36v5M640.5 153v5M644.5 94v5M645.5 89v5M655.5 104v5M657.5 60v5M661.5 70v5M677.5 99v5M693.5 70v5M702.5 46v4M716.5 163v4M728.5 163v4"/><path stroke="#784818" d="M576.5 65v5M616.5 50v5M616.5 65v5M632.5 46v4M643.5 41v5M671.5 41v5M675.5 60v5M693.5 31v5M700.5 60v5M708.5 167v5M711.5 167v5M722.5 114v5M727.5 167v5"/><path stroke="#a86030" d="M578.5 41v5M690.5 65v5"/><path stroke="#903048" d="M578.5 46v4M615.5 50v5M650.5 65v5M674.5 55v5M698.5 124v4M710.5 163v9"/><path stroke="#784848" d="M579.5 50v5M674.5 50v5M692.5 50v5M733.5 172v5"/><path stroke="#a87848" d="M582.5 46v4M740.5 163v4"/><path stroke="#904848" d="M582.5 70v5M597.5 109v5M608.5 60v5M640.5 46v4M651.5 70v10M656.5 60v5M670.5 75v5M690.5 70v5M696.5 65v5M744.5 148v5M744.5 158v9"/><path stroke="#783030" d="M584.5 60v5M647.5 75v5M661.5 46v4M669.5 167v5M671.5 60v5M678.5 60v5M709.5 172v5M715.5 163v4"/><path stroke="#907818" d="M588.5 41v5M635.5 55v5M700.5 50v5M721.5 172v5M737.5 172v5M738.5 114v5"/><path stroke="#604830" d="M588.5 55v5M625.5 55v5M637.5 50v5M643.5 65v5M659.5 65v5M671.5 65v5M676.5 55v5M715.5 167v5M730.5 119v5"/><path stroke="#a81890" d="M589.5 46v4M600.5 94v5M645.5 119v5M646.5 114v5"/><path stroke="#481848" d="M591.5 31v5M593.5 138v5M599.5 31v5M617.5 94v5M617.5 109v5M620.5 119v5M627.5 60v5M628.5 153v5M629.5 46v4M650.5 94v5M651.5 60v5M665.5 31v5M665.5 163v4M670.5 133v5M685.5 148v5M685.5 158v5M688.5 85v4M693.5 60v5M702.5 94v5M719.5 172v5M736.5 172v5"/><path stroke="#180000" d="M592.5 36v5"/><path stroke="#484818" d="M593.5 41v5M643.5 55v5M645.5 65v5M675.5 75v5M721.5 167v5M732.5 114v5"/><path stroke="#c03090" d="M597.5 99v5M713.5 119v5"/><path stroke="#781878" d="M598.5 75v5M613.5 99v5M616.5 109v5M622.5 148v5M622.5 167v5M626.5 60v5M626.5 104v5M646.5 99v5M651.5 80v9M698.5 99v5M698.5 119v5M724.5 172v5"/><path stroke="#181800" d="M603.5 36v5M620.5 99v5M635.5 36v5M635.5 46v4M679.5 36v5M682.5 41v5M725.5 172v5"/><path stroke="#906048" d="M608.5 41v5M621.5 55v5M670.5 46v4M683.5 41v5M692.5 75v5M712.5 163v4"/><path stroke="#909000" d="M608.5 50v10M621.5 60v5M621.5 70v5M667.5 70v5M705.5 70v5M709.5 80v5M709.5 109v5M710.5 89v5M711.5 109v5M714.5 85v4M714.5 94v5M715.5 109v5M716.5 94v5M716.5 124v4M718.5 80v9M718.5 109v5M719.5 167v5M720.5 85v9M720.5 109v5M720.5 119v5M722.5 85v4M722.5 94v5M722.5 104v10M722.5 167v10M723.5 109v5M723.5 119v5M724.5 80v5M724.5 89v10M724.5 104v5M725.5 124v4M727.5 119v5M730.5 104v5M731.5 172v5M735.5 80v5M735.5 94v5M735.5 109v5M736.5 89v5M737.5 109v5M740.5 133v10M741.5 133v5M742.5 153v5M742.5 163v4M743.5 167v10M744.5 133v5"/><path stroke="#480030" d="M615.5 65v5M630.5 36v5M646.5 36v5M651.5 31v5M652.5 65v5M656.5 36v5M678.5 158v5M678.5 172v5M701.5 36v5"/><path stroke="#c03078" d="M616.5 85v4M718.5 124v4M750.5 158v5"/><path stroke="#907830" d="M618.5 70v5M734.5 167v5M744.5 143v5"/><path stroke="#a86048" d="M619.5 70v5M708.5 163v4M710.5 172v5M717.5 119v5M717.5 172v5M729.5 167v5M731.5 124v4M732.5 124v4M747.5 163v4"/><path stroke="#a84860" d="M626.5 75v5M674.5 60v5M712.5 119v5M713.5 124v4M737.5 167v5M748.5 133v5M750.5 128v5"/><path stroke="#907800" d="M627.5 70v5"/><path stroke="#301830" d="M629.5 55v5M645.5 60v5M676.5 31v5M681.5 31v5M684.5 36v5M693.5 36v5M704.5 41v5M714.5 163v4"/><path stroke="#604800" d="M639.5 55v5"/><path stroke="#a8a800" d="M639.5 75v5M708.5 80v5M708.5 89v10M709.5 85v9M710.5 85v4M710.5 94v5M711.5 80v5M711.5 89v5M712.5 99v5M713.5 99v5M713.5 109v5M715.5 94v5M715.5 119v5M716.5 80v5M716.5 104v5M717.5 89v5M717.5 99v10M717.5 124v4M718.5 104v5M720.5 167v10M721.5 94v5M722.5 89v5M722.5 99v5M723.5 85v9M723.5 104v5M723.5 114v5M725.5 85v14M726.5 85v4M726.5 104v5M726.5 119v9M727.5 109v5M728.5 85v4M729.5 85v4M729.5 109v5M729.5 119v5M730.5 89v5M730.5 99v5M733.5 80v5M734.5 94v5M734.5 104v5M735.5 99v5M736.5 94v5M736.5 119v5M737.5 80v5M737.5 163v4M740.5 148v5M740.5 158v5M742.5 133v15M743.5 128v5M743.5 158v5M746.5 148v5"/><path stroke="#900078" d="M640.5 148v5M656.5 99v5"/><path stroke="#a87830" d="M643.5 50v5M680.5 70v5M708.5 119v5M709.5 124v4M709.5 163v4M714.5 119v5M725.5 119v5M728.5 119v5M733.5 119v9M740.5 143v5M744.5 153v5M749.5 138v5M749.5 153v10"/><path stroke="#904860" d="M644.5 60v5"/><path stroke="#300018" d="M658.5 36v5M663.5 36v5M699.5 36v5M703.5 36v5"/><path stroke="#301800" d="M662.5 36v5M668.5 36v5"/><path stroke="#606018" d="M675.5 46v4"/><path stroke="#000000" d="M682.5 31v5"/><path stroke="#d8d800" d="M708.5 85v4M708.5 99v5M711.5 94v15M712.5 89v5M712.5 172v5M713.5 80v9M713.5 94v5M713.5 172v5M714.5 80v5M714.5 89v5M714.5 99v5M716.5 89v5M717.5 94v5M718.5 89v5M719.5 94v20M719.5 124v4M721.5 89v5M721.5 99v5M725.5 80v5M726.5 94v5M726.5 109v5M727.5 80v5M727.5 89v20M727.5 114v5M727.5 124v4M728.5 89v5M728.5 99v5M728.5 109v5M729.5 94v10M731.5 94v10M731.5 109v5M731.5 119v5M732.5 85v4M732.5 99v5M732.5 109v5M733.5 109v5M734.5 80v5M736.5 109v5M737.5 85v4M738.5 89v5M738.5 104v5M738.5 124v4M743.5 138v5M743.5 163v4M745.5 128v10M745.5 153v10M745.5 167v10"/><path stroke="#c0c000" d="M708.5 104v10M709.5 94v5M709.5 104v5M710.5 80v5M710.5 99v10M712.5 80v9M712.5 94v5M712.5 104v10M713.5 89v5M713.5 104v5M714.5 109v5M714.5 124v4M715.5 80v14M715.5 99v10M715.5 114v5M715.5 124v4M716.5 99v5M717.5 80v9M718.5 94v10M719.5 85v9M721.5 80v9M721.5 104v10M722.5 80v5M722.5 163v4M723.5 80v5M723.5 94v5M725.5 104v10M726.5 80v5M726.5 99v5M726.5 114v5M727.5 85v4M728.5 80v5M728.5 94v5M729.5 80v5M729.5 104v5M730.5 80v9M730.5 109v5M731.5 85v4M731.5 104v5M732.5 89v10M732.5 104v5M733.5 85v4M733.5 99v10M734.5 85v9M734.5 99v5M734.5 109v5M735.5 104v5M736.5 80v9M736.5 99v10M736.5 124v4M737.5 89v20M738.5 94v5M738.5 109v5M742.5 158v5M743.5 133v5M743.5 143v10M745.5 143v5M745.5 163v4M747.5 128v5M747.5 158v5M749.5 133v5M750.5 153v5"/><path stroke="#f0f000" d="M709.5 99v5M711.5 85v4M714.5 104v5M719.5 80v5M723.5 99v5M723.5 124v4M725.5 99v5M726.5 89v5M728.5 104v5M729.5 89v5M731.5 80v5M731.5 89v5M732.5 80v5M733.5 89v10M738.5 80v9M738.5 99v5M745.5 138v5M745.5 148v5"/><path stroke="#787818" d="M710.5 124v4M716.5 114v5"/><path stroke="#a89030" d="M711.5 119v5M749.5 128v5"/><path stroke="#c09048" d="M711.5 124v4M735.5 124v4"/><path stroke="#909018" d="M712.5 114v5"/><path stroke="#d89030" d="M712.5 167v5"/><path stroke="#c0a830" d="M713.5 163v4M747.5 148v5"/><path stroke="#c09030" d="M713.5 167v5M728.5 124v4M729.5 124v4M740.5 128v5M747.5 153v5M747.5 172v5M748.5 128v5M748.5 138v5M748.5 167v5"/><path stroke="#786000" d="M718.5 114v5M728.5 114v5"/><path stroke="#c0a818" d="M719.5 114v5"/><path stroke="#d8a830" d="M719.5 119v5"/><path stroke="#a87818" d="M723.5 163v4M738.5 172v5"/><path stroke="#c07848" d="M723.5 167v5M740.5 172v5M748.5 158v5"/><path stroke="#a84848" d="M733.5 163v4"/><path stroke="#f06090" d="M738.5 119v5"/><path stroke="#a89018" d="M738.5 163v4M747.5 138v5"/><path stroke="#a84878" d="M748.5 143v5"/><path stroke="#c04878" d="M748.5 148v5"/><path stroke="#f0a848" d="M748.5 163v4"/></g>
<rect x="707" y="31" width="1" height="146.2" fill="#e8e8e8"/>
<rect x="739" y="31" width="1" height="146.2" fill="#e8e8e8"/>
<text x="544.6" y="34.5" font-size="2.8" fill="#555" text-anchor="end">Cytip</text>
<text x="544.6" y="39.5" font-size="2.8" fill="#555" text-anchor="end">Cxcl2</text>
<text x="544.6" y="44.5" font-size="2.8" fill="#555" text-anchor="end">Il1b</text>
<text x="544.6" y="49" font-size="2.8" fill="#555" text-anchor="end">Lyz2</text>
<text x="544.6" y="53.5" font-size="2.8" fill="#555" text-anchor="end">Fcer1g</text>
<text x="544.6" y="58.5" font-size="2.8" fill="#555" text-anchor="end">Cd52</text>
<text x="544.6" y="63.5" font-size="2.8" fill="#555" text-anchor="end">Coro1a</text>
<text x="544.6" y="68.5" font-size="2.8" fill="#555" text-anchor="end">Srgn</text>
<text x="544.6" y="73.5" font-size="2.8" fill="#555" text-anchor="end">Cd74</text>
<text x="544.6" y="78.5" font-size="2.8" fill="#555" text-anchor="end">Ccl3</text>
<text x="544.6" y="83.5" font-size="2.8" fill="#555" text-anchor="end">Mmp2</text>
<text x="544.6" y="88" font-size="2.8" fill="#555" text-anchor="end">Dpt</text>
<text x="544.6" y="92.5" font-size="2.8" fill="#555" text-anchor="end">Dcn</text>
<text x="544.6" y="97.5" font-size="2.8" fill="#555" text-anchor="end">Lum</text>
<text x="544.6" y="102.5" font-size="2.8" fill="#555" text-anchor="end">Col1a1</text>
<text x="544.6" y="107.5" font-size="2.8" fill="#555" text-anchor="end">Col1a2</text>
<text x="544.6" y="112.5" font-size="2.8" fill="#555" text-anchor="end">Col3a1</text>
<text x="544.6" y="117.5" font-size="2.8" fill="#555" text-anchor="end">Mgp</text>
<text x="544.6" y="122.5" font-size="2.8" fill="#555" text-anchor="end">Mfap5</text>
<text x="544.6" y="127" font-size="2.8" fill="#555" text-anchor="end">Mfap4</text>
<text x="544.6" y="131.5" font-size="2.8" fill="#555" text-anchor="end">Rgs5</text>
<text x="544.6" y="136.5" font-size="2.8" fill="#555" text-anchor="end">Higd1b</text>
<text x="544.6" y="141.5" font-size="2.8" fill="#555" text-anchor="end">Kcnj8</text>
<text x="544.6" y="146.5" font-size="2.8" fill="#555" text-anchor="end">Ndufa4l2</text>
<text x="544.6" y="151.5" font-size="2.8" fill="#555" text-anchor="end">Notch3</text>
<text x="544.6" y="156.5" font-size="2.8" fill="#555" text-anchor="end">Myh11</text>
<text x="544.6" y="161.5" font-size="2.8" fill="#555" text-anchor="end">Tagln</text>
<text x="544.6" y="166" font-size="2.8" fill="#555" text-anchor="end">Acta2</text>
<text x="544.6" y="170.5" font-size="2.8" fill="#555" text-anchor="end">Myl9</text>
<text x="544.6" y="175.5" font-size="2.8" fill="#555" text-anchor="end">Tpm2</text>
<text x="755.3" y="81.2" font-size="2.8" fill="#333">Expression</text>
<defs><linearGradient id="gc" x1="0" y1="0" x2="0" y2="1"><stop offset="0" stop-color="#ffff00"/><stop offset="0.5" stop-color="#000"/><stop offset="1" stop-color="#ff00ff"/></linearGradient></defs>
<rect x="755.3" y="83.3" width="4.4" height="20.8" fill="url(#gc)"/>
<text x="761.5" y="86" font-size="2.2" fill="#555">2</text>
<text x="761.5" y="91.2" font-size="2.2" fill="#555">1</text>
<text x="761.5" y="96.4" font-size="2.2" fill="#555">0</text>
<text x="761.5" y="101.6" font-size="2.2" fill="#555">−1</text>
<text x="755.3" y="112" font-size="2.8" fill="#333">Identity</text>
<circle cx="756" cy="115.5" r="0.6" fill="#f8766d"/>
<text x="760" y="116.3" font-size="2.2" fill="#555" textLength="18" lengthAdjust="spacingAndGlyphs">Hematopoietic cells</text>
<circle cx="756" cy="119.6" r="0.6" fill="#00ba38"/>
<text x="760" y="120.4" font-size="2.2" fill="#555" textLength="18" lengthAdjust="spacingAndGlyphs">Fibroblasts cells</text>
<circle cx="756" cy="124" r="0.6" fill="#619cff"/>
<text x="760" y="124.8" font-size="2.2" fill="#555" textLength="18" lengthAdjust="spacingAndGlyphs">Perivascular cells</text>
<text x="532.6" y="291.5" font-size="18" fill="#000" textLength="15.2" lengthAdjust="spacingAndGlyphs">(f)</text>
<rect x="562" y="308.7" width="100.3" height="2.5" fill="#f8766d"/>
<rect x="663" y="308.7" width="44.8" height="2.5" fill="#7cae00"/>
<rect x="708.9" y="308.7" width="38.8" height="2.5" fill="#00bfc4"/>
<rect x="748.8" y="308.7" width="19.9" height="2.5" fill="#c77cff"/>
<g stroke-width="1" fill="none"><path stroke="#a8a800" d="M562.5 314v3M568.5 314v3M581.5 336v4M604.5 314v3M604.5 336v7M614.5 317v4M614.5 325v11M626.5 321v4M636.5 317v4M643.5 321v8M649.5 329v3M663.5 358v4M663.5 366v3M664.5 358v4M664.5 373v4M666.5 351v4M666.5 358v4M666.5 366v3M668.5 358v11M668.5 373v4M670.5 373v4M671.5 362v4M672.5 369v4M672.5 377v4M673.5 358v8M674.5 351v4M674.5 366v3M675.5 351v4M676.5 355v7M677.5 362v4M679.5 362v4M680.5 362v4M680.5 369v4M681.5 373v4M682.5 355v3M683.5 358v4M684.5 358v8M684.5 373v4M685.5 373v4M686.5 355v3M688.5 373v4M689.5 355v3M689.5 362v4M691.5 351v7M691.5 366v3M691.5 373v4M692.5 369v4M694.5 373v4M695.5 366v7M697.5 355v11M697.5 369v4M698.5 377v4M699.5 351v4M699.5 358v4M699.5 369v4M700.5 355v3M700.5 366v7M701.5 366v3M702.5 369v4M703.5 358v4M704.5 362v4M706.5 366v3M706.5 373v4M707.5 373v4M711.5 395v4M711.5 403v4M711.5 418v7M714.5 407v3M715.5 392v3M715.5 414v8M716.5 414v4M716.5 422v3M719.5 399v4M721.5 392v3M721.5 410v4M721.5 418v4M722.5 407v7M722.5 422v3M723.5 407v3M724.5 403v11M725.5 399v4M725.5 418v7M728.5 422v3M729.5 388v4M731.5 403v4M733.5 384v4M735.5 407v3M736.5 414v4M737.5 418v4M738.5 392v3M738.5 410v4M740.5 392v3M741.5 422v3M742.5 418v4M743.5 388v4M744.5 399v4M744.5 422v3M745.5 410v4M747.5 407v3M749.5 433v3M749.5 451v4M750.5 425v4M750.5 436v4M750.5 444v4M750.5 451v4M751.5 425v4M751.5 440v8M752.5 451v8M753.5 347v4M753.5 433v11M753.5 451v4M754.5 436v4M754.5 448v3M755.5 440v4M755.5 448v3M756.5 425v4M756.5 451v4M757.5 455v7M758.5 429v4M758.5 436v4M758.5 444v4M758.5 455v4M759.5 436v12M760.5 425v4M760.5 444v4M760.5 455v4M761.5 448v3M761.5 459v3M762.5 451v4M763.5 436v8M763.5 459v3M764.5 425v4M764.5 436v4M764.5 444v4M764.5 451v4M765.5 429v4M766.5 429v4M767.5 440v4M768.5 425v4M768.5 455v4"/><path stroke="#484800" d="M562.5 317v4M562.5 336v4M562.5 444v7M563.5 336v7M563.5 429v4M566.5 340v3M567.5 314v3M567.5 321v4M567.5 336v4M568.5 340v7M568.5 425v8M568.5 451v8M572.5 403v4M572.5 455v4M573.5 332v4M573.5 340v3M573.5 459v3M574.5 314v3M574.5 325v7M574.5 336v4M575.5 314v3M575.5 329v3M575.5 340v3M575.5 433v3M575.5 459v3M576.5 314v3M576.5 355v11M577.5 455v4M578.5 317v8M579.5 329v3M579.5 451v4M580.5 347v4M580.5 459v3M582.5 362v4M582.5 399v4M584.5 332v11M586.5 321v4M586.5 329v7M586.5 451v4M587.5 317v4M587.5 329v3M587.5 336v4M588.5 314v3M588.5 321v4M588.5 332v4M588.5 343v4M589.5 314v7M589.5 329v3M589.5 414v4M591.5 410v4M592.5 336v4M593.5 362v4M595.5 325v4M595.5 355v3M595.5 436v4M595.5 448v3M596.5 317v8M596.5 340v3M597.5 314v3M597.5 448v3M597.5 459v3M598.5 325v4M599.5 321v4M600.5 314v3M601.5 451v4M604.5 343v4M605.5 444v4M605.5 459v3M606.5 321v8M607.5 377v4M608.5 329v3M608.5 340v3M608.5 347v4M609.5 332v4M611.5 317v4M611.5 444v4M615.5 340v3M616.5 321v4M616.5 332v4M616.5 340v3M616.5 377v4M616.5 384v4M616.5 392v3M616.5 399v8M616.5 410v4M619.5 325v11M621.5 332v4M621.5 381v3M621.5 444v4M621.5 451v8M624.5 340v7M624.5 355v7M624.5 377v4M624.5 455v4M625.5 317v4M626.5 329v3M627.5 317v4M627.5 325v4M627.5 336v4M628.5 321v8M628.5 343v4M629.5 332v4M629.5 388v4M629.5 455v4M630.5 399v4M630.5 407v3M630.5 459v3M631.5 395v4M631.5 407v3M632.5 317v4M632.5 381v3M632.5 455v4M633.5 388v4M633.5 395v4M633.5 418v4M633.5 436v4M633.5 459v3M634.5 314v3M634.5 347v4M635.5 332v4M637.5 317v4M637.5 336v7M639.5 448v11M641.5 418v4M644.5 329v3M644.5 340v3M644.5 347v4M645.5 321v4M645.5 336v4M646.5 321v4M648.5 317v4M648.5 325v4M648.5 347v4M649.5 343v4M649.5 451v4M651.5 451v4M651.5 459v3M652.5 340v3M653.5 343v4M654.5 329v3M654.5 381v3M654.5 455v7M655.5 321v4M657.5 340v3M657.5 451v4M658.5 340v3M659.5 384v4M661.5 325v4M661.5 414v4M663.5 384v4M664.5 366v3M666.5 384v4M667.5 381v3M669.5 351v7M669.5 362v4M678.5 377v7M678.5 392v3M684.5 325v4M684.5 377v4M685.5 362v4M686.5 351v4M690.5 351v4M690.5 362v4M692.5 358v4M693.5 355v3M693.5 362v7M694.5 429v4M697.5 384v4M697.5 410v4M698.5 392v3M698.5 399v4M703.5 355v3M705.5 381v7M706.5 384v4M707.5 381v3M710.5 422v3M712.5 388v11M713.5 351v4M714.5 384v4M714.5 403v4M715.5 381v3M717.5 407v3M718.5 362v4M718.5 381v7M718.5 403v7M718.5 414v8M719.5 362v4M722.5 362v4M722.5 395v4M723.5 362v4M723.5 384v4M725.5 362v4M725.5 373v4M725.5 395v4M725.5 407v3M726.5 392v3M726.5 403v7M727.5 403v4M730.5 395v4M731.5 366v7M731.5 381v3M731.5 392v3M732.5 399v8M732.5 418v7M733.5 377v4M733.5 403v4M734.5 366v3M734.5 392v3M734.5 414v4M735.5 418v4M736.5 369v4M736.5 384v4M738.5 366v3M739.5 395v4M740.5 351v4M740.5 369v4M740.5 377v4M741.5 355v3M741.5 362v7M741.5 377v7M741.5 392v3M743.5 392v3M743.5 410v4M744.5 373v4M744.5 381v7M744.5 392v3M744.5 418v4M745.5 403v4M745.5 414v4M746.5 399v4M747.5 373v4M750.5 429v4M753.5 329v3M753.5 343v4M755.5 459v3M756.5 329v3M756.5 340v3M756.5 448v3M759.5 429v4M759.5 448v3M762.5 429v4M762.5 436v4M764.5 314v3M764.5 343v4M766.5 317v8M768.5 347v4"/><path stroke="#603018" d="M562.5 321v4M569.5 373v4M574.5 455v4M578.5 388v4M581.5 444v4M586.5 325v4M593.5 399v4M594.5 451v4M602.5 410v4M610.5 433v3M621.5 414v4M656.5 392v3M660.5 329v3M661.5 340v3M664.5 395v4M668.5 325v4M670.5 403v4M671.5 381v3M674.5 377v4M678.5 399v4M697.5 336v4M701.5 414v4M729.5 384v4M732.5 355v3M732.5 373v4M742.5 459v3M747.5 455v4"/><path stroke="#481830" d="M562.5 325v4M562.5 355v3M563.5 414v4M564.5 377v4M565.5 366v3M565.5 448v3M566.5 343v4M566.5 369v4M566.5 448v3M567.5 373v4M568.5 358v4M568.5 373v4M569.5 422v3M569.5 455v4M570.5 321v4M571.5 321v8M571.5 336v4M572.5 414v4M572.5 422v3M573.5 366v3M573.5 407v3M574.5 414v8M575.5 343v4M575.5 369v4M575.5 407v3M575.5 414v4M576.5 317v4M576.5 395v4M578.5 399v4M580.5 392v3M580.5 407v3M580.5 433v3M583.5 358v4M583.5 369v4M583.5 403v4M583.5 414v4M584.5 388v4M584.5 455v4M585.5 451v4M586.5 418v4M587.5 399v4M588.5 369v4M588.5 403v7M589.5 358v4M590.5 395v4M591.5 358v4M591.5 373v4M591.5 436v4M592.5 448v7M593.5 340v3M594.5 362v4M594.5 395v8M595.5 347v4M595.5 366v3M596.5 403v4M596.5 410v4M596.5 448v3M598.5 407v3M598.5 414v4M598.5 422v3M599.5 399v4M599.5 418v4M600.5 448v3M601.5 317v4M601.5 325v4M601.5 366v3M602.5 407v3M603.5 317v4M604.5 399v4M606.5 407v3M607.5 399v4M607.5 418v4M608.5 392v3M608.5 399v4M609.5 377v4M609.5 403v4M610.5 340v3M610.5 388v7M610.5 399v8M610.5 414v4M610.5 444v4M611.5 355v3M611.5 414v4M612.5 362v4M613.5 455v4M614.5 388v4M614.5 414v11M615.5 410v4M616.5 366v3M616.5 436v4M617.5 340v3M617.5 448v3M618.5 317v4M618.5 410v4M618.5 425v4M618.5 436v8M619.5 414v4M620.5 329v3M620.5 388v4M622.5 448v3M623.5 325v4M623.5 414v4M624.5 325v4M624.5 347v4M625.5 381v3M626.5 355v7M627.5 362v4M627.5 392v7M628.5 422v3M629.5 395v4M630.5 381v3M631.5 325v7M631.5 347v4M633.5 336v4M634.5 377v4M636.5 455v4M637.5 407v3M637.5 422v3M638.5 362v4M638.5 388v7M638.5 403v4M638.5 410v8M641.5 366v3M642.5 407v7M644.5 403v7M645.5 418v7M646.5 347v4M646.5 410v4M648.5 422v3M649.5 440v4M650.5 362v4M650.5 395v4M652.5 407v3M652.5 448v3M652.5 455v4M653.5 358v4M653.5 410v4M653.5 444v4M654.5 358v4M655.5 440v4M656.5 418v4M656.5 444v4M657.5 325v4M658.5 403v4M658.5 451v4M659.5 392v3M660.5 343v4M660.5 436v4M660.5 444v4M661.5 343v4M661.5 451v4M663.5 422v3M665.5 384v4M666.5 392v3M666.5 451v4M667.5 410v4M668.5 317v4M668.5 444v4M669.5 388v7M669.5 399v4M669.5 410v4M669.5 440v4M670.5 384v4M671.5 317v4M671.5 329v3M671.5 340v3M671.5 459v3M672.5 403v4M673.5 325v15M673.5 343v4M673.5 433v3M673.5 440v4M673.5 459v3M674.5 314v3M674.5 336v4M675.5 407v3M676.5 347v4M676.5 377v4M677.5 314v3M677.5 321v4M677.5 347v4M678.5 325v4M679.5 392v3M680.5 392v3M681.5 407v3M682.5 340v3M682.5 448v3M685.5 381v3M686.5 384v4M686.5 407v3M687.5 388v4M689.5 388v4M689.5 414v4M690.5 325v4M691.5 325v4M691.5 392v3M691.5 407v3M693.5 395v8M693.5 410v4M694.5 388v4M694.5 418v4M694.5 425v4M694.5 459v3M695.5 329v3M695.5 418v4M695.5 451v4M696.5 381v3M697.5 388v4M697.5 414v4M698.5 459v3M699.5 436v4M700.5 455v4M701.5 392v3M701.5 410v4M703.5 388v4M703.5 451v4M704.5 332v4M706.5 388v4M707.5 325v4M709.5 384v4M710.5 317v4M710.5 332v4M710.5 340v3M711.5 336v4M711.5 373v8M714.5 366v3M716.5 325v4M716.5 336v4M717.5 369v8M719.5 381v3M721.5 444v4M722.5 369v4M724.5 329v3M724.5 381v3M725.5 351v4M725.5 366v3M725.5 381v3M728.5 355v7M728.5 381v3M731.5 329v3M731.5 448v3M732.5 448v3M732.5 455v4M733.5 340v3M734.5 358v4M736.5 321v4M736.5 429v4M738.5 332v4M741.5 343v4M743.5 425v4M743.5 433v3M744.5 355v3M745.5 377v7M746.5 381v3M747.5 347v4M750.5 340v3M751.5 347v4M755.5 314v3M755.5 329v3M757.5 321v4M758.5 336v4M759.5 418v4M761.5 317v4M761.5 325v4M761.5 418v4M762.5 332v4M763.5 336v4M765.5 329v3M768.5 340v3"/><path stroke="#484818" d="M562.5 329v3M563.5 321v4M566.5 321v4M570.5 436v4M571.5 451v4M575.5 436v4M575.5 451v4M580.5 410v4M583.5 340v3M583.5 436v4M583.5 448v3M583.5 455v4M585.5 369v4M590.5 321v8M594.5 317v4M597.5 429v4M601.5 459v3M605.5 392v3M605.5 440v4M606.5 340v3M611.5 325v4M628.5 355v3M630.5 395v4M630.5 422v3M634.5 329v3M641.5 459v3M646.5 314v3M647.5 451v4M650.5 332v4M654.5 321v4M657.5 336v4M670.5 351v4M699.5 384v4M704.5 384v4M715.5 373v4M722.5 355v3M726.5 358v4M738.5 355v3M746.5 392v3M747.5 362v4M761.5 332v4M767.5 325v4"/><path stroke="#303000" d="M562.5 332v4M562.5 340v3M563.5 425v4M565.5 355v3M565.5 410v4M567.5 340v3M567.5 377v4M567.5 459v3M568.5 332v4M569.5 355v3M570.5 455v4M571.5 455v4M572.5 381v3M572.5 388v4M572.5 410v4M572.5 448v3M572.5 459v3M573.5 325v4M573.5 343v4M573.5 455v4M574.5 317v4M574.5 332v4M574.5 451v4M575.5 317v4M575.5 429v4M575.5 455v4M576.5 340v3M576.5 384v4M576.5 459v3M577.5 436v4M577.5 444v4M578.5 325v4M578.5 444v4M579.5 314v3M580.5 362v4M581.5 347v4M582.5 332v4M582.5 384v4M582.5 436v4M582.5 448v3M582.5 455v7M585.5 314v3M585.5 358v4M585.5 455v4M586.5 347v4M586.5 444v4M586.5 455v4M587.5 321v4M587.5 340v3M588.5 329v3M589.5 336v4M589.5 422v3M591.5 407v3M592.5 317v4M593.5 314v3M593.5 336v4M594.5 444v4M595.5 340v3M596.5 332v8M597.5 332v8M597.5 347v4M597.5 425v4M597.5 436v4M598.5 355v11M598.5 377v4M598.5 459v3M601.5 355v3M601.5 362v4M601.5 377v4M601.5 448v3M601.5 455v4M602.5 347v4M602.5 395v4M602.5 436v8M604.5 347v4M604.5 358v4M605.5 418v4M606.5 429v4M606.5 440v4M607.5 355v3M607.5 444v4M608.5 317v4M608.5 343v4M608.5 355v7M608.5 436v4M608.5 448v3M608.5 459v3M611.5 329v3M611.5 451v11M612.5 317v4M612.5 325v4M612.5 336v4M612.5 377v4M612.5 384v4M612.5 455v4M613.5 388v4M613.5 414v4M614.5 459v3M615.5 329v3M615.5 347v4M616.5 314v3M616.5 355v7M616.5 395v4M616.5 418v7M618.5 455v4M619.5 343v4M619.5 410v4M620.5 455v7M621.5 355v7M621.5 418v4M621.5 459v3M622.5 388v4M624.5 362v4M624.5 373v4M624.5 384v4M625.5 347v4M625.5 455v4M627.5 321v4M627.5 329v3M627.5 399v4M628.5 329v3M628.5 347v4M628.5 429v4M628.5 459v3M629.5 329v3M629.5 336v4M629.5 343v4M629.5 429v4M629.5 448v3M630.5 410v4M630.5 455v4M631.5 362v4M631.5 392v3M631.5 414v4M631.5 455v7M632.5 355v11M632.5 384v4M633.5 314v3M633.5 407v3M633.5 425v4M633.5 448v3M633.5 455v4M634.5 321v4M636.5 355v3M637.5 329v3M638.5 317v8M638.5 332v4M638.5 347v4M639.5 314v3M639.5 436v12M640.5 425v4M640.5 436v8M640.5 448v3M641.5 381v7M641.5 392v3M642.5 340v3M643.5 343v8M644.5 317v4M644.5 343v4M644.5 451v4M645.5 317v4M645.5 325v7M646.5 448v3M647.5 403v4M647.5 436v4M647.5 455v4M648.5 399v4M648.5 410v4M649.5 455v4M650.5 314v7M651.5 448v3M652.5 317v8M652.5 336v4M652.5 343v8M654.5 414v4M657.5 321v4M657.5 332v4M657.5 444v4M658.5 369v4M658.5 377v4M659.5 358v4M659.5 369v4M660.5 336v7M664.5 351v4M666.5 377v4M666.5 433v3M669.5 325v4M669.5 369v4M671.5 377v4M672.5 433v3M673.5 381v3M677.5 433v3M677.5 440v4M678.5 388v4M678.5 410v4M680.5 377v4M681.5 332v4M681.5 347v4M682.5 325v4M683.5 433v3M683.5 459v3M684.5 329v3M685.5 369v4M685.5 384v4M690.5 358v4M691.5 381v3M692.5 325v7M692.5 351v4M694.5 377v4M697.5 329v3M697.5 347v4M697.5 381v3M702.5 381v7M704.5 407v3M709.5 351v4M710.5 395v4M710.5 414v4M712.5 362v4M712.5 384v4M712.5 407v3M713.5 362v4M715.5 377v4M716.5 440v4M718.5 373v4M719.5 384v4M720.5 384v4M722.5 351v4M723.5 351v7M723.5 366v7M726.5 355v3M726.5 395v4M727.5 373v4M727.5 395v4M728.5 444v4M729.5 392v3M730.5 351v4M730.5 362v4M730.5 373v4M731.5 355v3M731.5 373v8M732.5 395v4M733.5 314v3M733.5 325v4M734.5 362v4M735.5 362v4M736.5 366v3M736.5 373v4M736.5 381v3M736.5 444v4M737.5 407v3M738.5 377v4M739.5 358v4M739.5 366v3M739.5 384v4M739.5 399v4M741.5 358v4M741.5 407v3M742.5 448v3M745.5 392v3M746.5 444v4M747.5 369v4M747.5 444v4M752.5 329v7M756.5 332v8M768.5 317v4M768.5 336v4"/><path stroke="#180018" d="M562.5 343v4M562.5 384v8M562.5 399v8M562.5 425v4M562.5 440v4M563.5 362v4M563.5 369v4M563.5 407v3M564.5 351v7M564.5 448v7M565.5 377v4M565.5 425v8M565.5 440v4M566.5 351v4M566.5 436v8M566.5 451v4M567.5 425v4M567.5 433v3M568.5 351v4M569.5 351v4M569.5 436v8M569.5 451v4M570.5 369v8M570.5 388v4M571.5 340v3M572.5 325v4M572.5 340v3M572.5 377v4M572.5 418v4M572.5 425v4M572.5 433v3M573.5 377v7M573.5 410v4M573.5 433v3M573.5 440v4M573.5 448v7M574.5 377v11M574.5 429v4M574.5 436v4M575.5 377v7M576.5 377v4M576.5 407v7M577.5 362v4M577.5 369v4M577.5 384v4M577.5 410v8M577.5 422v3M578.5 347v4M578.5 407v3M578.5 433v3M578.5 448v3M579.5 373v8M579.5 403v4M579.5 418v4M579.5 440v4M580.5 425v4M580.5 455v4M581.5 373v11M582.5 366v3M582.5 373v4M582.5 433v3M583.5 377v7M584.5 358v4M584.5 377v7M584.5 410v8M584.5 425v4M585.5 317v4M585.5 347v4M585.5 425v4M585.5 433v7M586.5 362v7M586.5 425v4M586.5 433v7M587.5 358v4M587.5 384v4M588.5 362v4M588.5 377v4M588.5 384v4M588.5 429v4M589.5 347v4M589.5 369v8M589.5 384v4M589.5 425v8M589.5 436v4M589.5 444v4M589.5 459v3M590.5 355v3M590.5 369v4M590.5 384v4M591.5 388v4M591.5 418v4M592.5 444v4M592.5 455v4M593.5 366v3M593.5 373v4M593.5 407v3M593.5 425v4M593.5 433v3M594.5 336v4M594.5 425v4M594.5 440v4M595.5 399v4M595.5 418v4M595.5 429v4M596.5 351v4M596.5 358v4M596.5 425v8M597.5 355v11M597.5 384v4M597.5 403v4M598.5 429v4M598.5 436v8M598.5 451v4M599.5 384v11M599.5 429v4M599.5 440v4M600.5 347v8M600.5 358v8M600.5 381v3M601.5 384v4M601.5 444v4M602.5 358v4M602.5 384v4M602.5 433v3M603.5 358v8M603.5 377v4M603.5 436v4M604.5 373v4M604.5 395v4M604.5 436v4M605.5 351v11M605.5 381v3M606.5 362v4M607.5 425v4M607.5 433v3M608.5 366v3M608.5 373v4M608.5 384v4M608.5 451v4M609.5 358v4M609.5 429v7M610.5 355v7M610.5 377v4M610.5 384v4M611.5 351v4M611.5 358v4M611.5 377v4M612.5 369v4M612.5 425v19M613.5 358v8M613.5 377v4M613.5 399v4M613.5 425v11M613.5 440v4M613.5 448v3M614.5 369v4M614.5 377v4M614.5 425v11M614.5 440v4M614.5 455v4M615.5 355v3M615.5 425v4M615.5 440v4M615.5 451v4M616.5 347v4M616.5 373v4M616.5 381v3M617.5 314v3M617.5 369v8M617.5 381v3M617.5 425v4M618.5 329v3M618.5 351v4M618.5 358v4M618.5 433v3M619.5 351v4M619.5 362v4M619.5 399v4M619.5 433v3M620.5 336v4M620.5 358v4M620.5 392v3M620.5 433v3M620.5 440v4M621.5 366v3M621.5 392v3M621.5 429v4M621.5 436v4M622.5 362v7M622.5 381v3M622.5 399v4M622.5 407v3M622.5 422v3M622.5 429v4M622.5 459v3M623.5 351v4M623.5 410v4M623.5 448v3M624.5 366v3M624.5 436v4M625.5 358v4M625.5 377v4M625.5 403v4M625.5 410v4M625.5 422v3M625.5 436v4M626.5 414v4M626.5 436v4M626.5 448v3M627.5 369v4M627.5 381v3M627.5 414v8M627.5 433v3M627.5 440v4M627.5 448v3M627.5 459v3M628.5 362v4M628.5 388v4M628.5 425v4M628.5 440v8M629.5 347v4M630.5 403v4M630.5 425v4M630.5 436v4M631.5 425v4M632.5 373v4M632.5 392v7M632.5 414v11M632.5 433v3M632.5 451v4M632.5 459v3M633.5 332v4M633.5 358v8M633.5 373v4M633.5 381v3M634.5 362v4M634.5 369v4M634.5 381v7M634.5 425v4M634.5 433v3M635.5 366v11M635.5 410v8M635.5 433v3M635.5 440v4M636.5 388v4M636.5 425v4M636.5 436v8M636.5 451v4M637.5 355v3M637.5 369v4M637.5 377v4M637.5 436v8M639.5 362v4M639.5 369v4M639.5 377v4M639.5 384v4M639.5 407v3M639.5 414v4M640.5 362v4M641.5 329v3M641.5 336v4M641.5 440v4M642.5 425v8M642.5 436v4M642.5 444v4M642.5 451v4M643.5 351v7M643.5 362v4M643.5 384v4M644.5 369v4M644.5 418v7M645.5 358v8M645.5 369v4M645.5 377v11M645.5 425v8M645.5 436v4M645.5 455v4M646.5 355v3M647.5 336v4M647.5 369v12M647.5 384v4M647.5 410v4M648.5 358v8M648.5 377v11M649.5 355v3M649.5 373v4M649.5 384v4M650.5 351v4M650.5 358v4M650.5 407v3M650.5 433v3M651.5 384v4M651.5 425v8M651.5 444v4M652.5 355v11M653.5 362v4M653.5 377v4M653.5 384v4M653.5 418v4M653.5 436v4M653.5 459v3M654.5 351v4M654.5 395v4M654.5 410v4M655.5 347v4M655.5 355v3M655.5 384v11M655.5 429v4M655.5 436v4M656.5 369v4M656.5 429v4M656.5 451v4M657.5 343v4M657.5 381v3M658.5 351v4M658.5 392v3M658.5 407v3M658.5 433v3M659.5 355v3M659.5 388v4M659.5 403v7M659.5 425v4M659.5 436v4M659.5 448v3M660.5 366v3M660.5 403v4M660.5 410v4M660.5 418v7M661.5 369v4M661.5 407v7M661.5 418v7M661.5 429v4M661.5 436v4M663.5 433v3M664.5 429v4M664.5 440v8M664.5 459v3M665.5 325v4M665.5 392v3M666.5 325v4M666.5 448v3M668.5 440v4M668.5 459v3M669.5 343v4M669.5 422v3M670.5 321v4M670.5 329v3M670.5 343v4M670.5 433v3M670.5 444v4M671.5 429v4M671.5 436v4M671.5 444v4M671.5 451v4M672.5 410v8M672.5 429v4M672.5 448v7M673.5 395v4M673.5 414v4M674.5 384v4M674.5 414v4M674.5 429v4M674.5 436v4M674.5 444v4M674.5 451v4M674.5 459v3M675.5 433v3M675.5 440v4M676.5 407v3M676.5 422v3M676.5 433v3M676.5 444v7M677.5 329v3M678.5 395v4M678.5 433v7M678.5 451v4M678.5 459v3M680.5 325v4M680.5 433v3M683.5 444v4M683.5 455v4M684.5 317v4M684.5 332v4M684.5 340v3M684.5 433v3M684.5 440v8M685.5 429v4M685.5 440v8M686.5 429v4M686.5 440v4M687.5 336v4M689.5 433v3M689.5 440v4M690.5 388v15M690.5 436v4M690.5 444v4M690.5 451v4M691.5 332v4M691.5 433v3M691.5 440v4M692.5 336v7M692.5 347v4M692.5 429v4M692.5 436v4M693.5 414v4M695.5 388v4M695.5 433v15M696.5 429v4M696.5 444v4M696.5 459v3M697.5 317v4M697.5 399v4M697.5 429v4M697.5 436v4M697.5 448v3M698.5 325v4M699.5 321v4M699.5 444v4M700.5 436v8M701.5 429v4M702.5 388v4M702.5 440v4M703.5 436v4M703.5 459v3M704.5 403v4M704.5 410v4M705.5 395v4M705.5 410v4M705.5 418v4M705.5 440v8M706.5 436v12M707.5 444v4M709.5 433v3M710.5 329v3M710.5 436v4M710.5 451v4M710.5 459v3M711.5 325v4M711.5 332v4M711.5 351v4M711.5 436v4M711.5 444v4M712.5 351v4M712.5 358v4M712.5 444v4M714.5 425v4M714.5 433v15M714.5 451v4M715.5 347v4M715.5 436v4M715.5 451v4M716.5 366v3M716.5 373v4M716.5 381v3M716.5 433v3M717.5 436v4M717.5 444v4M718.5 429v15M718.5 451v4M719.5 444v4M720.5 429v7M720.5 451v8M721.5 436v4M721.5 451v4M722.5 425v4M722.5 433v3M722.5 455v4M723.5 336v4M723.5 436v4M723.5 444v4M723.5 455v7M724.5 317v4M724.5 340v3M724.5 362v4M724.5 425v4M724.5 444v4M725.5 358v4M725.5 440v4M726.5 429v4M726.5 440v4M726.5 448v3M727.5 329v3M727.5 384v4M728.5 429v7M729.5 433v3M729.5 440v4M730.5 425v4M730.5 433v3M730.5 440v4M730.5 459v3M731.5 444v4M732.5 366v3M732.5 433v3M732.5 440v4M732.5 451v4M733.5 448v3M734.5 433v3M734.5 451v4M735.5 436v8M736.5 325v4M736.5 336v4M736.5 355v3M736.5 425v4M737.5 436v8M737.5 451v4M737.5 459v3M738.5 329v3M738.5 455v4M739.5 329v3M739.5 351v4M739.5 436v8M740.5 433v7M740.5 451v4M741.5 429v4M741.5 459v3M742.5 436v4M742.5 444v4M743.5 440v4M743.5 451v4M744.5 444v4M745.5 325v7M745.5 351v4M746.5 351v4M746.5 425v8M746.5 448v11M747.5 429v15M747.5 451v4M749.5 369v4M750.5 377v4M751.5 369v4M752.5 343v4M752.5 366v3M753.5 369v4M754.5 347v4M756.5 347v4M756.5 358v4M756.5 366v3M756.5 381v3M757.5 362v4M758.5 362v4M760.5 340v7M760.5 358v4M760.5 366v3M760.5 381v3M760.5 403v4M761.5 340v3M762.5 381v3M763.5 362v7M764.5 351v4M765.5 369v4M768.5 351v4M768.5 366v3M768.5 377v4"/><path stroke="#301800" d="M562.5 347v4M564.5 429v4M567.5 347v4M571.5 355v3M572.5 355v3M574.5 407v3M575.5 448v3M576.5 451v4M578.5 340v3M581.5 366v3M582.5 392v3M584.5 317v4M585.5 355v3M585.5 377v4M586.5 459v3M591.5 399v4M594.5 388v4M594.5 436v4M599.5 343v4M601.5 436v4M607.5 459v3M608.5 362v4M609.5 355v3M609.5 425v4M612.5 355v7M612.5 459v3M614.5 436v4M615.5 448v3M618.5 377v4M620.5 429v4M627.5 343v4M629.5 410v4M635.5 388v4M641.5 355v3M641.5 373v4M642.5 381v7M646.5 336v4M647.5 340v3M648.5 369v4M648.5 388v4M648.5 455v4M650.5 414v4M650.5 448v3M658.5 321v4M658.5 343v4M658.5 448v3M659.5 451v4M660.5 384v4M661.5 425v4M666.5 440v4M670.5 325v4M677.5 444v4M678.5 422v3M681.5 329v3M692.5 377v4M697.5 407v3M701.5 422v3M704.5 414v4M706.5 414v4M715.5 355v3M723.5 440v4M730.5 355v3M734.5 444v4M738.5 351v4M742.5 347v4M744.5 377v4M747.5 377v4M752.5 347v4M768.5 329v3"/><path stroke="#000000" d="M562.5 351v4M562.5 436v4M563.5 351v7M563.5 384v4M567.5 351v4M567.5 436v4M568.5 407v3M571.5 351v4M571.5 369v4M572.5 369v4M572.5 429v4M573.5 358v4M574.5 351v4M576.5 332v4M576.5 425v4M577.5 351v4M578.5 351v4M578.5 403v4M579.5 388v4M580.5 351v4M584.5 351v4M585.5 381v3M586.5 351v4M587.5 351v4M588.5 351v4M590.5 351v4M593.5 377v7M594.5 351v4M597.5 351v4M598.5 425v4M599.5 351v4M601.5 351v4M602.5 351v4M603.5 351v4M604.5 351v4M607.5 351v4M607.5 440v4M609.5 351v4M610.5 351v4M612.5 351v4M613.5 351v4M614.5 384v4M615.5 351v4M615.5 429v4M616.5 351v4M617.5 351v4M618.5 321v4M619.5 388v4M620.5 351v4M621.5 351v4M622.5 351v4M622.5 377v4M624.5 351v4M625.5 351v4M628.5 351v4M629.5 351v4M629.5 358v4M629.5 414v4M629.5 436v4M630.5 351v4M631.5 351v4M631.5 440v4M632.5 399v4M633.5 351v4M634.5 351v4M635.5 351v4M635.5 377v4M637.5 351v4M638.5 351v4M640.5 314v3M640.5 429v4M642.5 351v4M645.5 355v3M648.5 351v4M649.5 377v7M649.5 429v4M651.5 351v4M654.5 422v3M655.5 329v3M655.5 351v4M657.5 351v4M657.5 384v4M658.5 429v4M659.5 351v4M660.5 351v4M661.5 351v4M672.5 440v8M676.5 410v4M677.5 429v4M677.5 459v3M681.5 433v3M681.5 440v4M682.5 433v3M683.5 436v4M684.5 314v3M692.5 444v4M696.5 436v4M700.5 433v3M701.5 433v3M706.5 433v3M714.5 358v4M720.5 425v4M720.5 440v4M724.5 347v4M730.5 444v4M732.5 436v4M735.5 425v4M738.5 373v4M738.5 429v4M738.5 451v4M741.5 444v4M742.5 440v4M745.5 444v4M752.5 362v4"/><path stroke="#300030" d="M562.5 358v4M562.5 373v4M562.5 381v3M562.5 392v3M562.5 410v4M562.5 418v4M562.5 433v3M563.5 373v4M563.5 381v3M563.5 388v4M563.5 403v4M563.5 422v3M563.5 433v3M563.5 451v4M564.5 358v4M564.5 373v4M564.5 384v4M564.5 403v4M564.5 414v4M564.5 433v3M564.5 440v4M565.5 369v4M565.5 392v3M565.5 407v3M565.5 414v4M565.5 422v3M565.5 433v7M566.5 377v4M566.5 403v4M566.5 414v4M566.5 425v8M566.5 444v4M566.5 455v4M568.5 362v4M568.5 369v4M568.5 377v11M568.5 399v4M569.5 358v4M569.5 381v3M569.5 425v4M569.5 433v3M570.5 366v3M570.5 399v4M570.5 410v4M571.5 332v4M571.5 347v4M571.5 418v4M571.5 433v15M572.5 329v3M572.5 440v4M573.5 369v4M573.5 388v15M573.5 414v4M573.5 422v3M574.5 347v4M574.5 373v4M575.5 373v4M576.5 329v3M576.5 343v4M576.5 369v4M576.5 392v3M576.5 399v4M576.5 418v7M576.5 433v3M576.5 440v4M577.5 381v3M577.5 392v3M577.5 407v3M578.5 369v8M578.5 440v4M578.5 451v4M579.5 395v4M579.5 407v3M579.5 414v4M580.5 373v4M580.5 414v4M581.5 362v4M581.5 399v8M581.5 418v4M581.5 440v4M582.5 410v4M583.5 373v4M584.5 418v4M584.5 429v4M584.5 436v8M584.5 448v7M585.5 329v3M585.5 343v4M585.5 395v4M585.5 410v4M586.5 369v8M586.5 414v4M587.5 381v3M587.5 425v8M587.5 444v4M587.5 455v4M588.5 358v4M588.5 366v3M588.5 373v4M588.5 381v3M588.5 388v4M588.5 410v4M588.5 418v4M588.5 433v3M588.5 451v4M589.5 366v3M590.5 366v3M590.5 373v11M590.5 451v4M591.5 377v4M591.5 392v3M591.5 425v4M591.5 433v3M591.5 455v4M592.5 343v4M592.5 362v4M592.5 377v11M592.5 425v8M592.5 436v8M593.5 317v8M593.5 329v7M593.5 343v4M593.5 369v4M593.5 422v3M593.5 440v4M593.5 448v3M594.5 343v4M594.5 377v4M595.5 388v4M595.5 410v4M595.5 451v4M596.5 347v4M596.5 381v3M596.5 407v3M596.5 433v7M597.5 366v18M597.5 388v4M597.5 395v4M597.5 407v18M597.5 433v3M598.5 366v3M598.5 433v3M599.5 425v4M599.5 433v7M600.5 373v4M600.5 388v4M600.5 425v11M600.5 440v4M600.5 455v4M601.5 388v4M602.5 362v4M602.5 373v8M602.5 448v3M603.5 332v4M603.5 343v4M603.5 369v8M603.5 381v3M604.5 381v3M604.5 388v4M604.5 425v4M604.5 444v7M605.5 362v4M605.5 373v8M605.5 384v4M606.5 355v3M606.5 377v4M606.5 388v4M606.5 410v4M607.5 369v4M608.5 388v4M608.5 395v4M608.5 410v8M609.5 384v4M609.5 436v4M610.5 321v4M610.5 362v4M610.5 369v4M610.5 381v3M611.5 369v8M611.5 384v4M611.5 392v3M612.5 392v3M612.5 451v4M613.5 347v4M613.5 369v8M613.5 381v3M614.5 362v7M614.5 373v4M614.5 399v4M614.5 410v4M614.5 448v3M615.5 384v4M615.5 459v3M616.5 425v4M617.5 329v7M617.5 355v3M617.5 414v8M617.5 436v12M618.5 343v4M618.5 355v3M618.5 373v4M618.5 414v4M618.5 429v4M619.5 358v4M619.5 373v8M619.5 440v4M620.5 340v3M620.5 355v3M620.5 384v4M620.5 414v8M621.5 369v4M621.5 399v4M621.5 425v4M622.5 373v4M622.5 425v4M622.5 433v11M622.5 451v4M623.5 358v8M623.5 377v4M623.5 418v4M623.5 433v3M624.5 433v3M624.5 440v4M625.5 362v4M625.5 373v4M625.5 388v4M625.5 418v4M625.5 433v3M626.5 410v4M626.5 425v8M626.5 440v4M626.5 451v8M627.5 377v4M627.5 429v4M628.5 381v3M628.5 395v4M630.5 358v4M631.5 433v3M631.5 444v4M632.5 407v3M632.5 440v11M633.5 384v4M634.5 373v4M634.5 388v4M634.5 440v4M635.5 392v3M635.5 399v4M635.5 422v11M635.5 436v4M636.5 369v4M636.5 399v4M636.5 433v3M636.5 448v3M637.5 388v4M637.5 429v4M638.5 369v4M639.5 373v4M639.5 418v7M640.5 321v8M640.5 336v4M640.5 355v3M640.5 373v11M641.5 429v11M642.5 317v4M642.5 373v4M642.5 440v4M643.5 377v7M644.5 366v3M644.5 384v4M644.5 395v4M645.5 373v4M645.5 388v4M645.5 395v4M645.5 410v4M645.5 433v3M645.5 440v11M646.5 358v4M646.5 369v4M646.5 377v7M646.5 403v4M646.5 425v4M646.5 433v7M647.5 366v3M647.5 395v4M648.5 403v4M650.5 373v4M651.5 325v4M651.5 358v4M651.5 373v4M651.5 395v4M651.5 407v3M651.5 422v3M651.5 433v3M651.5 440v4M652.5 369v4M652.5 377v11M652.5 433v3M653.5 366v7M653.5 395v4M653.5 425v4M653.5 433v3M653.5 440v4M654.5 399v4M654.5 425v4M654.5 433v3M655.5 373v4M655.5 403v4M655.5 410v4M655.5 425v4M655.5 433v3M655.5 448v11M656.5 373v4M656.5 425v4M656.5 436v8M657.5 362v4M657.5 369v8M657.5 440v4M658.5 418v4M659.5 343v4M659.5 366v3M659.5 399v4M659.5 410v4M659.5 433v3M659.5 440v8M659.5 459v3M660.5 392v3M660.5 399v4M660.5 407v3M660.5 459v3M661.5 373v4M661.5 392v3M661.5 433v3M661.5 448v3M663.5 317v4M663.5 332v8M663.5 436v4M664.5 381v3M664.5 436v4M664.5 448v3M665.5 321v4M665.5 332v4M665.5 403v4M665.5 418v4M665.5 440v11M666.5 314v3M666.5 321v4M666.5 336v7M666.5 388v4M666.5 407v7M666.5 422v3M667.5 433v7M668.5 429v4M668.5 436v4M669.5 321v4M669.5 407v3M669.5 414v4M669.5 436v4M669.5 444v4M670.5 314v7M670.5 347v4M670.5 381v3M670.5 410v4M670.5 429v4M670.5 436v4M670.5 455v7M671.5 347v4M671.5 392v3M671.5 425v4M671.5 455v4M672.5 343v8M672.5 388v7M672.5 399v4M672.5 407v3M672.5 418v4M672.5 455v4M673.5 314v3M673.5 388v4M673.5 403v4M673.5 429v4M674.5 388v4M674.5 395v4M674.5 448v3M675.5 392v3M675.5 399v8M675.5 444v4M676.5 321v4M676.5 329v3M676.5 336v4M676.5 388v7M676.5 403v4M676.5 414v8M676.5 429v4M676.5 436v4M676.5 451v4M676.5 459v3M677.5 336v4M677.5 425v4M677.5 448v3M678.5 332v4M678.5 429v4M678.5 448v3M679.5 403v4M679.5 414v4M679.5 440v8M679.5 459v3M680.5 321v4M680.5 332v8M680.5 347v4M680.5 414v4M680.5 429v4M680.5 436v12M681.5 343v4M681.5 395v4M681.5 436v4M681.5 444v7M682.5 429v4M682.5 436v4M682.5 444v4M683.5 429v4M684.5 429v4M684.5 436v4M684.5 451v4M684.5 459v3M685.5 325v7M685.5 436v4M686.5 325v4M686.5 436v4M686.5 444v7M686.5 459v3M687.5 321v4M687.5 329v3M687.5 403v4M687.5 414v4M687.5 429v4M687.5 444v11M687.5 459v3M688.5 317v4M688.5 329v7M688.5 395v4M688.5 403v7M690.5 407v3M690.5 414v8M690.5 429v4M690.5 459v3M691.5 314v11M691.5 329v3M691.5 343v4M691.5 403v4M691.5 410v12M691.5 444v4M692.5 321v4M692.5 332v4M692.5 451v8M693.5 403v4M693.5 436v4M693.5 444v4M694.5 332v4M694.5 392v3M694.5 444v4M695.5 459v3M696.5 325v7M696.5 392v3M696.5 414v4M696.5 448v7M697.5 343v4M697.5 392v3M697.5 418v4M697.5 455v7M698.5 321v4M698.5 329v3M698.5 388v4M698.5 410v4M698.5 436v12M699.5 332v8M699.5 429v4M699.5 448v3M699.5 455v7M700.5 388v4M700.5 451v4M701.5 436v12M701.5 459v3M702.5 403v4M702.5 429v4M702.5 436v4M702.5 459v3M703.5 448v3M704.5 317v4M704.5 336v4M704.5 343v4M704.5 388v4M704.5 399v4M704.5 418v4M704.5 436v12M705.5 325v4M705.5 388v7M705.5 399v4M705.5 422v3M705.5 429v4M705.5 436v4M705.5 448v3M705.5 459v3M706.5 314v3M706.5 325v7M706.5 347v4M706.5 395v4M706.5 429v4M706.5 451v4M707.5 314v3M707.5 336v11M707.5 429v4M707.5 451v11M709.5 340v3M709.5 362v4M709.5 455v7M710.5 433v3M710.5 440v4M710.5 448v3M711.5 314v11M711.5 347v4M711.5 425v4M711.5 433v3M711.5 451v4M712.5 366v3M712.5 436v4M713.5 440v8M713.5 459v3M714.5 429v4M714.5 448v3M714.5 455v7M715.5 340v3M715.5 425v4M715.5 433v3M715.5 455v4M716.5 351v4M716.5 384v4M717.5 358v4M717.5 433v3M717.5 440v4M718.5 336v4M718.5 347v4M718.5 425v4M718.5 448v3M718.5 455v7M719.5 433v11M720.5 448v3M721.5 425v8M721.5 448v3M721.5 455v7M722.5 358v4M722.5 448v7M722.5 459v3M723.5 321v4M723.5 329v3M723.5 340v3M723.5 425v4M723.5 451v4M724.5 314v3M724.5 336v4M724.5 343v4M724.5 351v4M724.5 358v4M724.5 377v4M724.5 429v4M724.5 436v4M725.5 429v11M725.5 444v4M725.5 451v4M726.5 325v4M726.5 340v3M726.5 433v3M726.5 459v3M727.5 321v4M727.5 347v4M727.5 355v3M727.5 366v3M727.5 377v4M727.5 425v8M727.5 436v8M727.5 451v4M727.5 459v3M728.5 325v4M728.5 369v4M728.5 448v3M729.5 429v4M729.5 436v4M730.5 429v4M731.5 433v11M731.5 455v4M732.5 325v4M732.5 343v4M732.5 384v4M732.5 429v4M734.5 425v4M735.5 433v3M736.5 343v4M736.5 433v3M737.5 362v4M737.5 425v4M738.5 347v4M738.5 358v4M738.5 448v3M738.5 459v3M739.5 325v4M739.5 343v8M739.5 362v4M739.5 425v11M739.5 448v7M740.5 366v3M740.5 448v3M741.5 317v4M741.5 347v4M741.5 433v3M741.5 448v11M742.5 362v4M742.5 433v3M742.5 455v4M743.5 325v7M743.5 340v3M743.5 373v4M743.5 455v4M744.5 429v15M744.5 448v3M744.5 459v3M745.5 314v3M745.5 429v4M745.5 436v8M745.5 451v4M746.5 436v4M746.5 459v3M747.5 459v3M749.5 317v4M749.5 358v4M749.5 366v3M750.5 351v11M750.5 366v7M750.5 381v3M750.5 418v4M751.5 351v4M751.5 381v3M752.5 355v7M752.5 369v4M752.5 377v7M753.5 366v3M753.5 403v4M753.5 418v4M754.5 314v3M754.5 321v4M754.5 358v4M754.5 369v4M754.5 377v7M754.5 418v4M755.5 321v4M755.5 358v4M755.5 373v11M756.5 351v7M756.5 362v4M756.5 369v4M756.5 377v4M757.5 325v4M757.5 340v3M757.5 351v4M757.5 369v4M757.5 381v3M758.5 351v4M758.5 358v4M758.5 369v4M758.5 377v11M759.5 381v3M759.5 403v4M759.5 410v4M760.5 347v4M760.5 355v3M760.5 407v3M760.5 418v7M761.5 351v4M761.5 366v3M761.5 377v4M761.5 403v4M761.5 414v4M762.5 317v4M762.5 336v4M762.5 351v4M762.5 362v7M762.5 384v4M763.5 340v3M763.5 369v8M763.5 381v3M764.5 362v7M764.5 377v4M765.5 314v3M765.5 343v4M765.5 351v4M765.5 358v4M765.5 377v4M765.5 403v4M767.5 343v8M767.5 358v8M767.5 369v4M768.5 314v3M768.5 355v7M768.5 369v8"/><path stroke="#480048" d="M562.5 362v4M562.5 407v3M562.5 422v3M563.5 358v4M563.5 392v7M563.5 418v4M564.5 362v11M564.5 381v3M564.5 399v4M564.5 407v3M565.5 418v4M565.5 451v4M566.5 392v7M566.5 433v3M567.5 366v3M568.5 392v3M569.5 366v3M569.5 448v3M570.5 343v4M570.5 403v7M570.5 422v3M571.5 403v4M571.5 422v3M572.5 332v4M574.5 399v4M574.5 410v4M575.5 347v4M577.5 366v3M578.5 422v3M579.5 392v3M581.5 388v4M581.5 395v4M581.5 410v8M581.5 422v3M584.5 395v8M584.5 444v4M584.5 459v3M585.5 392v3M585.5 399v4M585.5 414v4M585.5 422v3M586.5 407v7M587.5 343v4M587.5 355v3M587.5 362v4M587.5 369v4M587.5 377v4M587.5 433v3M587.5 440v4M587.5 448v7M587.5 459v3M588.5 399v4M588.5 414v4M588.5 440v4M589.5 433v3M589.5 440v4M589.5 451v8M590.5 433v3M591.5 366v3M592.5 358v4M592.5 369v8M592.5 403v4M592.5 433v3M594.5 369v8M594.5 392v3M596.5 362v4M596.5 377v4M596.5 392v7M597.5 399v4M599.5 377v4M600.5 343v4M600.5 366v3M600.5 395v4M600.5 407v18M600.5 459v3M601.5 321v4M601.5 347v4M603.5 347v4M603.5 418v7M604.5 366v3M604.5 407v3M604.5 414v4M605.5 366v7M606.5 358v4M606.5 381v7M606.5 399v4M607.5 366v3M608.5 418v7M609.5 362v4M609.5 373v4M610.5 329v3M610.5 336v4M610.5 366v3M610.5 373v4M611.5 366v3M611.5 410v4M612.5 373v4M613.5 366v3M613.5 384v4M615.5 362v4M615.5 369v4M615.5 377v4M615.5 388v7M615.5 399v8M615.5 433v3M616.5 433v3M616.5 440v4M617.5 343v4M617.5 362v4M617.5 399v8M617.5 410v4M617.5 433v3M618.5 388v4M618.5 407v3M619.5 366v3M619.5 381v7M620.5 317v4M620.5 362v4M620.5 369v4M620.5 377v7M620.5 422v3M621.5 373v4M622.5 317v4M622.5 329v3M622.5 414v4M622.5 455v4M623.5 369v4M623.5 392v7M623.5 444v4M624.5 418v4M625.5 366v3M625.5 392v3M626.5 444v4M626.5 459v3M627.5 384v4M628.5 399v4M628.5 407v3M628.5 414v4M630.5 392v3M630.5 440v4M633.5 347v4M633.5 369v4M633.5 377v4M633.5 399v4M634.5 366v3M634.5 407v7M634.5 418v7M635.5 418v4M636.5 407v3M636.5 414v8M637.5 373v4M637.5 384v4M637.5 425v4M637.5 451v4M638.5 366v3M639.5 343v4M639.5 366v3M639.5 392v7M640.5 340v11M640.5 407v3M641.5 317v4M641.5 325v4M641.5 332v4M641.5 343v8M641.5 425v4M642.5 343v4M642.5 366v3M642.5 433v3M643.5 369v8M643.5 403v4M643.5 422v3M644.5 392v3M645.5 366v3M645.5 414v4M646.5 366v3M646.5 373v4M646.5 392v3M646.5 399v4M646.5 407v3M646.5 422v3M647.5 347v4M647.5 392v3M648.5 373v4M648.5 392v3M648.5 414v4M650.5 366v3M651.5 366v3M652.5 373v4M653.5 399v4M653.5 422v3M654.5 366v3M654.5 392v3M654.5 448v3M655.5 395v4M655.5 414v4M655.5 422v3M656.5 366v3M657.5 366v3M657.5 433v3M658.5 388v4M658.5 414v4M659.5 395v4M659.5 414v8M660.5 388v4M660.5 395v4M660.5 414v4M660.5 425v4M660.5 440v4M660.5 448v3M663.5 314v3M663.5 343v8M663.5 448v7M663.5 459v3M664.5 321v4M664.5 451v8M665.5 336v4M665.5 388v4M665.5 399v4M665.5 410v4M665.5 436v4M665.5 455v4M666.5 317v4M666.5 329v7M666.5 343v8M666.5 399v8M666.5 425v4M667.5 329v7M667.5 403v4M667.5 429v4M667.5 444v4M667.5 459v3M668.5 388v7M668.5 399v11M668.5 448v11M669.5 329v3M669.5 347v4M669.5 384v4M669.5 418v4M669.5 448v7M669.5 459v3M670.5 332v4M670.5 340v3M670.5 377v4M670.5 448v7M671.5 395v4M671.5 410v4M671.5 448v3M673.5 321v4M673.5 347v4M673.5 407v7M673.5 418v4M673.5 436v4M673.5 448v3M674.5 392v3M674.5 407v7M674.5 418v4M674.5 425v4M675.5 340v3M675.5 395v4M675.5 414v4M675.5 422v3M675.5 429v4M675.5 436v4M675.5 448v3M676.5 332v4M676.5 381v3M676.5 399v4M677.5 317v4M677.5 343v4M677.5 388v11M677.5 410v4M678.5 455v4M679.5 395v4M679.5 418v4M679.5 436v4M680.5 343v4M680.5 410v4M680.5 448v7M680.5 459v3M681.5 451v4M681.5 459v3M682.5 410v4M682.5 451v4M683.5 388v4M683.5 425v4M684.5 448v3M684.5 455v4M685.5 314v3M685.5 414v8M686.5 392v3M686.5 455v4M687.5 317v4M687.5 347v4M687.5 399v4M687.5 407v3M687.5 455v4M688.5 343v4M688.5 399v4M688.5 414v4M688.5 422v3M688.5 448v14M689.5 325v4M689.5 395v8M689.5 410v4M689.5 436v4M689.5 444v4M689.5 459v3M690.5 336v4M690.5 384v4M690.5 455v4M691.5 340v3M691.5 388v4M691.5 422v3M691.5 429v4M691.5 436v4M691.5 448v3M691.5 459v3M692.5 384v4M692.5 425v4M693.5 329v3M693.5 384v8M693.5 422v3M693.5 429v4M693.5 448v14M694.5 336v4M695.5 332v4M695.5 347v4M695.5 455v4M696.5 317v4M696.5 336v4M696.5 347v4M696.5 395v8M696.5 407v3M696.5 425v4M696.5 455v4M697.5 403v4M697.5 425v4M697.5 451v4M698.5 317v4M698.5 340v7M698.5 429v7M698.5 455v4M699.5 329v3M699.5 343v8M699.5 425v4M699.5 451v4M700.5 325v7M700.5 336v4M701.5 321v4M701.5 329v14M702.5 399v4M702.5 425v4M702.5 451v4M703.5 403v4M703.5 425v4M703.5 455v4M704.5 314v3M704.5 340v3M704.5 347v4M704.5 422v3M704.5 429v4M704.5 448v3M704.5 459v3M705.5 425v4M705.5 455v4M706.5 336v4M706.5 418v4M706.5 448v3M706.5 455v7M707.5 317v8M707.5 332v4M707.5 347v4M707.5 448v3M709.5 317v4M709.5 336v4M709.5 343v4M709.5 358v4M709.5 377v4M709.5 425v4M710.5 425v8M711.5 343v4M711.5 448v3M712.5 425v11M712.5 448v14M713.5 325v7M713.5 429v4M713.5 436v4M713.5 448v7M714.5 325v7M714.5 347v4M715.5 329v3M716.5 317v8M716.5 329v3M716.5 355v7M717.5 325v7M717.5 347v11M717.5 362v7M717.5 381v3M717.5 425v8M717.5 459v3M718.5 329v3M719.5 325v7M719.5 377v4M719.5 429v4M719.5 451v11M720.5 321v11M720.5 340v3M721.5 325v4M721.5 336v4M721.5 433v3M723.5 343v8M723.5 448v3M724.5 332v4M724.5 366v3M724.5 433v3M724.5 440v4M724.5 451v4M724.5 459v3M725.5 425v4M725.5 448v3M725.5 455v4M726.5 314v7M726.5 329v3M726.5 343v8M727.5 317v4M727.5 332v4M727.5 340v7M727.5 351v4M727.5 433v3M727.5 448v3M727.5 455v4M728.5 314v3M728.5 332v4M728.5 377v4M729.5 329v3M729.5 448v3M729.5 459v3M730.5 448v3M730.5 455v4M731.5 314v3M731.5 321v4M731.5 336v4M731.5 347v4M732.5 314v3M732.5 321v4M732.5 329v11M732.5 347v4M734.5 429v4M734.5 455v4M735.5 325v4M735.5 377v4M736.5 314v7M736.5 340v3M736.5 347v4M736.5 448v3M736.5 455v4M737.5 343v4M737.5 455v4M738.5 321v8M738.5 343v4M739.5 314v3M739.5 332v8M739.5 377v4M739.5 455v7M740.5 321v4M740.5 347v4M740.5 425v8M740.5 455v4M741.5 314v3M741.5 332v4M742.5 314v7M742.5 355v3M742.5 373v4M742.5 381v3M742.5 451v4M743.5 314v11M743.5 332v8M743.5 347v8M743.5 459v3M744.5 321v11M744.5 347v4M744.5 425v4M744.5 455v4M745.5 317v8M745.5 332v4M745.5 355v7M745.5 425v4M745.5 455v4M746.5 373v4M747.5 314v7M747.5 332v8M749.5 314v3M749.5 351v4M749.5 362v4M749.5 373v15M750.5 373v4M750.5 384v4M750.5 407v3M750.5 414v4M750.5 422v3M751.5 321v15M751.5 340v3M751.5 355v7M751.5 366v3M751.5 373v4M751.5 384v4M752.5 351v4M752.5 373v4M752.5 384v4M752.5 403v4M752.5 414v8M753.5 355v11M753.5 381v7M753.5 407v11M753.5 422v3M754.5 325v4M754.5 332v4M754.5 355v3M754.5 362v4M754.5 373v4M754.5 384v4M754.5 403v4M754.5 410v4M755.5 336v4M755.5 362v7M755.5 384v4M755.5 407v3M755.5 414v8M756.5 373v4M756.5 384v4M757.5 343v4M757.5 355v3M757.5 366v3M757.5 373v4M758.5 325v4M758.5 355v3M758.5 366v3M758.5 373v4M758.5 418v4M759.5 351v4M759.5 358v15M759.5 377v4M759.5 384v4M759.5 407v3M759.5 414v4M760.5 351v4M760.5 373v4M761.5 355v7M761.5 369v4M761.5 384v4M761.5 407v3M761.5 422v3M762.5 321v4M762.5 329v3M762.5 358v4M762.5 369v12M762.5 418v4M763.5 321v4M763.5 351v4M763.5 358v4M763.5 377v4M764.5 355v3M764.5 369v4M764.5 381v3M765.5 321v4M765.5 355v3M765.5 362v7M765.5 373v4M765.5 384v4M765.5 418v4M766.5 351v4M766.5 362v4M766.5 369v15M767.5 321v4M767.5 332v4M767.5 366v3M767.5 381v3M767.5 418v4M768.5 384v4"/><path stroke="#600048" d="M562.5 366v3M565.5 388v4M566.5 407v3M566.5 422v3M569.5 444v4M570.5 414v4M571.5 317v4M572.5 317v4M584.5 392v3M585.5 366v3M588.5 395v4M601.5 343v4M604.5 459v3M611.5 422v3M622.5 444v4M623.5 399v4M628.5 392v3M630.5 325v4M630.5 369v4M637.5 444v4M665.5 414v4M669.5 381v3M671.5 422v3M677.5 340v3M687.5 343v4M688.5 314v3M688.5 429v4M689.5 403v4M690.5 381v3M716.5 369v4M731.5 343v4M742.5 369v4M761.5 336v4M761.5 410v4M765.5 325v4"/><path stroke="#600060" d="M562.5 369v4M563.5 399v4M566.5 366v3M566.5 388v4M566.5 399v4M566.5 410v4M566.5 418v4M567.5 395v12M567.5 414v4M568.5 366v3M569.5 369v4M570.5 392v7M571.5 388v7M571.5 407v7M572.5 343v8M574.5 392v3M576.5 366v3M578.5 366v3M580.5 366v3M581.5 407v3M583.5 399v4M584.5 366v3M584.5 433v3M585.5 418v4M586.5 388v4M587.5 366v3M587.5 373v4M587.5 407v3M588.5 422v3M589.5 448v3M590.5 388v7M590.5 422v3M591.5 317v4M591.5 340v3M591.5 347v4M592.5 366v3M592.5 388v4M592.5 395v4M592.5 407v7M592.5 422v3M595.5 392v3M596.5 369v8M597.5 392v3M600.5 392v3M601.5 410v4M603.5 392v7M603.5 407v3M604.5 418v7M606.5 369v8M610.5 325v4M610.5 347v4M610.5 407v3M610.5 422v3M611.5 381v3M612.5 399v4M612.5 407v3M613.5 343v4M614.5 392v3M615.5 366v3M615.5 407v3M615.5 414v8M616.5 455v4M617.5 317v4M617.5 347v4M617.5 392v3M617.5 407v3M617.5 422v3M618.5 366v3M618.5 418v7M619.5 369v4M620.5 373v4M622.5 347v4M623.5 332v4M623.5 366v3M623.5 373v4M623.5 422v3M625.5 395v8M625.5 407v3M625.5 414v4M626.5 366v3M626.5 395v4M626.5 433v3M627.5 366v3M627.5 373v4M628.5 366v3M630.5 347v4M631.5 366v3M632.5 366v3M633.5 366v3M634.5 392v15M634.5 414v4M636.5 366v3M636.5 395v4M637.5 433v3M638.5 418v4M640.5 366v3M642.5 422v3M643.5 395v4M643.5 407v11M645.5 399v4M647.5 343v4M649.5 366v3M651.5 343v4M652.5 399v4M652.5 418v4M655.5 366v3M655.5 399v4M655.5 407v3M655.5 418v4M660.5 433v3M663.5 321v4M663.5 340v3M663.5 399v4M663.5 455v4M664.5 332v8M664.5 388v4M664.5 425v4M665.5 329v3M665.5 343v8M665.5 422v11M665.5 451v4M667.5 314v3M667.5 388v7M667.5 407v3M667.5 414v8M667.5 448v7M668.5 340v3M668.5 347v4M668.5 395v4M668.5 414v4M669.5 336v7M669.5 455v4M670.5 336v4M671.5 388v4M671.5 407v3M671.5 414v4M672.5 425v4M673.5 317v4M673.5 340v3M673.5 451v4M675.5 314v3M675.5 418v4M675.5 451v4M675.5 459v3M676.5 314v7M676.5 340v3M676.5 425v4M676.5 455v4M677.5 399v11M677.5 414v4M677.5 422v3M678.5 317v8M678.5 347v4M678.5 414v4M678.5 425v4M679.5 388v4M679.5 407v7M679.5 422v7M680.5 314v3M680.5 403v4M680.5 418v4M680.5 455v4M681.5 422v3M681.5 429v4M681.5 455v4M682.5 407v3M683.5 321v8M684.5 403v4M684.5 425v4M685.5 317v4M685.5 332v4M685.5 340v3M685.5 347v4M685.5 388v7M685.5 403v7M685.5 455v4M686.5 314v11M686.5 329v7M686.5 343v4M686.5 388v4M686.5 410v4M686.5 451v4M687.5 422v7M688.5 340v3M688.5 425v4M689.5 317v4M689.5 329v11M689.5 407v3M689.5 418v7M689.5 451v4M690.5 317v8M690.5 329v3M690.5 343v4M690.5 377v4M690.5 425v4M690.5 448v3M691.5 336v4M691.5 347v4M691.5 399v4M691.5 451v4M693.5 325v4M694.5 314v11M694.5 343v4M695.5 317v4M695.5 410v4M695.5 422v3M696.5 314v3M696.5 332v4M696.5 340v3M696.5 403v4M696.5 422v3M697.5 422v3M698.5 332v8M698.5 347v4M698.5 451v4M699.5 317v4M699.5 340v3M700.5 321v4M700.5 332v4M700.5 343v4M700.5 395v4M700.5 418v4M701.5 347v4M701.5 425v4M701.5 448v7M702.5 340v3M702.5 455v4M703.5 329v3M703.5 347v4M703.5 381v3M704.5 321v4M704.5 451v4M705.5 321v4M705.5 329v11M705.5 343v4M705.5 451v4M706.5 317v8M706.5 332v4M706.5 340v7M706.5 425v4M707.5 388v7M707.5 399v4M707.5 407v15M707.5 425v4M709.5 314v3M709.5 321v4M709.5 332v4M709.5 347v4M709.5 448v3M710.5 455v4M712.5 321v4M712.5 329v3M712.5 340v3M713.5 425v4M713.5 455v4M714.5 321v4M714.5 332v8M714.5 343v4M715.5 314v3M715.5 336v4M715.5 343v4M716.5 314v3M716.5 340v3M716.5 347v4M717.5 314v3M717.5 336v4M717.5 448v3M717.5 455v4M718.5 340v7M719.5 347v4M719.5 425v4M719.5 448v3M720.5 314v3M720.5 332v8M720.5 343v8M721.5 329v3M722.5 325v4M723.5 314v7M723.5 332v4M724.5 355v3M724.5 448v3M724.5 455v4M725.5 314v3M725.5 325v7M725.5 347v4M725.5 459v3M726.5 321v4M726.5 332v8M727.5 314v3M727.5 325v4M727.5 336v4M728.5 317v4M728.5 329v3M728.5 336v4M728.5 343v8M729.5 347v4M730.5 321v4M730.5 332v19M731.5 332v4M732.5 317v4M732.5 340v3M733.5 317v4M733.5 343v4M734.5 314v3M734.5 321v11M734.5 336v4M735.5 347v4M737.5 325v7M737.5 384v4M738.5 314v7M738.5 336v4M739.5 317v8M739.5 340v3M741.5 321v4M741.5 336v7M743.5 343v4M743.5 448v3M744.5 317v4M744.5 336v4M744.5 343v4M745.5 340v7M745.5 433v3M745.5 448v3M745.5 459v3M746.5 325v4M747.5 343v4M749.5 329v3M749.5 343v4M749.5 355v3M749.5 414v11M750.5 362v4M750.5 403v4M750.5 410v4M751.5 343v4M752.5 410v4M753.5 351v4M753.5 373v4M754.5 414v4M755.5 351v7M755.5 369v4M755.5 403v4M755.5 422v3M756.5 422v3M757.5 317v4M757.5 329v3M757.5 336v4M757.5 358v4M757.5 377v4M757.5 384v4M758.5 403v15M758.5 422v3M759.5 355v3M759.5 388v4M760.5 314v3M760.5 414v4M761.5 362v4M761.5 373v4M761.5 381v3M762.5 314v3M762.5 343v4M762.5 355v3M762.5 403v15M762.5 422v3M763.5 325v7M763.5 355v3M763.5 384v4M763.5 418v4M764.5 358v4M764.5 373v4M764.5 384v4M764.5 410v4M764.5 422v3M765.5 336v4M765.5 381v3M765.5 407v3M765.5 422v3M766.5 355v7M766.5 366v3M766.5 384v4M766.5 403v4M767.5 351v7M767.5 373v8M767.5 384v4M768.5 407v3"/><path stroke="#300018" d="M562.5 377v4M563.5 377v4M565.5 373v4M567.5 440v4M568.5 395v4M568.5 414v4M572.5 451v4M573.5 444v4M576.5 347v4M577.5 358v4M577.5 373v4M578.5 362v4M579.5 366v3M579.5 384v4M579.5 399v4M583.5 429v4M584.5 369v4M584.5 422v3M585.5 336v4M585.5 407v3M585.5 440v4M586.5 384v4M587.5 436v4M588.5 425v4M588.5 444v4M589.5 343v4M591.5 395v4M592.5 355v3M593.5 392v3M595.5 414v4M596.5 455v4M599.5 395v4M600.5 399v4M600.5 451v4M601.5 433v3M603.5 329v3M603.5 384v4M604.5 403v4M606.5 422v3M611.5 403v4M614.5 403v4M615.5 444v4M616.5 414v4M617.5 336v4M617.5 429v4M617.5 451v4M618.5 325v4M618.5 347v4M619.5 355v3M620.5 347v4M621.5 407v3M621.5 433v3M621.5 440v4M623.5 355v3M623.5 407v3M625.5 448v3M627.5 425v4M632.5 369v4M635.5 358v8M636.5 373v4M636.5 384v4M636.5 392v3M636.5 422v3M637.5 381v3M640.5 369v4M642.5 347v4M643.5 358v4M643.5 425v4M644.5 410v4M645.5 451v4M646.5 317v4M648.5 366v3M648.5 433v3M649.5 362v4M650.5 440v4M656.5 414v4M657.5 429v4M658.5 410v4M658.5 436v4M659.5 429v4M660.5 429v4M661.5 384v4M661.5 459v3M663.5 381v3M663.5 444v4M665.5 459v3M667.5 440v4M669.5 314v3M669.5 332v4M672.5 395v4M675.5 410v4M683.5 384v4M684.5 343v4M684.5 381v3M688.5 321v4M688.5 410v4M688.5 418v4M688.5 436v4M692.5 448v3M693.5 440v4M694.5 436v8M700.5 444v4M704.5 329v3M704.5 395v4M709.5 451v4M711.5 440v4M712.5 440v4M715.5 325v4M716.5 362v4M716.5 377v4M721.5 440v4M722.5 381v3M722.5 429v4M726.5 444v4M730.5 436v4M733.5 455v4M735.5 369v4M738.5 425v4M738.5 433v3M745.5 369v8M746.5 355v3M747.5 366v3M747.5 384v4M749.5 325v4M752.5 325v4M754.5 336v7M754.5 351v4M754.5 366v3M760.5 362v4M763.5 317v4M763.5 332v4M767.5 329v3"/><path stroke="#180000" d="M562.5 395v4M562.5 455v4M565.5 351v4M568.5 433v3M569.5 429v4M570.5 384v4M571.5 358v8M571.5 429v4M572.5 351v4M573.5 362v4M573.5 425v4M574.5 403v4M576.5 351v4M576.5 429v4M577.5 388v4M578.5 384v4M578.5 425v4M579.5 351v4M579.5 369v4M581.5 351v4M582.5 377v4M582.5 444v4M583.5 351v4M585.5 429v4M585.5 444v4M586.5 343v4M586.5 355v3M588.5 436v4M589.5 351v4M590.5 358v4M591.5 351v4M592.5 351v4M595.5 351v4M599.5 369v4M601.5 429v4M604.5 362v4M604.5 377v4M606.5 351v4M607.5 451v4M608.5 351v4M612.5 347v4M612.5 444v4M614.5 351v4M614.5 381v3M617.5 358v4M617.5 395v4M619.5 429v4M619.5 436v4M624.5 425v8M625.5 384v4M626.5 351v4M627.5 351v4M628.5 433v3M629.5 377v4M629.5 384v4M631.5 429v4M632.5 351v4M632.5 410v4M632.5 425v4M634.5 429v4M635.5 444v4M636.5 351v4M639.5 351v4M639.5 433v3M640.5 351v4M640.5 358v4M643.5 436v4M644.5 381v3M645.5 351v4M647.5 355v3M647.5 425v4M648.5 343v4M648.5 355v3M649.5 351v4M649.5 358v4M649.5 369v4M651.5 355v3M651.5 377v4M651.5 436v4M652.5 351v4M653.5 351v4M653.5 429v4M655.5 343v4M655.5 459v3M656.5 362v4M672.5 314v3M672.5 459v3M678.5 440v8M679.5 433v3M697.5 433v3M701.5 325v4M702.5 433v3M720.5 459v3M723.5 433v3M726.5 436v4M727.5 444v4M728.5 425v4M732.5 444v4M733.5 459v3M734.5 440v4M734.5 459v3M735.5 358v4M735.5 444v4M736.5 440v4M739.5 373v4M741.5 436v4M746.5 440v4"/><path stroke="#181800" d="M562.5 414v4M562.5 429v4M564.5 436v4M564.5 455v4M565.5 358v8M567.5 332v4M567.5 429v4M567.5 444v7M568.5 355v3M568.5 403v4M568.5 444v4M570.5 317v4M570.5 351v11M570.5 377v7M571.5 314v3M571.5 381v7M572.5 358v8M572.5 373v4M572.5 384v4M572.5 399v4M573.5 351v4M573.5 436v4M574.5 321v4M574.5 343v4M574.5 355v7M575.5 351v7M575.5 444v4M576.5 388v4M576.5 414v4M577.5 355v3M577.5 425v8M577.5 440v4M578.5 455v4M579.5 347v4M579.5 355v7M579.5 381v3M579.5 429v4M579.5 436v4M579.5 448v3M579.5 455v4M581.5 355v3M581.5 369v4M582.5 317v4M582.5 351v11M582.5 381v3M582.5 429v4M583.5 355v3M584.5 321v4M584.5 329v3M584.5 343v8M584.5 355v3M585.5 325v4M585.5 351v4M585.5 448v3M586.5 317v4M586.5 358v4M586.5 429v4M587.5 325v4M588.5 355v3M588.5 455v4M589.5 355v3M589.5 377v4M591.5 448v3M592.5 340v3M593.5 351v7M593.5 414v4M593.5 429v4M594.5 321v8M594.5 429v4M596.5 343v4M598.5 351v4M598.5 381v7M599.5 329v3M599.5 336v7M600.5 355v3M601.5 425v4M601.5 440v4M602.5 343v4M602.5 355v3M603.5 314v3M604.5 355v3M604.5 384v4M605.5 425v8M607.5 429v4M607.5 436v4M607.5 448v3M607.5 455v4M608.5 377v4M611.5 347v4M611.5 429v15M611.5 448v3M612.5 340v3M613.5 355v3M613.5 403v4M613.5 410v4M613.5 418v7M616.5 317v4M616.5 343v4M616.5 369v4M617.5 455v4M618.5 314v3M619.5 425v4M619.5 444v7M619.5 455v7M620.5 403v4M620.5 425v4M620.5 436v4M620.5 444v4M622.5 355v7M622.5 384v4M622.5 403v4M623.5 429v4M623.5 436v4M625.5 425v4M626.5 403v4M627.5 332v4M627.5 355v3M628.5 317v4M628.5 436v4M628.5 448v7M629.5 362v4M629.5 381v3M631.5 388v4M631.5 399v4M631.5 418v7M631.5 436v4M631.5 451v4M632.5 347v4M632.5 377v4M632.5 429v4M633.5 429v4M634.5 358v4M635.5 355v3M635.5 381v7M635.5 407v3M635.5 455v7M636.5 403v4M636.5 410v4M636.5 429v4M637.5 358v4M638.5 325v4M638.5 343v4M638.5 381v3M639.5 347v4M639.5 355v3M639.5 425v8M641.5 314v3M641.5 351v4M641.5 377v4M642.5 355v3M642.5 362v4M643.5 429v4M643.5 440v4M643.5 448v3M644.5 351v7M645.5 332v4M645.5 340v3M646.5 351v4M647.5 351v4M647.5 358v8M647.5 388v4M647.5 429v7M647.5 448v3M648.5 332v4M648.5 425v8M648.5 440v11M650.5 347v4M650.5 436v4M650.5 455v4M651.5 362v4M651.5 392v3M651.5 410v4M653.5 388v4M653.5 455v4M656.5 351v4M656.5 377v4M656.5 384v4M656.5 455v4M657.5 358v4M658.5 455v7M659.5 455v4M660.5 347v4M660.5 355v3M661.5 358v4M661.5 381v3M661.5 388v4M661.5 395v4M661.5 403v4M664.5 377v4M664.5 384v4M666.5 381v3M668.5 381v3M671.5 440v4M672.5 336v7M672.5 436v4M674.5 325v4M674.5 433v3M674.5 440v4M676.5 440v4M678.5 407v3M680.5 381v3M682.5 332v8M682.5 377v4M683.5 440v4M684.5 321v4M684.5 347v4M685.5 459v3M686.5 433v3M687.5 381v7M687.5 395v4M687.5 433v3M687.5 440v4M688.5 433v3M690.5 403v4M690.5 433v3M690.5 440v4M692.5 440v4M692.5 459v3M696.5 433v3M696.5 440v4M697.5 321v8M697.5 440v8M699.5 433v3M707.5 440v4M712.5 377v4M715.5 444v4M716.5 429v4M718.5 351v4M720.5 366v3M720.5 436v4M720.5 444v4M722.5 377v4M722.5 444v4M723.5 377v4M728.5 440v4M728.5 451v4M729.5 369v4M730.5 451v4M731.5 358v4M732.5 407v3M733.5 433v15M733.5 451v4M734.5 373v4M734.5 436v4M735.5 366v3M735.5 381v3M735.5 451v4M736.5 358v4M738.5 440v8M739.5 355v3M739.5 381v3M739.5 444v4M740.5 440v8M741.5 369v4M741.5 440v4M743.5 403v4M744.5 366v3M745.5 384v4M747.5 351v4M747.5 358v4M752.5 317v8M764.5 321v4M766.5 332v4M768.5 381v3"/><path stroke="#483018" d="M562.5 451v4M563.5 317v4M564.5 410v4M564.5 459v3M565.5 347v4M566.5 355v7M567.5 317v4M567.5 358v8M567.5 369v4M569.5 362v4M569.5 395v4M570.5 325v7M570.5 336v4M571.5 459v3M572.5 392v3M572.5 407v3M574.5 388v4M574.5 425v4M574.5 440v4M575.5 336v4M575.5 425v4M576.5 381v3M577.5 399v4M578.5 332v4M578.5 358v4M578.5 410v4M579.5 332v4M579.5 343v4M579.5 444v4M580.5 355v3M580.5 369v4M580.5 384v8M580.5 399v4M580.5 422v3M580.5 429v4M582.5 343v4M582.5 414v8M582.5 425v4M582.5 440v4M583.5 329v3M583.5 343v4M583.5 425v4M584.5 403v4M585.5 373v4M585.5 384v4M586.5 399v8M586.5 448v3M587.5 403v4M588.5 325v4M589.5 388v7M589.5 410v4M589.5 418v4M590.5 418v4M590.5 448v3M591.5 384v4M592.5 325v7M593.5 459v3M595.5 332v4M595.5 403v4M595.5 433v3M597.5 343v4M597.5 440v4M598.5 347v4M598.5 395v4M599.5 347v4M599.5 355v7M599.5 459v3M600.5 321v4M602.5 414v4M602.5 429v4M603.5 325v4M604.5 455v4M605.5 325v4M605.5 343v4M606.5 336v4M606.5 392v3M606.5 403v4M606.5 414v4M606.5 433v3M607.5 358v4M607.5 384v8M607.5 410v4M608.5 433v3M608.5 440v8M608.5 455v4M609.5 343v4M609.5 388v7M609.5 399v4M609.5 414v8M609.5 451v4M609.5 459v3M610.5 451v4M611.5 332v4M612.5 410v4M613.5 407v3M615.5 317v4M615.5 343v4M615.5 358v4M617.5 459v3M618.5 381v3M618.5 403v4M618.5 444v4M619.5 347v4M619.5 392v3M620.5 407v3M621.5 403v4M622.5 395v4M623.5 384v4M624.5 369v4M624.5 392v3M624.5 407v7M624.5 451v4M625.5 429v4M625.5 451v4M625.5 459v3M626.5 392v3M626.5 407v3M627.5 347v4M627.5 455v4M628.5 369v4M628.5 384v4M629.5 418v4M629.5 425v4M629.5 433v3M629.5 451v4M630.5 388v4M630.5 429v7M630.5 444v4M631.5 355v3M631.5 377v4M631.5 384v4M633.5 433v3M633.5 440v4M634.5 317v4M634.5 444v4M635.5 336v4M636.5 358v4M636.5 444v4M636.5 459v3M638.5 355v3M638.5 384v4M638.5 436v8M638.5 455v4M639.5 403v4M640.5 433v3M640.5 444v4M641.5 403v4M641.5 410v4M641.5 422v3M642.5 358v4M642.5 388v4M642.5 395v4M642.5 448v3M644.5 425v4M646.5 455v7M647.5 329v3M647.5 459v3M648.5 459v3M649.5 436v4M649.5 459v3M650.5 336v4M650.5 377v7M651.5 347v4M652.5 422v3M653.5 392v3M654.5 355v3M654.5 388v4M654.5 407v3M655.5 377v7M656.5 407v3M658.5 355v11M658.5 373v4M658.5 381v3M659.5 332v4M660.5 314v3M660.5 325v4M671.5 314v3M671.5 321v4M671.5 336v4M672.5 325v4M675.5 317v8M677.5 381v3M680.5 384v4M681.5 336v4M682.5 314v3M682.5 329v3M682.5 384v4M682.5 392v3M682.5 455v4M684.5 384v4M684.5 410v4M685.5 451v4M689.5 377v4M689.5 429v4M693.5 418v4M694.5 407v3M694.5 448v3M695.5 377v4M695.5 392v3M698.5 395v4M699.5 381v3M700.5 429v4M701.5 381v3M701.5 388v4M701.5 403v4M706.5 403v4M706.5 410v4M712.5 373v4M712.5 381v3M713.5 321v4M713.5 403v4M714.5 351v4M715.5 369v4M715.5 384v4M715.5 448v3M716.5 425v4M716.5 455v4M718.5 377v4M719.5 351v4M720.5 362v4M720.5 381v3M721.5 362v4M725.5 377v4M726.5 381v3M727.5 358v4M728.5 373v4M729.5 377v7M729.5 455v4M731.5 384v4M731.5 425v8M731.5 459v3M732.5 358v4M732.5 369v4M732.5 381v3M733.5 321v4M735.5 373v4M735.5 395v4M735.5 448v3M735.5 459v3M736.5 377v4M737.5 373v4M740.5 325v4M740.5 358v4M742.5 332v4M742.5 343v4M744.5 403v4M746.5 362v7M746.5 377v4M752.5 314v3M752.5 336v4M755.5 332v4M756.5 325v4M766.5 325v4M768.5 343v4"/><path stroke="#604818" d="M562.5 459v3M565.5 317v4M565.5 325v4M565.5 455v4M566.5 329v3M569.5 403v4M569.5 414v4M571.5 448v3M573.5 314v3M575.5 321v4M576.5 373v4M580.5 336v4M580.5 440v4M581.5 459v3M583.5 347v4M583.5 433v3M588.5 347v4M590.5 329v3M590.5 444v4M591.5 403v4M593.5 451v4M594.5 347v4M594.5 414v4M594.5 448v3M595.5 317v4M595.5 336v4M595.5 425v4M595.5 440v4M596.5 325v4M597.5 455v4M598.5 329v3M598.5 343v4M599.5 444v4M602.5 388v4M602.5 422v3M602.5 459v3M605.5 329v3M605.5 422v3M606.5 329v3M607.5 403v4M609.5 325v7M609.5 347v4M609.5 407v3M610.5 425v8M610.5 436v4M610.5 455v7M615.5 321v8M618.5 384v4M619.5 336v4M621.5 314v7M621.5 329v3M621.5 347v4M621.5 377v4M621.5 388v4M622.5 314v3M624.5 321v4M624.5 332v4M624.5 395v4M624.5 422v3M624.5 448v3M626.5 332v4M627.5 388v4M628.5 340v3M629.5 459v3M630.5 414v4M630.5 451v4M631.5 358v4M634.5 325v4M634.5 332v4M634.5 448v3M635.5 347v4M637.5 332v4M640.5 451v4M642.5 314v3M647.5 314v3M647.5 399v4M648.5 395v4M649.5 332v4M650.5 321v4M654.5 317v4M654.5 340v3M654.5 347v4M654.5 377v4M654.5 384v4M654.5 403v4M655.5 317v4M656.5 410v4M657.5 399v4M657.5 410v4M659.5 321v4M660.5 321v4M663.5 392v3M670.5 395v4M675.5 381v3M678.5 403v4M681.5 340v3M682.5 317v4M682.5 399v4M682.5 414v4M689.5 381v3M691.5 377v4M691.5 384v4M692.5 399v4M692.5 414v8M693.5 369v4M693.5 392v3M695.5 395v4M702.5 377v4M702.5 410v4M704.5 381v3M706.5 399v4M709.5 403v4M715.5 358v4M716.5 459v3M717.5 395v4M725.5 384v4M726.5 384v4M727.5 369v4M728.5 384v4M729.5 362v4M730.5 392v3M733.5 329v3M733.5 336v4M733.5 395v4M735.5 392v3M736.5 351v4M737.5 403v4M744.5 351v4M747.5 325v4M764.5 332v4"/><path stroke="#907818" d="M563.5 314v3M577.5 317v4M580.5 314v3M581.5 448v3M581.5 455v4M607.5 321v4M607.5 336v4M609.5 314v3M640.5 459v3M700.5 384v4M703.5 366v3M709.5 414v4M710.5 373v4M717.5 388v4M730.5 366v3M734.5 418v4M737.5 388v4M741.5 399v4"/><path stroke="#906030" d="M563.5 325v4M577.5 321v4M577.5 340v3M590.5 336v4M607.5 317v4M610.5 448v3M624.5 336v4M654.5 325v4M654.5 373v4M656.5 332v4M657.5 388v4M657.5 422v3M658.5 317v4M668.5 384v4M685.5 377v4M692.5 403v4M702.5 395v4M706.5 377v4M710.5 366v7M755.5 347v4M759.5 317v4M759.5 347v4"/><path stroke="#784830" d="M563.5 329v3M563.5 343v8M569.5 343v4M581.5 451v4M582.5 403v4M599.5 332v4M601.5 314v3M609.5 317v4M613.5 325v4M616.5 459v3M621.5 336v4M623.5 340v3M624.5 314v3M630.5 355v3M631.5 332v4M641.5 451v4M647.5 321v4M647.5 414v4M651.5 388v4M653.5 317v4M654.5 440v4M656.5 317v4M657.5 403v4M657.5 414v4M659.5 317v4M661.5 317v4M661.5 336v4M665.5 395v4M675.5 332v4M682.5 347v4M684.5 418v4M692.5 395v4M696.5 377v4M711.5 369v4M721.5 369v4M726.5 362v4M729.5 321v4M743.5 366v3M755.5 317v4M759.5 329v3M759.5 340v3M761.5 329v3"/><path stroke="#786018" d="M563.5 332v4M563.5 459v3M564.5 340v11M565.5 329v3M569.5 314v7M569.5 340v3M570.5 440v8M570.5 451v4M577.5 314v3M577.5 336v4M577.5 347v4M579.5 321v4M580.5 317v4M580.5 343v4M583.5 451v4M588.5 340v3M595.5 329v3M596.5 329v3M599.5 325v4M602.5 317v4M603.5 455v4M605.5 332v4M609.5 340v3M613.5 314v3M624.5 317v4M624.5 444v4M634.5 336v4M635.5 317v4M638.5 433v3M641.5 444v7M641.5 455v4M644.5 448v3M649.5 336v4M649.5 425v4M649.5 444v4M651.5 340v3M654.5 332v4M656.5 321v8M657.5 448v3M661.5 314v3M663.5 355v3M668.5 377v4M692.5 392v3M695.5 384v4M702.5 414v4M704.5 377v4M710.5 355v3M710.5 399v4M710.5 407v3M713.5 358v4M714.5 373v4M714.5 381v3M726.5 418v4M727.5 392v3M729.5 373v4M734.5 384v4M737.5 414v4M759.5 332v4M760.5 440v4M764.5 329v3"/><path stroke="#781860" d="M563.5 366v3M567.5 418v4M596.5 422v3M630.5 343v4M631.5 343v4M649.5 399v4M663.5 407v3M664.5 329v3M664.5 410v4M665.5 314v3M667.5 347v4M668.5 321v4M668.5 332v8M679.5 314v3M681.5 388v4M683.5 407v3M686.5 399v4M686.5 422v3M687.5 410v4M694.5 410v4M703.5 418v7M713.5 332v4M717.5 384v4M719.5 343v4M729.5 314v3M729.5 336v4M742.5 351v4M742.5 377v4M747.5 340v3M751.5 317v4M755.5 410v4M758.5 332v4M763.5 314v3M768.5 321v4"/><path stroke="#480030" d="M563.5 410v4M571.5 395v4M578.5 377v4M585.5 321v4M590.5 440v4M591.5 429v4M594.5 329v3M594.5 422v3M596.5 440v4M604.5 392v3M610.5 332v4M613.5 451v4M617.5 366v3M618.5 369v4M620.5 325v4M625.5 369v4M628.5 403v4M628.5 418v4M639.5 399v4M640.5 332v4M641.5 321v4M644.5 414v4M646.5 384v4M654.5 444v4M656.5 433v3M658.5 395v4M659.5 422v3M661.5 444v4M663.5 429v4M667.5 325v4M673.5 444v4M674.5 403v4M681.5 392v3M687.5 340v3M687.5 392v3M695.5 340v3M700.5 459v3M703.5 325v4M703.5 336v4M709.5 329v3M709.5 355v3M711.5 329v3M712.5 325v4M717.5 451v4M718.5 314v3M721.5 314v3M727.5 362v4M736.5 332v4M737.5 377v4M737.5 448v3M740.5 343v4M743.5 429v4M745.5 336v4M749.5 321v4M749.5 332v4M753.5 377v4"/><path stroke="#301818" d="M563.5 436v8M563.5 448v3M564.5 425v4M564.5 444v4M565.5 381v3M565.5 403v4M565.5 459v3M566.5 381v3M566.5 459v3M567.5 329v3M567.5 343v4M567.5 384v4M568.5 388v4M568.5 410v4M568.5 440v4M569.5 377v4M569.5 388v7M569.5 410v4M569.5 418v4M570.5 347v4M570.5 362v4M570.5 425v4M571.5 329v3M572.5 366v3M572.5 436v4M572.5 444v4M573.5 355v3M573.5 373v4M573.5 384v4M573.5 403v4M574.5 362v4M574.5 448v3M575.5 325v4M575.5 332v4M575.5 362v4M575.5 384v4M575.5 440v4M576.5 321v8M576.5 336v4M576.5 403v4M576.5 448v3M577.5 403v4M577.5 418v4M578.5 329v3M578.5 336v4M578.5 343v4M578.5 355v3M578.5 381v3M578.5 414v4M578.5 429v4M578.5 436v4M578.5 459v3M580.5 358v4M580.5 436v4M581.5 436v4M582.5 388v4M583.5 362v4M583.5 384v4M585.5 362v4M585.5 388v4M586.5 340v3M586.5 377v4M586.5 440v4M588.5 448v3M588.5 459v3M589.5 381v3M589.5 399v4M589.5 407v3M590.5 317v4M590.5 332v4M590.5 347v4M590.5 362v4M590.5 414v4M590.5 425v4M590.5 455v4M591.5 362v4M591.5 369v4M591.5 381v3M591.5 422v3M591.5 459v3M592.5 459v3M593.5 347v4M593.5 358v4M593.5 388v4M593.5 403v4M593.5 444v4M593.5 455v4M594.5 314v3M594.5 384v4M594.5 410v4M594.5 433v3M595.5 362v4M595.5 369v4M595.5 377v11M595.5 395v4M596.5 444v4M596.5 451v4M596.5 459v3M598.5 373v4M598.5 388v7M598.5 418v4M598.5 444v7M599.5 314v3M599.5 410v8M599.5 455v4M600.5 336v4M600.5 377v4M600.5 384v4M600.5 436v4M601.5 336v4M601.5 358v4M601.5 369v8M601.5 381v3M602.5 369v4M602.5 381v3M602.5 425v4M602.5 455v4M603.5 336v4M603.5 425v8M603.5 444v4M603.5 459v3M604.5 369v4M604.5 410v4M604.5 429v4M606.5 418v4M606.5 436v4M607.5 392v7M607.5 407v3M608.5 369v4M608.5 429v4M609.5 422v3M609.5 444v4M609.5 455v4M610.5 314v3M611.5 362v4M612.5 332v4M612.5 343v4M612.5 403v4M612.5 448v3M613.5 436v4M613.5 444v4M613.5 459v3M614.5 358v4M614.5 451v4M615.5 455v4M616.5 329v3M616.5 429v4M617.5 325v4M617.5 377v4M618.5 336v7M618.5 392v3M618.5 448v3M619.5 403v7M619.5 451v4M620.5 395v4M620.5 410v4M621.5 384v4M622.5 340v3M622.5 369v4M622.5 392v3M623.5 388v4M623.5 425v4M623.5 440v4M623.5 451v11M624.5 381v3M624.5 414v4M625.5 355v3M625.5 444v4M627.5 403v11M627.5 436v4M627.5 444v4M627.5 451v4M628.5 332v4M628.5 377v4M628.5 455v4M629.5 317v4M629.5 355v3M629.5 366v7M629.5 407v3M629.5 422v3M629.5 440v4M630.5 448v3M631.5 381v3M632.5 343v4M632.5 436v4M633.5 321v11M633.5 340v3M633.5 355v3M633.5 414v4M633.5 422v3M634.5 436v4M635.5 403v4M635.5 448v7M636.5 362v4M636.5 377v4M637.5 325v4M637.5 343v8M637.5 448v3M637.5 459v3M638.5 329v3M638.5 336v7M638.5 373v4M638.5 422v3M639.5 317v8M639.5 329v3M639.5 381v3M639.5 388v4M640.5 317v4M640.5 403v4M641.5 340v3M641.5 362v4M641.5 369v4M642.5 325v4M642.5 369v4M642.5 377v4M642.5 459v3M643.5 459v3M644.5 358v8M644.5 373v4M644.5 388v4M644.5 399v4M644.5 455v4M645.5 347v4M645.5 407v3M646.5 332v4M646.5 340v3M646.5 362v4M646.5 388v4M646.5 429v4M646.5 440v8M647.5 332v4M647.5 407v3M647.5 418v7M647.5 440v4M648.5 418v4M650.5 355v3M650.5 384v4M650.5 410v4M650.5 459v3M651.5 317v8M651.5 369v4M651.5 381v3M651.5 414v4M652.5 388v4M652.5 410v4M652.5 425v8M652.5 440v8M652.5 459v3M653.5 355v3M653.5 373v4M653.5 381v3M653.5 403v7M653.5 414v4M653.5 451v4M654.5 429v4M654.5 436v4M655.5 325v4M656.5 381v3M656.5 459v3M657.5 347v4M657.5 377v4M657.5 392v3M657.5 425v4M657.5 436v4M658.5 384v4M658.5 422v3M658.5 444v4M659.5 325v4M659.5 340v3M659.5 373v4M660.5 317v4M660.5 358v8M660.5 373v11M661.5 355v3M661.5 440v4M663.5 325v4M664.5 433v3M665.5 407v3M665.5 433v3M666.5 444v4M666.5 459v3M668.5 422v3M668.5 433v3M669.5 433v3M670.5 422v3M671.5 433v3M672.5 317v8M672.5 422v3M673.5 422v3M674.5 321v4M674.5 329v7M674.5 343v4M674.5 422v3M674.5 455v4M676.5 395v4M677.5 384v4M677.5 436v4M677.5 451v8M678.5 418v4M679.5 325v4M679.5 399v4M682.5 321v4M682.5 403v4M682.5 440v4M683.5 377v4M684.5 336v4M685.5 433v3M685.5 448v3M687.5 325v4M688.5 325v4M688.5 392v3M688.5 440v8M690.5 422v3M692.5 317v4M692.5 343v4M692.5 381v3M692.5 407v3M692.5 433v3M693.5 377v4M693.5 433v3M694.5 325v4M694.5 433v3M694.5 451v8M695.5 399v4M697.5 340v3M698.5 414v4M699.5 314v3M699.5 325v4M699.5 440v4M701.5 377v4M701.5 384v4M702.5 444v4M703.5 414v4M703.5 429v7M704.5 325v4M704.5 433v3M705.5 433v3M706.5 381v3M707.5 436v4M709.5 325v4M709.5 369v4M709.5 381v3M709.5 429v4M709.5 436v8M710.5 325v4M710.5 347v4M711.5 340v3M711.5 366v3M711.5 381v3M711.5 429v4M711.5 455v7M712.5 403v4M715.5 429v4M716.5 436v4M716.5 444v4M716.5 451v4M718.5 355v3M718.5 369v4M718.5 444v4M719.5 369v4M720.5 358v4M722.5 366v3M722.5 373v4M722.5 436v4M723.5 373v4M723.5 429v4M724.5 321v4M725.5 355v3M726.5 351v4M726.5 377v4M726.5 425v4M726.5 451v8M728.5 366v3M728.5 455v7M729.5 325v4M729.5 358v4M729.5 366v3M729.5 444v4M729.5 451v4M731.5 451v4M733.5 332v4M733.5 347v4M733.5 429v4M735.5 351v4M735.5 455v4M736.5 459v3M737.5 429v7M738.5 369v4M738.5 436v4M739.5 369v4M741.5 425v4M742.5 321v11M742.5 340v3M742.5 425v8M743.5 444v4M744.5 369v4M745.5 362v4M746.5 433v3M747.5 381v3M752.5 340v3M755.5 343v4M756.5 321v4M759.5 336v4M760.5 321v4M760.5 332v8M760.5 377v4M760.5 384v4M762.5 340v3M766.5 336v4M767.5 317v4M767.5 340v3"/><path stroke="#606000" d="M563.5 444v4M565.5 332v4M566.5 314v7M566.5 325v4M568.5 329v3M568.5 347v4M568.5 448v3M568.5 459v3M569.5 407v3M570.5 314v3M573.5 336v4M573.5 347v4M574.5 340v3M577.5 448v3M577.5 459v3M578.5 314v3M580.5 321v11M581.5 329v3M582.5 329v3M582.5 407v3M583.5 314v3M583.5 321v4M583.5 459v3M584.5 314v3M584.5 325v4M586.5 314v3M587.5 314v3M589.5 321v8M589.5 340v3M590.5 314v3M592.5 321v4M592.5 332v4M595.5 314v3M597.5 317v4M597.5 329v3M597.5 340v3M598.5 314v11M598.5 332v11M602.5 321v4M602.5 329v3M602.5 336v4M603.5 321v4M605.5 336v4M605.5 395v12M605.5 410v4M605.5 448v11M606.5 332v4M606.5 444v4M606.5 459v3M608.5 314v3M608.5 325v4M611.5 321v4M611.5 336v4M612.5 314v3M614.5 343v4M615.5 332v4M616.5 388v4M619.5 317v4M619.5 340v3M620.5 448v3M621.5 325v4M621.5 340v3M621.5 448v3M624.5 388v4M624.5 403v4M625.5 325v7M625.5 336v4M625.5 343v4M626.5 343v8M628.5 314v3M628.5 336v4M629.5 321v4M629.5 340v3M631.5 403v4M632.5 314v3M632.5 321v8M632.5 336v4M633.5 403v4M633.5 410v4M633.5 444v4M635.5 321v4M636.5 314v3M636.5 325v4M637.5 321v4M638.5 314v3M638.5 429v4M638.5 444v11M640.5 455v4M641.5 388v4M643.5 317v4M643.5 444v4M643.5 451v8M644.5 336v4M644.5 436v8M644.5 459v3M645.5 314v3M646.5 325v4M648.5 314v3M648.5 321v4M648.5 329v3M648.5 340v3M649.5 347v4M649.5 433v3M650.5 343v4M652.5 332v4M653.5 332v4M653.5 347v4M654.5 314v3M654.5 336v4M654.5 451v4M655.5 340v3M657.5 314v3M657.5 455v4M658.5 329v3M658.5 347v4M665.5 355v3M665.5 369v8M667.5 351v4M667.5 377v4M669.5 358v4M670.5 358v4M670.5 366v7M672.5 384v4M673.5 384v4M674.5 369v4M675.5 377v4M676.5 351v4M681.5 377v4M682.5 351v4M685.5 351v4M686.5 366v3M687.5 366v3M690.5 355v3M690.5 366v3M690.5 373v4M693.5 351v4M693.5 358v4M694.5 351v4M695.5 355v3M695.5 381v3M696.5 362v15M697.5 377v4M698.5 381v3M701.5 355v3M701.5 362v4M702.5 351v4M703.5 369v4M704.5 366v3M709.5 392v7M710.5 392v3M710.5 410v4M711.5 392v3M712.5 422v3M713.5 377v11M713.5 414v4M714.5 422v3M715.5 366v3M715.5 403v4M715.5 410v4M716.5 403v4M716.5 410v4M717.5 392v3M717.5 410v8M718.5 366v3M718.5 388v4M718.5 399v4M719.5 403v4M722.5 392v3M722.5 399v4M722.5 418v4M723.5 418v4M724.5 395v4M725.5 414v4M726.5 366v3M726.5 373v4M729.5 410v4M730.5 358v4M730.5 369v4M730.5 388v4M730.5 403v4M730.5 418v4M731.5 414v8M732.5 392v3M732.5 410v4M733.5 355v3M733.5 362v7M733.5 381v3M733.5 414v4M734.5 369v4M734.5 388v4M735.5 388v4M735.5 403v4M735.5 410v8M736.5 362v4M737.5 369v4M737.5 410v4M738.5 399v4M739.5 392v3M739.5 407v3M740.5 355v3M740.5 381v3M741.5 351v4M741.5 373v4M741.5 384v4M741.5 395v4M741.5 403v4M742.5 395v8M742.5 407v3M743.5 395v4M743.5 414v4M744.5 395v4M744.5 407v11M746.5 395v4M746.5 403v7M746.5 418v4M747.5 395v4M747.5 403v4M749.5 429v4M752.5 429v7M752.5 448v3M753.5 321v4M753.5 332v4M753.5 429v4M754.5 425v4M755.5 455v4M756.5 343v4M758.5 459v3M759.5 455v4M760.5 436v4M764.5 317v4M764.5 325v4M764.5 340v3M764.5 347v4M766.5 347v4"/><path stroke="#603030" d="M563.5 455v4M564.5 392v3M565.5 444v4M567.5 388v4M569.5 384v4M572.5 395v4M574.5 422v3M574.5 433v3M578.5 418v4M579.5 317v4M580.5 395v4M580.5 403v4M580.5 451v4M586.5 395v4M587.5 347v4M587.5 395v4M588.5 317v4M590.5 340v3M590.5 403v4M593.5 410v4M594.5 407v3M598.5 399v4M598.5 410v4M599.5 317v4M599.5 362v4M601.5 332v4M601.5 340v3M602.5 392v3M603.5 448v7M604.5 440v4M604.5 451v4M606.5 347v4M607.5 381v3M609.5 448v3M612.5 422v3M613.5 321v4M613.5 340v3M615.5 373v4M618.5 362v4M618.5 399v4M618.5 451v4M619.5 395v4M620.5 314v3M620.5 343v4M621.5 321v4M621.5 362v4M622.5 321v4M623.5 314v3M626.5 381v7M628.5 358v4M629.5 403v4M630.5 317v4M631.5 317v4M637.5 455v4M638.5 395v4M639.5 332v4M640.5 392v3M640.5 399v4M641.5 395v4M641.5 407v3M642.5 321v4M642.5 332v4M645.5 343v4M646.5 451v4M647.5 325v4M650.5 369v4M650.5 392v3M650.5 422v3M651.5 329v3M652.5 403v4M655.5 369v4M655.5 444v4M656.5 329v3M656.5 388v4M656.5 403v4M656.5 422v3M657.5 395v4M657.5 418v4M657.5 459v3M658.5 336v4M659.5 362v4M663.5 395v4M663.5 414v4M664.5 403v7M665.5 381v3M669.5 403v4M670.5 407v3M681.5 314v3M682.5 395v4M682.5 425v4M692.5 410v4M692.5 422v3M694.5 395v4M694.5 422v3M695.5 414v4M695.5 448v3M698.5 418v7M699.5 422v3M701.5 418v4M702.5 325v4M702.5 407v3M703.5 399v4M706.5 422v3M711.5 362v4M712.5 369v4M715.5 459v3M720.5 351v4M720.5 369v4M721.5 355v3M721.5 366v3M721.5 373v4M725.5 369v4M727.5 381v3M728.5 351v4M732.5 351v4M732.5 362v4M732.5 377v4M734.5 355v3M739.5 403v4M740.5 373v4M743.5 384v4M747.5 355v3M747.5 425v4M750.5 321v4M758.5 314v3M758.5 329v3M759.5 314v3M761.5 321v4"/><path stroke="#787800" d="M564.5 314v3M564.5 336v4M568.5 317v4M568.5 336v4M569.5 325v4M573.5 329v3M577.5 451v4M581.5 317v8M581.5 332v4M581.5 343v4M582.5 314v3M582.5 336v7M583.5 332v8M592.5 314v3M596.5 314v3M597.5 325v4M602.5 325v4M602.5 340v3M605.5 317v8M605.5 388v4M605.5 407v3M605.5 436v4M606.5 448v3M606.5 455v4M608.5 321v4M609.5 336v4M611.5 314v3M611.5 340v3M615.5 314v3M616.5 336v4M619.5 321v4M625.5 321v4M626.5 325v4M627.5 314v3M627.5 340v3M629.5 314v3M629.5 325v4M632.5 329v3M633.5 392v3M634.5 451v8M635.5 314v3M636.5 321v4M636.5 332v8M636.5 347v4M637.5 314v3M638.5 425v4M639.5 459v3M643.5 329v3M643.5 336v4M644.5 321v8M644.5 332v4M644.5 433v3M648.5 336v4M649.5 321v8M649.5 340v3M652.5 325v4M653.5 314v3M653.5 336v7M655.5 314v3M658.5 314v3M658.5 332v4M663.5 377v4M664.5 355v3M665.5 351v4M666.5 355v3M667.5 355v3M667.5 384v4M668.5 351v4M671.5 384v4M673.5 351v4M674.5 358v8M674.5 373v4M675.5 355v3M675.5 384v4M676.5 362v4M677.5 369v4M677.5 377v4M678.5 384v4M679.5 381v7M682.5 362v4M683.5 351v4M684.5 351v4M686.5 362v4M686.5 373v4M687.5 351v11M687.5 369v8M689.5 351v4M689.5 369v4M690.5 369v4M691.5 369v4M692.5 355v3M692.5 362v4M693.5 373v4M694.5 355v3M694.5 362v11M695.5 351v4M695.5 373v4M696.5 351v4M698.5 384v4M699.5 355v3M699.5 377v4M700.5 351v4M700.5 358v4M700.5 373v4M701.5 351v4M701.5 358v4M701.5 369v4M703.5 362v4M703.5 373v4M704.5 351v4M705.5 377v4M706.5 358v4M706.5 369v4M707.5 384v4M709.5 388v4M709.5 399v4M709.5 407v3M710.5 418v4M712.5 399v4M712.5 410v4M712.5 418v4M713.5 355v3M713.5 392v7M714.5 362v4M714.5 388v4M714.5 395v8M715.5 362v4M715.5 395v4M715.5 407v3M716.5 392v3M716.5 399v4M716.5 407v3M717.5 418v7M718.5 392v3M718.5 410v4M718.5 422v3M719.5 395v4M719.5 418v4M723.5 392v3M724.5 414v4M725.5 410v4M726.5 410v8M727.5 399v4M727.5 414v4M727.5 422v3M728.5 403v4M728.5 418v4M729.5 351v4M729.5 395v4M729.5 403v4M729.5 422v3M730.5 384v4M730.5 399v4M730.5 407v3M730.5 414v4M731.5 362v4M732.5 388v4M733.5 358v4M733.5 369v8M733.5 392v3M733.5 399v4M733.5 407v3M734.5 407v3M735.5 399v4M735.5 422v3M737.5 381v3M737.5 395v4M737.5 422v3M738.5 403v7M739.5 388v4M739.5 410v4M739.5 422v3M740.5 362v4M740.5 384v4M740.5 395v4M741.5 388v4M741.5 410v8M742.5 388v7M742.5 410v8M743.5 399v4M743.5 422v3M745.5 395v4M745.5 422v3M746.5 388v4M746.5 414v4M747.5 414v4M750.5 433v3M750.5 440v4M751.5 429v4M752.5 425v4M753.5 317v4M753.5 325v4M753.5 448v3M753.5 455v7M754.5 433v3M754.5 451v4M754.5 459v3M755.5 425v8M755.5 436v4M756.5 317v4M756.5 429v11M757.5 429v4M759.5 425v4M759.5 433v3M759.5 451v4M760.5 433v3M762.5 425v4M762.5 448v3M764.5 448v3M766.5 425v4M766.5 444v4M766.5 451v8M768.5 444v4"/><path stroke="#a89018" d="M564.5 317v4M564.5 332v4M569.5 321v4M636.5 340v3M665.5 377v4M717.5 403v4M737.5 399v4"/><path stroke="#909000" d="M564.5 321v4M568.5 321v4M569.5 332v4M570.5 459v3M573.5 317v4M580.5 340v3M581.5 325v4M582.5 321v4M597.5 321v4M599.5 448v3M602.5 314v3M602.5 332v4M604.5 317v19M605.5 414v4M606.5 314v3M607.5 340v3M608.5 336v4M614.5 336v7M614.5 347v4M625.5 314v3M625.5 332v4M625.5 340v3M626.5 317v4M626.5 336v7M632.5 332v4M632.5 340v3M636.5 329v3M638.5 459v3M643.5 314v3M643.5 332v4M643.5 340v3M644.5 314v3M649.5 314v3M652.5 314v3M653.5 321v8M663.5 351v4M663.5 362v4M663.5 369v4M664.5 362v4M665.5 362v7M666.5 369v4M668.5 369v4M669.5 366v3M669.5 373v4M670.5 355v3M670.5 362v4M671.5 355v3M671.5 369v4M672.5 351v4M672.5 358v4M673.5 355v3M673.5 369v4M674.5 355v3M675.5 373v4M676.5 366v3M676.5 373v4M677.5 358v4M680.5 351v7M680.5 366v3M681.5 381v3M682.5 369v4M683.5 355v3M683.5 362v15M684.5 355v3M684.5 366v7M685.5 355v3M685.5 366v3M686.5 358v4M686.5 369v4M687.5 362v4M688.5 366v3M688.5 377v11M689.5 358v4M692.5 366v3M692.5 373v4M694.5 358v4M695.5 362v4M696.5 355v7M698.5 351v4M699.5 373v4M702.5 362v4M704.5 355v3M704.5 369v4M705.5 369v4M706.5 351v7M707.5 369v4M707.5 377v4M709.5 410v4M709.5 422v3M710.5 388v4M711.5 399v4M712.5 414v4M713.5 366v3M713.5 373v4M713.5 399v4M713.5 407v3M713.5 422v3M714.5 392v3M714.5 414v4M715.5 388v4M715.5 399v4M715.5 422v3M716.5 418v4M717.5 399v4M719.5 392v3M719.5 414v4M719.5 422v3M721.5 403v4M722.5 388v4M723.5 395v4M723.5 403v4M723.5 410v8M724.5 388v7M725.5 388v7M725.5 403v4M726.5 388v4M727.5 388v4M727.5 410v4M727.5 418v4M728.5 392v3M728.5 410v4M729.5 399v4M729.5 407v3M729.5 414v8M730.5 410v4M730.5 422v3M731.5 395v4M732.5 414v4M733.5 351v4M733.5 410v4M733.5 418v4M734.5 399v8M734.5 410v4M734.5 422v3M736.5 392v7M736.5 403v4M736.5 418v4M737.5 366v3M738.5 418v4M739.5 414v8M741.5 418v4M742.5 403v4M744.5 388v4M745.5 388v4M745.5 399v4M745.5 407v3M745.5 418v4M746.5 410v4M746.5 422v3M747.5 392v3M747.5 422v3M749.5 436v4M749.5 448v3M750.5 448v3M750.5 459v3M751.5 433v3M751.5 455v4M752.5 440v4M752.5 459v3M753.5 336v7M753.5 444v4M754.5 429v4M754.5 440v4M754.5 455v4M755.5 444v4M755.5 451v4M756.5 440v8M756.5 455v7M757.5 448v3M758.5 440v4M759.5 459v3M760.5 448v7M760.5 459v3M761.5 429v4M762.5 433v3M762.5 440v8M762.5 455v7M763.5 451v8M764.5 455v4M765.5 455v4M766.5 340v3M766.5 436v8M767.5 433v3M768.5 429v4M768.5 459v3"/><path stroke="#787818" d="M564.5 325v4M565.5 340v3M569.5 336v4M581.5 425v4M597.5 451v4M605.5 433v3M607.5 314v3M649.5 317v4M756.5 314v3"/><path stroke="#906018" d="M564.5 329v3M595.5 321v4M619.5 314v3M649.5 448v3"/><path stroke="#781848" d="M564.5 388v4M591.5 343v4M593.5 395v4M594.5 366v3M602.5 399v4M623.5 317v8M631.5 340v3M637.5 418v4M645.5 403v4M649.5 414v4M650.5 418v4M699.5 410v4M712.5 355v3M717.5 377v4M719.5 358v4M742.5 358v4"/><path stroke="#483030" d="M564.5 395v4M567.5 392v3M570.5 332v4M572.5 336v4M578.5 395v4M581.5 433v3M583.5 407v3M591.5 414v4M594.5 358v4M595.5 455v4M599.5 422v3M604.5 433v3M607.5 373v4M607.5 414v4M612.5 381v3M618.5 459v3M619.5 422v3M624.5 459v3M627.5 422v3M631.5 321v4M633.5 343v4M638.5 358v4M644.5 429v4M652.5 392v3M654.5 362v4M656.5 399v4M664.5 414v4M673.5 377v4M681.5 414v4M683.5 451v4M694.5 384v4M701.5 395v4M709.5 366v3M709.5 373v4M720.5 355v3M724.5 384v4M728.5 362v4M754.5 343v4"/><path stroke="#601848" d="M564.5 418v7M566.5 347v4M567.5 410v4M567.5 422v3M571.5 343v4M573.5 418v4M575.5 366v3M575.5 388v7M575.5 418v7M581.5 392v3M583.5 388v11M583.5 418v4M587.5 414v4M590.5 399v4M593.5 325v4M594.5 332v4M594.5 418v4M596.5 388v4M596.5 418v4M601.5 407v3M603.5 340v3M603.5 366v3M607.5 422v3M610.5 410v4M610.5 418v4M611.5 407v3M611.5 418v4M615.5 422v3M616.5 444v7M617.5 388v4M618.5 395v4M620.5 321v4M622.5 336v4M622.5 343v4M623.5 336v4M628.5 410v4M629.5 392v3M630.5 332v4M637.5 410v4M638.5 399v4M639.5 336v4M640.5 388v4M640.5 422v3M642.5 392v3M642.5 455v4M646.5 414v8M649.5 407v3M652.5 395v4M654.5 369v4M654.5 418v4M656.5 395v4M659.5 347v4M660.5 332v4M660.5 451v4M667.5 395v4M668.5 343v4M674.5 340v3M674.5 347v4M676.5 343v4M677.5 332v4M679.5 451v8M680.5 407v3M680.5 422v3M681.5 317v4M682.5 343v4M683.5 422v3M684.5 388v4M684.5 399v4M685.5 321v4M686.5 377v7M687.5 314v3M687.5 332v4M689.5 392v3M693.5 321v4M693.5 381v3M694.5 381v3M695.5 314v3M695.5 336v4M695.5 343v4M695.5 403v4M695.5 429v4M696.5 418v4M700.5 425v4M700.5 448v3M701.5 399v4M702.5 314v7M702.5 329v11M702.5 343v4M703.5 377v4M703.5 410v4M707.5 403v4M710.5 314v3M710.5 321v4M710.5 336v4M710.5 343v4M710.5 377v4M713.5 314v3M713.5 340v3M719.5 314v3M721.5 347v4M722.5 384v4M731.5 325v4M737.5 355v7M740.5 314v3M740.5 332v4M743.5 355v3M743.5 377v4M746.5 384v4M754.5 329v3M755.5 340v3M758.5 343v8M760.5 325v4M765.5 332v4M765.5 340v3M767.5 336v4"/><path stroke="#a87818" d="M565.5 314v3M577.5 329v3"/><path stroke="#a87830" d="M565.5 321v4M607.5 332v4M656.5 336v4M656.5 347v4"/><path stroke="#907800" d="M565.5 336v4M605.5 314v3M752.5 436v4M760.5 429v4"/><path stroke="#303018" d="M565.5 343v4M567.5 325v4M567.5 355v3M567.5 451v4M571.5 425v4M574.5 459v3M576.5 444v4M576.5 455v4M579.5 325v4M580.5 377v7M581.5 429v4M582.5 347v4M582.5 369v4M582.5 395v4M583.5 440v8M587.5 410v4M588.5 336v4M589.5 332v4M590.5 459v3M594.5 455v4M595.5 358v4M595.5 459v3M600.5 332v4M606.5 395v4M607.5 362v4M611.5 343v4M615.5 381v3M618.5 332v4M623.5 403v4M626.5 388v4M626.5 422v3M631.5 448v3M634.5 459v3M643.5 433v3M644.5 377v4M648.5 407v3M649.5 403v4M650.5 329v3M650.5 444v4M650.5 451v4M655.5 332v8M657.5 355v3M659.5 377v4M669.5 377v4M669.5 395v4M676.5 384v4M687.5 377v4M697.5 314v3M697.5 332v4M697.5 395v4M698.5 407v3M705.5 414v4M714.5 355v3M714.5 369v4M716.5 395v4M720.5 373v4M724.5 373v4M730.5 377v7M737.5 351v4M738.5 381v3M766.5 329v3"/><path stroke="#181818" d="M565.5 384v4M567.5 381v3M567.5 455v4M571.5 377v4M572.5 314v3M573.5 429v4M574.5 444v4M575.5 358v4M576.5 436v4M577.5 377v4M577.5 395v4M577.5 433v3M579.5 362v4M579.5 425v4M579.5 433v3M581.5 358v4M581.5 384v4M584.5 362v4M585.5 332v4M586.5 381v3M589.5 362v4M593.5 384v4M593.5 436v4M594.5 355v3M595.5 407v3M598.5 369v4M598.5 455v4M599.5 403v4M600.5 369v4M602.5 444v4M603.5 355v3M603.5 440v4M606.5 343v4M606.5 451v4M608.5 381v3M608.5 407v3M611.5 425v4M612.5 329v3M613.5 395v4M614.5 355v3M615.5 436v4M617.5 384v4M620.5 451v4M625.5 440v4M627.5 358v4M629.5 373v4M630.5 418v4M633.5 317v4M634.5 343v4M634.5 355v3M635.5 343v4M635.5 395v4M636.5 381v3M637.5 362v4M640.5 384v4M647.5 381v3M648.5 436v4M650.5 325v4M650.5 425v8M651.5 332v4M651.5 403v4M658.5 399v4M658.5 425v4M658.5 440v4M660.5 369v4M661.5 362v4M661.5 377v4M663.5 440v4M670.5 440v4M672.5 329v7M673.5 399v4M687.5 436v4M702.5 448v3M703.5 440v8M705.5 407v3M709.5 444v4M710.5 403v4M710.5 444v4M715.5 440v4M718.5 358v4M719.5 355v3M719.5 366v3M722.5 440v4M724.5 325v4M733.5 425v4M734.5 448v3M736.5 436v4M736.5 451v4M737.5 444v4M757.5 347v4M760.5 369v4M768.5 362v4"/><path stroke="#301830" d="M565.5 395v8M566.5 373v4M566.5 384v4M568.5 418v7M569.5 399v4M569.5 459v3M571.5 366v3M571.5 373v4M572.5 321v4M574.5 369v4M575.5 403v4M579.5 336v4M579.5 410v4M583.5 410v4M584.5 384v4M585.5 459v3M590.5 429v4M590.5 436v4M591.5 355v3M591.5 440v4M591.5 451v4M594.5 340v3M595.5 373v4M595.5 422v3M596.5 355v3M596.5 384v4M599.5 407v3M600.5 403v4M600.5 444v4M601.5 403v4M603.5 433v3M605.5 347v4M609.5 369v4M609.5 381v3M609.5 440v4M611.5 388v4M612.5 321v4M614.5 407v3M614.5 444v4M620.5 399v4M622.5 418v4M631.5 369v4M632.5 403v4M639.5 325v4M639.5 358v4M640.5 329v3M652.5 451v4M653.5 448v3M656.5 358v4M660.5 455v4M661.5 366v3M664.5 325v4M666.5 455v4M673.5 392v3M674.5 381v3M675.5 329v3M676.5 325v4M680.5 329v3M690.5 410v4M691.5 395v4M692.5 314v3M695.5 325v4M698.5 314v3M698.5 403v4M704.5 392v3M705.5 403v4M707.5 329v3M715.5 351v4M718.5 325v4M723.5 325v4M723.5 358v4M729.5 355v3M729.5 425v4M734.5 377v4M735.5 384v4M740.5 459v3M741.5 325v4M742.5 366v3M746.5 369v4M751.5 362v4M754.5 317v4M762.5 347v4M767.5 314v3"/><path stroke="#784818" d="M566.5 332v4M599.5 451v4M602.5 403v4M633.5 451v4M641.5 414v4M657.5 317v4M657.5 407v3M658.5 325v4M671.5 325v4"/><path stroke="#483000" d="M566.5 336v4M566.5 362v4M568.5 436v4M570.5 433v3M573.5 321v4M579.5 459v3M582.5 451v4M587.5 332v4M594.5 459v3M599.5 381v3M605.5 340v3M608.5 332v4M608.5 425v4M615.5 336v4M616.5 325v4M616.5 362v4M631.5 410v4M635.5 340v3M639.5 340v3M641.5 358v4M647.5 444v4M650.5 340v3M652.5 329v3M656.5 355v3M659.5 314v3M659.5 381v3M661.5 399v4M683.5 381v3M706.5 407v3M707.5 433v3M714.5 377v4M719.5 373v4M723.5 381v3M726.5 369v4M728.5 436v4M731.5 351v4M738.5 362v4M744.5 358v4M745.5 366v3M759.5 325v4"/><path stroke="#603048" d="M567.5 407v3M574.5 395v4M587.5 388v7M590.5 407v3M591.5 314v3M600.5 329v3M622.5 410v4M626.5 373v4M628.5 373v4M630.5 377v4M637.5 399v4M637.5 414v4M664.5 418v4M683.5 392v3M684.5 414v4M699.5 392v3M702.5 347v4M702.5 392v3M703.5 407v3M721.5 351v4M740.5 329v3M760.5 317v4M761.5 343v4M768.5 332v4"/><path stroke="#604800" d="M568.5 325v4M569.5 347v4M570.5 429v4M585.5 403v4M597.5 444v4M606.5 425v4M616.5 407v3M621.5 395v4M621.5 422v3M629.5 444v4M635.5 325v7M636.5 343v4M648.5 451v4M651.5 455v4M653.5 329v3M676.5 369v4M679.5 377v4M682.5 418v4M722.5 403v4M734.5 351v4M734.5 395v4M743.5 407v3M744.5 362v4M764.5 336v4M766.5 314v3"/><path stroke="#786000" d="M569.5 329v3M570.5 448v3M582.5 325v4M606.5 317v4M703.5 351v4M755.5 433v3M766.5 343v4"/><path stroke="#481818" d="M570.5 340v3M575.5 410v4M579.5 422v3M582.5 422v3M591.5 444v4M598.5 403v4M601.5 329v3M608.5 403v4M610.5 395v4M610.5 440v4M613.5 392v3M617.5 321v4M619.5 418v4M624.5 399v4M626.5 377v4M626.5 399v4M626.5 418v4M630.5 329v3M631.5 314v3M631.5 373v4M632.5 388v4M639.5 410v4M642.5 403v4M651.5 336v4M652.5 436v4M655.5 358v8M656.5 448v3M657.5 329v3M661.5 455v4M663.5 388v4M666.5 436v4M670.5 414v4M677.5 325v4M681.5 325v4M682.5 381v3M682.5 422v3M682.5 459v3M683.5 448v3M689.5 384v4M696.5 384v4M702.5 418v4M706.5 392v3M713.5 369v4M716.5 448v3M732.5 425v4M732.5 459v3M735.5 355v3M735.5 429v4M736.5 329v3M747.5 329v3M747.5 448v3M761.5 314v3"/><path stroke="#780078" d="M570.5 418v4M571.5 399v4M586.5 392v3M588.5 392v3M590.5 410v4M592.5 392v3M592.5 399v4M592.5 414v4M599.5 366v3M601.5 414v4M603.5 388v4M603.5 399v4M603.5 410v8M606.5 366v3M609.5 366v3M610.5 343v4M612.5 395v4M615.5 395v4M620.5 366v3M637.5 366v3M642.5 414v4M643.5 366v3M643.5 388v7M643.5 399v4M646.5 395v4M652.5 366v3M663.5 410v4M663.5 418v4M663.5 425v4M664.5 314v7M664.5 343v4M665.5 317v4M666.5 395v4M666.5 418v4M667.5 317v8M667.5 336v4M667.5 399v4M667.5 455v4M668.5 418v4M669.5 317v4M670.5 425v4M671.5 399v4M673.5 455v4M675.5 388v4M675.5 425v4M675.5 455v4M677.5 418v4M678.5 314v3M678.5 329v3M678.5 336v4M678.5 343v4M679.5 336v7M679.5 347v4M680.5 317v4M680.5 340v3M680.5 399v4M681.5 418v4M683.5 329v3M685.5 336v4M685.5 343v4M685.5 395v4M686.5 336v4M686.5 425v4M687.5 418v4M688.5 336v4M688.5 347v4M689.5 314v3M689.5 321v4M689.5 343v4M689.5 448v3M690.5 340v3M691.5 425v4M691.5 455v4M693.5 314v7M693.5 332v4M693.5 340v3M693.5 347v4M693.5 425v4M694.5 340v3M694.5 347v4M696.5 343v4M696.5 388v4M696.5 410v4M698.5 425v4M698.5 448v3M700.5 314v7M700.5 340v3M700.5 347v4M700.5 399v4M700.5 407v7M701.5 314v7M701.5 343v4M701.5 455v4M703.5 317v4M703.5 332v4M703.5 343v4M704.5 425v4M704.5 455v4M705.5 314v7M707.5 422v3M711.5 358v4M712.5 336v4M713.5 343v4M713.5 433v3M714.5 314v3M715.5 321v4M715.5 332v4M716.5 343v4M717.5 317v8M717.5 343v4M718.5 317v8M719.5 317v8M719.5 332v11M721.5 317v8M721.5 332v4M722.5 314v3M725.5 343v4M728.5 321v4M728.5 340v3M731.5 317v4M731.5 340v3M734.5 332v4M734.5 343v8M735.5 314v3M735.5 329v3M735.5 343v4M737.5 317v8M737.5 336v4M737.5 347v4M738.5 340v3M740.5 317v4M740.5 340v3M742.5 336v4M742.5 384v4M743.5 358v4M744.5 314v3M744.5 332v4M744.5 340v3M746.5 314v3M746.5 329v3M746.5 336v4M746.5 347v4M747.5 321v4M749.5 340v3M749.5 388v4M749.5 403v7M751.5 314v3M751.5 407v15M752.5 407v3M752.5 422v3M753.5 388v4M753.5 399v4M754.5 395v4M754.5 407v3M756.5 410v4M756.5 418v4M757.5 314v3M757.5 332v4M757.5 403v11M757.5 418v7M758.5 388v4M759.5 373v4M759.5 395v4M759.5 422v3M760.5 392v11M760.5 410v4M761.5 395v4M763.5 407v3M763.5 414v4M763.5 422v3M764.5 403v7M764.5 414v8M765.5 410v8M766.5 407v3M766.5 418v4M767.5 395v4M767.5 403v4M767.5 410v8M767.5 422v3M768.5 418v7"/><path stroke="#601860" d="M571.5 414v4M591.5 321v4M611.5 395v4M668.5 410v4M670.5 388v4M674.5 399v4M679.5 332v4M681.5 399v4M716.5 332v4M721.5 340v3M730.5 325v7M758.5 321v4M762.5 325v4"/><path stroke="#481848" d="M574.5 366v3M575.5 399v4M584.5 373v4M584.5 407v3M589.5 395v4M594.5 381v3M614.5 395v4M616.5 451v4M622.5 325v4M622.5 332v4M630.5 336v4M630.5 373v4M637.5 392v3M645.5 392v3M645.5 459v3M663.5 329v3M664.5 347v4M666.5 414v4M666.5 429v4M669.5 429v4M675.5 347v4M679.5 448v3M685.5 425v4M694.5 329v3M695.5 407v3M702.5 321v4M710.5 381v3M721.5 381v7M734.5 381v3M741.5 329v3M744.5 451v4M750.5 336v4M750.5 343v4M751.5 377v4M755.5 325v4M761.5 347v4"/><path stroke="#783048" d="M575.5 395v4M578.5 392v3M583.5 366v3M587.5 418v4M596.5 399v4M601.5 422v3M609.5 395v4M609.5 410v4M611.5 399v4M612.5 388v4M612.5 414v8M621.5 343v4M629.5 399v4M630.5 384v4M637.5 403v4M640.5 410v4M640.5 418v4M641.5 399v4M642.5 399v4M646.5 343v4M649.5 392v3M650.5 388v4M654.5 343v4M661.5 329v7M663.5 403v4M664.5 392v3M664.5 422v3M668.5 329v3M670.5 399v4M671.5 332v4M671.5 343v4M675.5 343v4M679.5 329v3M682.5 388v4M683.5 395v4M683.5 418v4M684.5 392v3M684.5 422v3M686.5 403v4M689.5 455v4M693.5 407v3M694.5 399v8M695.5 425v4M699.5 403v7M700.5 381v3M701.5 407v3M703.5 384v4M710.5 351v4M711.5 384v4M713.5 317v4M713.5 336v4M721.5 377v4M724.5 369v4M729.5 332v4M743.5 362v4M743.5 381v3M750.5 329v7M759.5 343v4M763.5 347v4"/><path stroke="#c09030" d="M577.5 325v4M607.5 325v4M672.5 381v3M710.5 384v4"/><path stroke="#904830" d="M577.5 332v4"/><path stroke="#904848" d="M577.5 343v4M630.5 340v3M649.5 410v4M656.5 343v4M675.5 336v4M684.5 407v3M743.5 369v4M749.5 347v4M750.5 314v7M750.5 347v4"/><path stroke="#a84860" d="M579.5 340v3M613.5 329v3"/><path stroke="#786030" d="M580.5 332v4M589.5 403v4M607.5 329v3M661.5 321v4"/><path stroke="#783030" d="M580.5 418v4M583.5 317v4M587.5 422v3M595.5 343v4M630.5 362v4M631.5 336v4M637.5 395v4M644.5 444v4M650.5 399v4M651.5 418v4M661.5 347v4M686.5 418v4M703.5 392v3M710.5 358v4M721.5 358v4"/><path stroke="#604830" d="M580.5 444v7M594.5 403v4M595.5 444v4M600.5 325v4M602.5 418v4M602.5 451v4M630.5 314v3M675.5 325v4M684.5 395v4M702.5 422v3M738.5 384v4M759.5 321v4"/><path stroke="#d8d800" d="M581.5 314v3M614.5 314v3M666.5 362v4M667.5 358v4M671.5 373v4M672.5 362v7M675.5 366v3M677.5 373v4M678.5 358v8M678.5 369v4M679.5 366v7M680.5 358v4M680.5 373v4M681.5 351v4M682.5 366v3M688.5 351v4M688.5 358v4M689.5 373v4M691.5 362v4M697.5 366v3M698.5 358v11M699.5 366v3M702.5 355v7M704.5 373v4M706.5 362v4M707.5 358v8M711.5 407v3M713.5 388v4M716.5 388v4M719.5 410v4M720.5 403v4M720.5 418v4M721.5 422v3M724.5 418v4M727.5 407v3M728.5 407v3M731.5 399v4M736.5 388v4M736.5 422v3M738.5 422v3M740.5 388v4M740.5 407v3M742.5 422v3M747.5 399v4M749.5 440v4M751.5 436v4M757.5 425v4M757.5 433v3M758.5 425v4M758.5 448v3M761.5 433v3M763.5 425v4M764.5 459v3M765.5 433v7M765.5 451v4M768.5 433v7"/><path stroke="#c0c000" d="M581.5 340v3M614.5 321v4M626.5 314v3M663.5 373v4M664.5 369v4M665.5 358v4M666.5 373v4M667.5 362v4M667.5 369v4M668.5 355v3M671.5 351v4M671.5 358v4M671.5 366v3M672.5 355v3M672.5 373v4M673.5 373v4M675.5 358v4M675.5 369v4M677.5 351v7M677.5 366v3M678.5 351v7M679.5 351v11M679.5 373v4M681.5 355v3M681.5 384v4M682.5 358v4M682.5 373v4M685.5 358v4M688.5 362v4M688.5 369v4M691.5 358v4M695.5 358v4M697.5 351v4M698.5 355v3M698.5 369v4M699.5 362v4M700.5 362v4M701.5 373v4M702.5 366v3M702.5 373v4M704.5 358v4M705.5 351v7M705.5 362v7M707.5 351v7M707.5 366v3M711.5 388v4M711.5 410v8M713.5 410v4M713.5 418v4M714.5 410v4M714.5 418v4M719.5 388v4M719.5 407v3M720.5 395v4M720.5 407v3M721.5 388v4M721.5 395v4M721.5 407v3M721.5 414v4M722.5 414v4M723.5 388v4M723.5 399v4M723.5 422v3M724.5 422v3M726.5 422v3M728.5 395v4M728.5 414v4M731.5 388v4M731.5 407v7M731.5 422v3M733.5 388v4M733.5 422v3M736.5 399v4M736.5 407v7M738.5 388v4M738.5 395v4M738.5 414v4M740.5 399v8M740.5 410v12M747.5 410v4M747.5 418v4M749.5 425v4M749.5 444v4M749.5 455v7M751.5 448v3M751.5 459v3M752.5 444v4M753.5 425v4M754.5 444v4M757.5 436v12M757.5 451v4M758.5 433v3M758.5 451v4M761.5 425v4M761.5 436v8M761.5 451v8M763.5 429v7M763.5 444v7M764.5 429v7M764.5 440v4M765.5 440v4M765.5 448v3M765.5 459v3M766.5 433v3M766.5 448v3M766.5 459v3M767.5 425v8M767.5 448v3M767.5 455v7M768.5 440v4M768.5 451v4"/><path stroke="#907830" d="M583.5 325v4"/><path stroke="#601830" d="M583.5 422v3M585.5 340v3M592.5 347v4M596.5 414v4M599.5 373v4M600.5 340v3M602.5 366v3M610.5 317v4M612.5 366v3M620.5 332v4M623.5 381v3M626.5 362v4M626.5 369v4M638.5 377v4M638.5 407v3M642.5 336v4M646.5 329v3M649.5 422v3M650.5 403v4M651.5 399v4M670.5 392v3M670.5 418v4M674.5 317v4M681.5 321v4M711.5 355v3M743.5 436v4M745.5 347v4M746.5 358v4M760.5 329v3M768.5 325v4"/><path stroke="#606018" d="M586.5 336v4M607.5 347v4M609.5 321v4M621.5 410v4M651.5 314v3M689.5 366v3M709.5 418v4M718.5 395v4M743.5 418v4M750.5 455v4M753.5 314v3"/><path stroke="#903048" d="M586.5 422v3M640.5 414v4M686.5 395v4"/><path stroke="#784848" d="M590.5 343v4M613.5 332v4M634.5 340v3M642.5 329v3M649.5 388v4M649.5 418v4M659.5 336v4M679.5 429v4M750.5 325v4"/><path stroke="#780060" d="M591.5 325v4M603.5 403v4M680.5 395v4M690.5 332v4M700.5 392v3M751.5 336v4M751.5 422v3"/><path stroke="#903060" d="M591.5 329v3M601.5 399v4M623.5 329v3M623.5 343v4M652.5 414v4M659.5 329v3M679.5 321v4M683.5 399v8M683.5 410v8M686.5 414v4M692.5 388v4M694.5 414v4M695.5 321v4M703.5 395v4M710.5 362v4M720.5 377v4M729.5 340v3M740.5 336v4M765.5 317v4"/><path stroke="#a83090" d="M591.5 332v4"/><path stroke="#783060" d="M591.5 336v4M593.5 418v4M642.5 418v4M647.5 317v4M649.5 395v4M668.5 314v3M729.5 343v4"/><path stroke="#901878" d="M592.5 418v4M613.5 317v4M680.5 388v4M690.5 314v3M707.5 395v4"/><path stroke="#900090" d="M596.5 366v3M601.5 418v4M630.5 366v3M643.5 418v4M658.5 366v3M664.5 340v3M665.5 340v3M667.5 340v7M667.5 422v7M668.5 425v4M671.5 418v4M673.5 425v4M678.5 340v3M679.5 317v4M679.5 343v4M680.5 425v4M681.5 425v4M683.5 314v3M683.5 336v4M683.5 347v4M685.5 399v4M685.5 410v4M685.5 422v3M686.5 340v3M686.5 347v4M688.5 388v4M689.5 340v3M689.5 347v4M689.5 425v4M690.5 347v4M693.5 336v4M693.5 343v4M696.5 321v4M699.5 388v4M699.5 395v8M700.5 414v4M703.5 314v3M705.5 347v4M712.5 314v3M712.5 332v4M712.5 343v8M714.5 317v4M714.5 340v3M715.5 317v4M717.5 332v4M717.5 340v3M718.5 332v4M720.5 317v4M721.5 343v4M722.5 317v8M722.5 329v3M722.5 336v4M722.5 343v8M725.5 321v4M725.5 332v11M730.5 317v4M734.5 340v3M735.5 321v4M735.5 332v8M737.5 314v3M737.5 340v3M746.5 317v8M746.5 343v4M749.5 336v4M750.5 392v7M751.5 403v4M753.5 395v4M754.5 422v3M755.5 388v4M756.5 388v4M756.5 395v4M756.5 403v7M759.5 399v4M760.5 388v4M761.5 388v7M761.5 399v4M762.5 399v4M763.5 403v4M763.5 410v4M764.5 395v8M766.5 422v3M767.5 399v4M767.5 407v3"/><path stroke="#a86048" d="M600.5 317v4M607.5 343v4M624.5 329v3"/><path stroke="#a800a8" d="M601.5 392v3M664.5 399v4M671.5 403v4M683.5 317v4M683.5 332v4M683.5 340v3M699.5 414v4M700.5 403v4M703.5 321v4M703.5 340v3M705.5 340v3M712.5 317v4M722.5 340v3M725.5 317v4M729.5 317v4M734.5 317v4M735.5 317v4M735.5 340v3M737.5 332v4M746.5 340v3M749.5 395v4M749.5 410v4M750.5 388v4M751.5 388v4M751.5 395v4M752.5 388v11M753.5 392v3M754.5 399v4M755.5 395v4M757.5 399v4M757.5 414v4M758.5 395v8M762.5 388v4M762.5 395v4M764.5 388v4M765.5 388v4M765.5 395v4M766.5 388v4M766.5 414v4M767.5 388v4M768.5 388v4M768.5 395v12M768.5 410v8"/><path stroke="#781878" d="M601.5 395v4M669.5 425v4M763.5 343v4"/><path stroke="#a83078" d="M613.5 336v4M640.5 395v4"/><path stroke="#a81890" d="M623.5 347v4"/><path stroke="#901860" d="M630.5 321v4"/><path stroke="#909018" d="M656.5 314v3M726.5 399v4"/><path stroke="#c07848" d="M656.5 340v3M758.5 317v4"/><path stroke="#f0f000" d="M667.5 366v3M667.5 373v4M673.5 366v3M675.5 362v4M678.5 366v3M678.5 373v4M681.5 358v15M688.5 355v3M697.5 373v4M698.5 373v4M705.5 358v4M720.5 392v3M720.5 399v4M720.5 410v8M721.5 399v4M724.5 399v4M728.5 388v4M728.5 399v4M740.5 422v3M747.5 388v4M751.5 451v4M761.5 444v4M765.5 425v4M765.5 444v4M767.5 436v4M767.5 451v4M768.5 448v3"/><path stroke="#901890" d="M681.5 403v4"/><path stroke="#a81878" d="M681.5 410v4"/><path stroke="#c000c0" d="M683.5 343v4M700.5 422v3M722.5 332v4M746.5 332v4M749.5 399v4M750.5 399v4M751.5 392v3M751.5 399v4M752.5 399v4M754.5 388v7M755.5 399v4M756.5 414v4M757.5 388v4M758.5 392v3M759.5 392v3M762.5 392v3M763.5 388v4M765.5 392v3M765.5 399v4M766.5 395v8M766.5 410v4M767.5 392v3M768.5 392v3"/><path stroke="#a83060" d="M699.5 418v4M713.5 347v4M765.5 347v4"/><path stroke="#a86060" d="M700.5 377v4M758.5 340v3"/><path stroke="#ffff00" d="M705.5 373v4M720.5 388v4M720.5 422v3M767.5 444v4"/><path stroke="#900078" d="M730.5 314v3"/><path stroke="#d89048" d="M737.5 392v3"/><path stroke="#d800d8" d="M749.5 392v3M755.5 392v3M756.5 399v4M757.5 395v4M763.5 392v7M764.5 392v3M766.5 392v3"/><path stroke="#ff00ff" d="M756.5 392v3"/><path stroke="#f000f0" d="M757.5 392v3M763.5 399v4"/></g>
<rect x="662" y="313.7" width="1" height="148.7" fill="#e0e0e0"/>
<rect x="708" y="313.7" width="1" height="148.7" fill="#e0e0e0"/>
<rect x="748" y="313.7" width="1" height="148.7" fill="#e0e0e0"/>
<text x="560.3" y="316.4" font-size="2.5" fill="#555" text-anchor="end">Mmp2</text>
<text x="560.3" y="319.9" font-size="2.5" fill="#555" text-anchor="end">Fbln1</text>
<text x="560.3" y="323.9" font-size="2.5" fill="#555" text-anchor="end">Col14a1</text>
<text x="560.3" y="327.9" font-size="2.5" fill="#555" text-anchor="end">Dpt</text>
<text x="560.3" y="331.4" font-size="2.5" fill="#555" text-anchor="end">Mfap4</text>
<text x="560.3" y="334.9" font-size="2.5" fill="#555" text-anchor="end">Pi16</text>
<text x="560.3" y="338.9" font-size="2.5" fill="#555" text-anchor="end">Ackr3</text>
<text x="560.3" y="342.4" font-size="2.5" fill="#555" text-anchor="end">Igfl</text>
<text x="560.3" y="345.9" font-size="2.5" fill="#555" text-anchor="end">Pcsk6</text>
<text x="560.3" y="349.9" font-size="2.5" fill="#555" text-anchor="end">Dkk3</text>
<text x="560.3" y="353.9" font-size="2.5" fill="#555" text-anchor="end">Clu</text>
<text x="560.3" y="357.4" font-size="2.5" fill="#555" text-anchor="end">Prg4</text>
<text x="560.3" y="360.9" font-size="2.5" fill="#555" text-anchor="end">Tnfaip6</text>
<text x="560.3" y="364.9" font-size="2.5" fill="#555" text-anchor="end">Cilp</text>
<text x="560.3" y="368.4" font-size="2.5" fill="#555" text-anchor="end">Acan</text>
<text x="560.3" y="371.9" font-size="2.5" fill="#555" text-anchor="end">Hbegf</text>
<text x="560.3" y="375.9" font-size="2.5" fill="#555" text-anchor="end">Ccl2</text>
<text x="560.3" y="379.9" font-size="2.5" fill="#555" text-anchor="end">Enah</text>
<text x="560.3" y="383.4" font-size="2.5" fill="#555" text-anchor="end">Sbsn</text>
<text x="560.3" y="386.9" font-size="2.5" fill="#555" text-anchor="end">Ctsk</text>
<text x="560.3" y="390.9" font-size="2.5" fill="#555" text-anchor="end">Dlk1</text>
<text x="560.3" y="394.4" font-size="2.5" fill="#555" text-anchor="end">Tubb3</text>
<text x="560.3" y="397.9" font-size="2.5" fill="#555" text-anchor="end">Cyp1b1</text>
<text x="560.3" y="401.9" font-size="2.5" fill="#555" text-anchor="end">Ptprn</text>
<text x="560.3" y="405.9" font-size="2.5" fill="#555" text-anchor="end">Fbn1</text>
<text x="560.3" y="409.4" font-size="2.5" fill="#555" text-anchor="end">Tpm2</text>
<text x="560.3" y="412.9" font-size="2.5" fill="#555" text-anchor="end">Sfrp2</text>
<text x="560.3" y="416.9" font-size="2.5" fill="#555" text-anchor="end">Ptgis</text>
<text x="560.3" y="420.9" font-size="2.5" fill="#555" text-anchor="end">Cxcl13</text>
<text x="560.3" y="424.4" font-size="2.5" fill="#555" text-anchor="end">Tnc</text>
<text x="560.3" y="427.9" font-size="2.5" fill="#555" text-anchor="end">Dkk2</text>
<text x="560.3" y="431.9" font-size="2.5" fill="#555" text-anchor="end">Mest</text>
<text x="560.3" y="435.4" font-size="2.5" fill="#555" text-anchor="end">Gpc3</text>
<text x="560.3" y="438.9" font-size="2.5" fill="#555" text-anchor="end">Apoe</text>
<text x="560.3" y="442.9" font-size="2.5" fill="#555" text-anchor="end">Apod</text>
<text x="560.3" y="446.9" font-size="2.5" fill="#555" text-anchor="end">Ccl11</text>
<text x="560.3" y="450.4" font-size="2.5" fill="#555" text-anchor="end">Lyz1</text>
<text x="560.3" y="453.9" font-size="2.5" fill="#555" text-anchor="end">Cdkn2c</text>
<text x="560.3" y="457.9" font-size="2.5" fill="#555" text-anchor="end">Gsn</text>
<text x="560.3" y="461.4" font-size="2.5" fill="#555" text-anchor="end">Fabp4</text>
<text x="773.1" y="363.3" font-size="2.6" fill="#333">Identity</text>
<circle cx="775" cy="366.6" r="0.5" fill="#f8766d"/>
<text x="778.5" y="367.4" font-size="2.1" fill="#555" textLength="17" lengthAdjust="spacingAndGlyphs">Mmp2+ fibroblast</text>
<circle cx="775" cy="370.7" r="0.5" fill="#7cae00"/>
<text x="778.5" y="371.5" font-size="2.1" fill="#555" textLength="17" lengthAdjust="spacingAndGlyphs">Prg4+fibroblast</text>
<circle cx="775" cy="375.3" r="0.5" fill="#00bfc4"/>
<text x="778.5" y="376.1" font-size="2.1" fill="#555" textLength="17" lengthAdjust="spacingAndGlyphs">Ptprn+ fibroblasts</text>
<circle cx="775" cy="379.6" r="0.5" fill="#c77cff"/>
<text x="778.5" y="380.4" font-size="2.1" fill="#555" textLength="17" lengthAdjust="spacingAndGlyphs">Dkk2+ fibroblasts</text>
<text x="773.1" y="389.2" font-size="2.6" fill="#333">Expression</text>
<defs><linearGradient id="gf" x1="0" y1="0" x2="0" y2="1"><stop offset="0" stop-color="#ffff00"/><stop offset="0.5" stop-color="#000"/><stop offset="1" stop-color="#ff00ff"/></linearGradient></defs>
<rect x="773.1" y="390.8" width="3.5" height="21.3" fill="url(#gf)"/>
<text x="778.6" y="393.8" font-size="2" fill="#555">2</text>
<text x="778.6" y="398" font-size="2" fill="#555">1</text>
<text x="778.6" y="402.2" font-size="2" fill="#555">0</text>
<text x="778.6" y="406.4" font-size="2" fill="#555">−1</text>
<text x="778.6" y="410.6" font-size="2" fill="#555">−2</text>
</svg>
</body></html>
